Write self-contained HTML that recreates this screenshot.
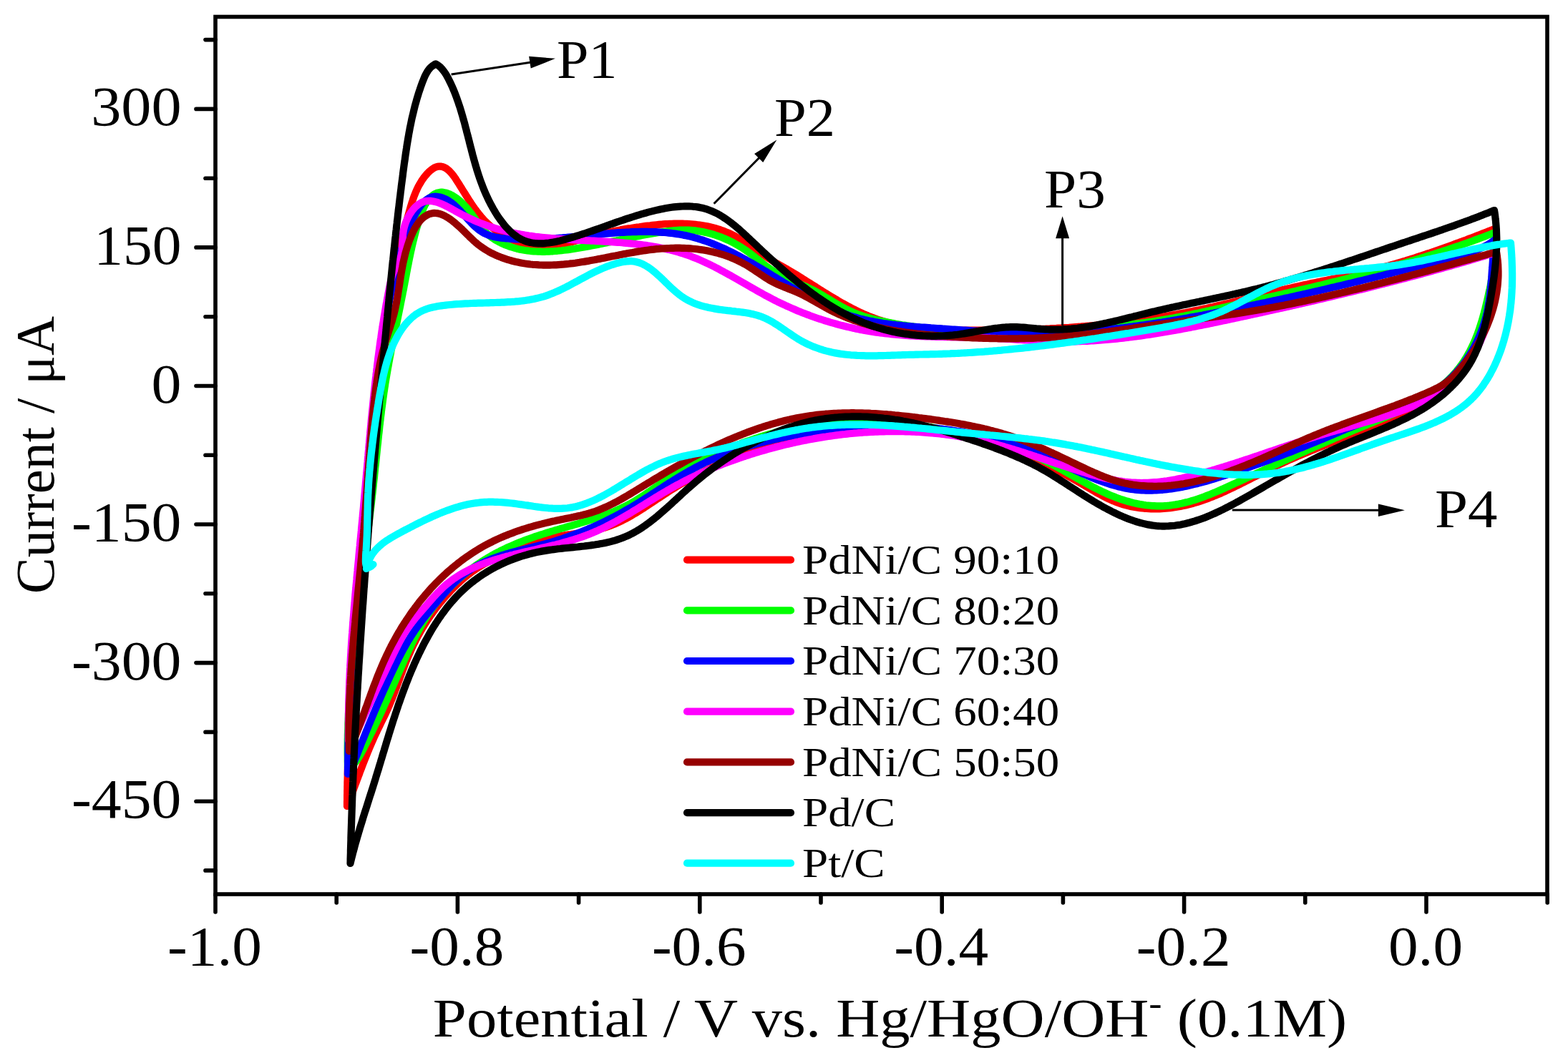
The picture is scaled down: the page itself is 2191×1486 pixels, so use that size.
<!DOCTYPE html><html><head><meta charset="utf-8"><style>html,body{margin:0;padding:0;background:#fff;}svg{display:block;}</style></head><body>
<svg width="2191" height="1486" viewBox="0 0 2191 1486">
<rect width="2191" height="1486" fill="#fff"/>
<path d="M485.0 1127.0L485.0 1124.0 485.0 1121.0 485.1 1118.0 485.1 1114.9 485.1 1111.9 485.2 1108.9 485.2 1105.9 485.3 1102.9 485.3 1099.9 485.4 1096.9 485.4 1093.9 485.5 1090.9 485.6 1087.9 485.7 1084.8 485.7 1081.8 485.8 1078.8 485.9 1075.8 486.0 1072.8 486.1 1069.8 486.2 1066.8 486.3 1063.8 486.4 1060.8 486.5 1057.8 486.6 1054.8 486.7 1051.8 486.9 1048.8 487.0 1045.8 487.1 1042.8 487.3 1039.8 487.4 1036.8 487.5 1033.8 487.7 1030.8 487.8 1027.8 488.0 1024.8 488.1 1021.8 488.3 1018.8 488.4 1015.8 488.6 1012.9 488.7 1009.9 488.9 1006.9 489.1 1003.9 489.3 1000.9 489.4 997.9 489.6 994.9 489.8 991.9 490.0 988.9 490.1 985.9 490.3 982.9 490.5 979.9 490.7 976.9 490.9 974.0 491.1 971.0 491.3 968.0 491.5 965.0 491.7 962.0 491.9 959.0 492.1 956.0 492.3 953.0 492.5 950.0 492.7 947.1 493.0 944.1 493.2 941.1 493.4 938.1 493.6 935.1 493.8 932.1 494.1 929.1 494.3 926.1 494.5 923.2 494.7 920.2 495.0 917.2 495.2 914.2 495.4 911.2 495.6 908.2 495.9 905.2 496.1 902.2 496.3 899.3 496.6 896.3 496.8 893.3 497.1 890.3 497.3 887.3 497.5 884.3 497.8 881.3 498.0 878.3 498.3 875.4 498.5 872.4 498.7 869.4 499.0 866.4 499.2 863.4 499.5 860.4 499.7 857.4 500.0 854.4 500.2 851.5 500.4 848.5 500.7 845.5 500.9 842.5 501.2 839.5 501.4 836.5 501.7 833.5 501.9 830.5 502.2 827.5 502.4 824.6 502.6 821.6 502.9 818.6 503.1 815.6 503.4 812.6 503.6 809.6 503.9 806.6 504.1 803.6 504.3 800.6 504.6 797.6 504.8 794.6 505.1 791.6 505.3 788.6 505.5 785.7 505.8 782.7 506.0 779.7 506.2 776.7 506.5 773.7 506.7 770.7 506.9 767.7 507.1 764.7 507.4 761.7 507.6 758.7 507.8 755.7 508.0 752.7 508.3 749.7 508.5 746.7 508.7 743.7 508.9 740.7 509.1 737.7 509.4 734.7 509.6 731.7 509.8 728.7 510.0 725.7 510.2 722.7 510.4 719.7 510.6 716.7 510.8 713.7 511.0 710.7 511.2 707.7 511.5 704.7 511.7 701.7 511.9 698.7 512.1 695.6 512.3 692.6 512.5 689.6 512.7 686.6 512.9 683.6 513.1 680.6 513.3 677.6 513.5 674.6 513.7 671.6 514.0 668.6 514.2 665.6 514.4 662.6 514.6 659.6 514.8 656.6 515.0 653.6 515.2 650.6 515.5 647.6 515.7 644.6 515.9 641.6 516.1 638.6 516.3 635.6 516.6 632.6 516.8 629.6 517.0 626.6 517.3 623.6 517.5 620.6 517.7 617.6 518.0 614.6 518.2 611.6 518.5 608.6 518.7 605.6 518.9 602.6 519.2 599.6 519.5 596.6 519.7 593.6 520.0 590.6 520.2 587.6 520.5 584.6 520.8 581.6 521.0 578.6 521.3 575.6 521.6 572.6 521.9 569.7 522.2 566.7 522.5 563.7 522.8 560.7 523.1 557.7 523.4 554.7 523.7 551.7 524.0 548.8 524.3 545.8 524.6 542.8 524.9 539.8 525.3 536.8 525.6 533.9 525.9 530.9 526.3 527.9 526.6 524.9 527.0 522.0 527.3 519.0 527.7 516.0 528.1 513.1 528.4 510.1 528.8 507.1 529.2 504.2 529.6 501.2 530.0 498.2 530.4 495.3 530.8 492.3 531.2 489.4 531.6 486.4 532.1 483.4 532.5 480.5 532.9 477.5 533.4 474.6 533.8 471.6 534.3 468.7 534.8 465.8 535.2 462.8 535.7 459.9 536.2 456.9 536.7 454.0 537.2 451.0 537.7 448.1 538.2 445.2 538.7 442.2 539.2 439.3 539.7 436.4 540.3 433.4 540.8 430.5 541.4 427.5 541.9 424.6 542.5 421.7 543.0 418.8 543.6 415.8 544.2 412.9 544.8 410.0 545.3 407.0 545.9 404.1 546.5 401.2 547.1 398.2 547.8 395.3 548.4 392.4 549.0 389.4 549.6 386.5 550.3 383.6 550.9 380.6 551.5 377.7 552.2 374.8 552.9 371.8 553.5 368.9 554.2 366.0 554.9 363.0 555.6 360.1 556.2 357.2 556.9 354.2 557.6 351.3 558.3 348.4 559.1 345.4 559.8 342.5 560.5 339.5 561.2 336.6 562.0 333.6 562.7 330.7 563.4 327.8 564.2 324.8 565.0 321.9 565.7 318.9 566.5 315.9 567.3 313.0 568.0 310.0 568.8 307.1 569.6 304.1 570.4 301.2 571.2 298.2 572.0 295.2 572.9 292.3 573.7 289.3 574.6 286.4 575.5 283.5 576.5 280.6 577.4 277.7 578.4 274.9 579.5 272.1 580.6 269.3 581.8 266.6 583.0 263.9 584.3 261.2 585.7 258.6 587.2 256.1 588.7 253.6 590.3 251.1 592.0 248.7 593.8 246.4 595.6 244.2 597.6 242.0 599.7 239.9 601.9 238.0 604.2 236.2 606.5 234.7 608.9 233.6 611.4 232.8 613.9 232.5 616.4 232.7 618.9 233.3 621.3 234.3 623.7 235.6 625.9 237.3 628.1 239.2 630.2 241.4 632.2 243.8 634.2 246.4 636.1 249.1 637.9 251.9 639.7 254.7 641.5 257.5 643.2 260.3 644.9 263.0 646.6 265.8 648.3 268.5 650.0 271.1 651.6 273.8 653.3 276.4 654.9 279.0 656.6 281.6 658.2 284.1 659.9 286.6 661.6 289.1 663.3 291.5 665.1 293.9 666.8 296.2 668.6 298.5 670.5 300.8 672.3 303.0 674.2 305.2 676.2 307.4 678.2 309.5 680.3 311.5 682.4 313.5 684.5 315.5 686.8 317.4 689.1 319.3 691.4 321.1 693.9 322.9 696.3 324.6 698.8 326.2 701.4 327.8 704.0 329.4 706.7 330.8 709.4 332.2 712.1 333.6 714.8 334.8 717.6 336.0 720.5 337.1 723.3 338.2 726.2 339.2 729.1 340.1 732.0 340.9 734.9 341.6 737.9 342.3 740.8 342.9 743.8 343.4 746.8 343.7 749.8 344.1 752.7 344.3 755.7 344.4 758.7 344.4 761.7 344.4 764.6 344.2 767.6 344.0 770.6 343.7 773.5 343.4 776.5 342.9 779.5 342.5 782.4 341.9 785.4 341.3 788.3 340.7 791.3 340.0 794.2 339.3 797.1 338.6 800.1 337.8 803.0 337.1 805.9 336.2 808.9 335.4 811.8 334.6 814.7 333.8 817.6 332.9 820.5 332.1 823.5 331.3 826.4 330.5 829.3 329.7 832.2 328.9 835.1 328.2 837.9 327.5 840.8 326.8 843.7 326.1 846.6 325.5 849.5 324.9 852.4 324.2 855.3 323.7 858.2 323.1 861.1 322.5 864.0 322.0 866.9 321.4 869.8 320.9 872.7 320.4 875.6 319.9 878.6 319.4 881.5 319.0 884.5 318.5 887.5 318.0 890.4 317.6 893.4 317.2 896.4 316.7 899.4 316.3 902.4 315.9 905.4 315.5 908.4 315.2 911.5 314.8 914.5 314.5 917.5 314.2 920.5 313.9 923.6 313.7 926.6 313.4 929.6 313.2 932.7 313.1 935.7 312.9 938.7 312.8 941.8 312.7 944.8 312.7 947.8 312.6 950.8 312.7 953.8 312.7 956.8 312.8 959.8 312.9 962.8 313.1 965.8 313.3 968.8 313.6 971.8 313.9 974.7 314.2 977.7 314.6 980.6 315.0 983.5 315.5 986.5 316.0 989.4 316.6 992.3 317.2 995.1 317.9 998.0 318.7 1000.8 319.5 1003.7 320.3 1006.5 321.2 1009.3 322.2 1012.0 323.3 1014.8 324.4 1017.5 325.5 1020.2 326.7 1022.9 328.0 1025.6 329.4 1028.3 330.8 1030.9 332.3 1033.5 333.8 1036.1 335.4 1038.7 337.0 1041.3 338.7 1043.8 340.4 1046.4 342.1 1048.9 343.8 1051.5 345.5 1054.0 347.3 1056.5 349.1 1059.0 350.8 1061.5 352.6 1064.0 354.4 1066.5 356.1 1069.0 357.8 1071.5 359.5 1074.0 361.2 1076.5 362.8 1079.1 364.4 1081.6 366.0 1084.1 367.5 1086.7 368.9 1089.2 370.4 1091.7 371.8 1094.3 373.2 1096.8 374.7 1099.4 376.1 1101.9 377.6 1104.5 379.1 1107.0 380.6 1109.5 382.1 1112.1 383.7 1114.6 385.2 1117.2 386.8 1119.7 388.4 1122.2 390.0 1124.8 391.6 1127.3 393.2 1129.9 394.8 1132.4 396.4 1135.0 398.0 1137.5 399.6 1140.1 401.2 1142.6 402.9 1145.2 404.5 1147.8 406.1 1150.3 407.7 1152.9 409.3 1155.5 410.9 1158.1 412.5 1160.7 414.1 1163.3 415.6 1165.9 417.2 1168.5 418.7 1171.1 420.3 1173.7 421.8 1176.3 423.3 1179.0 424.8 1181.6 426.2 1184.2 427.7 1186.9 429.1 1189.6 430.5 1192.2 431.9 1194.9 433.2 1197.6 434.6 1200.3 435.9 1203.0 437.1 1205.7 438.4 1208.4 439.6 1211.2 440.7 1213.9 441.9 1216.7 443.0 1219.5 444.1 1222.2 445.1 1225.0 446.1 1227.8 447.0 1230.7 447.9 1233.5 448.8 1236.3 449.7 1239.2 450.5 1242.0 451.2 1244.9 451.9 1247.8 452.6 1250.7 453.3 1253.6 453.9 1256.5 454.5 1259.4 455.1 1262.3 455.6 1265.3 456.1 1268.2 456.6 1271.1 457.0 1274.1 457.4 1277.1 457.8 1280.0 458.2 1283.0 458.5 1286.0 458.8 1289.0 459.1 1292.0 459.4 1295.0 459.7 1298.0 459.9 1301.0 460.1 1304.0 460.3 1307.0 460.5 1310.0 460.6 1313.0 460.8 1316.1 460.9 1319.1 461.0 1322.1 461.1 1325.1 461.2 1328.2 461.3 1331.2 461.4 1334.2 461.5 1337.3 461.5 1340.3 461.6 1343.3 461.6 1346.4 461.6 1349.4 461.7 1352.4 461.7 1355.5 461.7 1358.5 461.7 1361.5 461.7 1364.6 461.7 1367.6 461.7 1370.6 461.7 1373.6 461.7 1376.7 461.7 1379.7 461.7 1382.7 461.7 1385.7 461.7 1388.7 461.7 1391.8 461.6 1394.8 461.6 1397.8 461.6 1400.8 461.5 1403.8 461.5 1406.8 461.4 1409.9 461.4 1412.9 461.3 1415.9 461.2 1418.9 461.2 1421.9 461.1 1424.9 461.0 1427.9 460.9 1430.9 460.8 1433.9 460.7 1436.9 460.6 1439.9 460.5 1442.9 460.4 1445.9 460.3 1448.9 460.2 1451.9 460.1 1454.9 459.9 1457.9 459.8 1460.9 459.7 1463.9 459.5 1466.9 459.4 1469.9 459.2 1472.9 459.0 1475.9 458.9 1478.9 458.7 1481.9 458.5 1484.9 458.3 1487.8 458.1 1490.8 458.0 1493.8 457.8 1496.8 457.5 1499.8 457.3 1502.8 457.1 1505.8 456.9 1508.7 456.7 1511.7 456.4 1514.7 456.2 1517.7 455.9 1520.7 455.7 1523.6 455.4 1526.6 455.2 1529.6 454.9 1532.6 454.6 1535.5 454.3 1538.5 454.0 1541.5 453.7 1544.5 453.4 1547.4 453.1 1550.4 452.8 1553.4 452.5 1556.3 452.2 1559.3 451.8 1562.3 451.5 1565.2 451.1 1568.2 450.8 1571.2 450.4 1574.1 450.1 1577.1 449.7 1580.1 449.3 1583.0 448.9 1586.0 448.5 1588.9 448.1 1591.9 447.7 1594.9 447.3 1597.8 446.9 1600.8 446.5 1603.7 446.0 1606.7 445.6 1609.6 445.1 1612.6 444.7 1615.5 444.2 1618.5 443.7 1621.4 443.3 1624.4 442.8 1627.3 442.3 1630.3 441.8 1633.2 441.3 1636.2 440.8 1639.1 440.2 1642.1 439.7 1645.0 439.2 1648.0 438.6 1650.9 438.1 1653.9 437.5 1656.8 437.0 1659.8 436.4 1662.7 435.8 1665.6 435.2 1668.6 434.6 1671.5 434.0 1674.5 433.4 1677.4 432.8 1680.3 432.1 1683.3 431.5 1686.2 430.9 1689.1 430.2 1692.1 429.5 1695.0 428.9 1697.9 428.2 1700.9 427.5 1703.8 426.8 1706.7 426.2 1709.7 425.5 1712.6 424.8 1715.5 424.1 1718.5 423.4 1721.4 422.6 1724.3 421.9 1727.3 421.2 1730.2 420.5 1733.1 419.8 1736.0 419.0 1739.0 418.3 1741.9 417.6 1744.8 416.9 1747.8 416.1 1750.7 415.4 1753.6 414.7 1756.5 414.0 1759.5 413.2 1762.4 412.5 1765.3 411.8 1768.2 411.0 1771.2 410.3 1774.1 409.6 1777.0 408.9 1779.9 408.2 1782.9 407.5 1785.8 406.7 1788.7 406.0 1791.7 405.3 1794.6 404.6 1797.5 403.9 1800.4 403.3 1803.4 402.6 1806.3 401.9 1809.2 401.2 1812.1 400.6 1815.1 399.9 1818.0 399.3 1820.9 398.6 1823.8 398.0 1826.8 397.4 1829.7 396.7 1832.6 396.1 1835.6 395.5 1838.5 394.9 1841.4 394.3 1844.3 393.7 1847.3 393.1 1850.2 392.5 1853.1 391.9 1856.1 391.3 1859.0 390.7 1861.9 390.1 1864.8 389.5 1867.8 388.9 1870.7 388.3 1873.6 387.7 1876.5 387.0 1879.4 386.4 1882.4 385.8 1885.3 385.2 1888.2 384.5 1891.1 383.9 1894.0 383.2 1897.0 382.5 1899.9 381.9 1902.8 381.2 1905.7 380.5 1908.6 379.8 1911.5 379.1 1914.4 378.3 1917.3 377.6 1920.2 376.9 1923.1 376.1 1926.0 375.3 1928.9 374.6 1931.8 373.8 1934.7 373.0 1937.6 372.2 1940.5 371.4 1943.4 370.5 1946.3 369.7 1949.2 368.9 1952.1 368.0 1954.9 367.2 1957.8 366.3 1960.7 365.4 1963.6 364.6 1966.5 363.7 1969.3 362.8 1972.2 361.9 1975.1 361.0 1978.0 360.1 1980.8 359.1 1983.7 358.2 1986.5 357.3 1989.4 356.3 1992.3 355.4 1995.1 354.4 1998.0 353.5 2000.8 352.5 2003.7 351.5 2006.5 350.5 2009.4 349.5 2012.2 348.5 2015.1 347.5 2017.9 346.5 2020.7 345.5 2023.6 344.5 2026.4 343.5 2029.2 342.5 2032.0 341.4 2034.9 340.4 2037.7 339.4 2040.5 338.3 2043.3 337.3 2046.1 336.2 2049.0 335.2 2051.8 334.1 2054.6 333.0 2057.4 332.0 2060.2 330.9 2063.0 329.8 2065.8 328.7 2068.5 327.7 2071.3 326.6 2074.1 325.5 2076.9 324.4 2079.7 323.3 2082.5 322.2 2085.2 321.1 2088.0 320.0 2088.5 323.1 2089.0 326.2 2089.4 329.3 2089.8 332.4 2090.1 335.5 2090.4 338.5 2090.6 341.5 2090.7 344.5 2090.8 347.6 2090.9 350.5 2090.9 353.5 2090.9 356.5 2090.8 359.5 2090.7 362.4 2090.5 365.4 2090.3 368.3 2090.1 371.2 2089.8 374.1 2089.5 377.1 2089.2 380.0 2088.8 382.9 2088.4 385.8 2088.0 388.7 2087.5 391.6 2087.0 394.5 2086.5 397.4 2085.9 400.3 2085.4 403.1 2084.8 406.0 2084.1 408.9 2083.5 411.8 2082.9 414.7 2082.2 417.6 2081.5 420.5 2080.8 423.4 2080.0 426.4 2079.3 429.3 2078.6 432.2 2077.8 435.1 2077.0 438.1 2076.3 441.0 2075.5 444.0 2074.7 447.0 2073.9 449.9 2073.0 452.9 2072.2 455.9 2071.3 458.9 2070.5 461.8 2069.6 464.8 2068.7 467.7 2067.7 470.7 2066.8 473.6 2065.8 476.5 2064.8 479.4 2063.7 482.3 2062.6 485.2 2061.5 488.0 2060.4 490.8 2059.2 493.6 2057.9 496.4 2056.7 499.1 2055.4 501.8 2054.0 504.5 2052.6 507.1 2051.2 509.7 2049.7 512.3 2048.1 514.8 2046.5 517.2 2044.9 519.6 2043.2 522.0 2041.4 524.3 2039.6 526.6 2037.7 528.8 2035.7 531.0 2033.7 533.1 2031.7 535.1 2029.6 537.2 2027.4 539.1 2025.2 541.0 2023.0 542.9 2020.7 544.8 2018.4 546.6 2016.0 548.3 2013.6 550.0 2011.1 551.7 2008.6 553.4 2006.1 555.0 2003.6 556.6 2001.0 558.1 1998.4 559.6 1995.8 561.1 1993.1 562.6 1990.5 564.0 1987.8 565.5 1985.1 566.8 1982.3 568.2 1979.6 569.6 1976.9 570.9 1974.1 572.2 1971.3 573.5 1968.6 574.8 1965.8 576.1 1963.0 577.3 1960.2 578.6 1957.5 579.8 1954.7 581.1 1951.9 582.3 1949.1 583.5 1946.3 584.7 1943.5 585.9 1940.8 587.0 1938.0 588.2 1935.2 589.4 1932.4 590.5 1929.6 591.7 1926.8 592.8 1924.0 594.0 1921.2 595.1 1918.4 596.2 1915.7 597.3 1912.9 598.4 1910.1 599.5 1907.3 600.6 1904.5 601.7 1901.7 602.8 1898.9 603.9 1896.1 605.0 1893.3 606.1 1890.5 607.2 1887.7 608.3 1884.9 609.4 1882.1 610.4 1879.4 611.5 1876.6 612.6 1873.8 613.7 1871.0 614.8 1868.2 615.8 1865.4 616.9 1862.6 618.0 1859.9 619.1 1857.1 620.2 1854.3 621.3 1851.5 622.3 1848.7 623.4 1846.0 624.5 1843.2 625.6 1840.4 626.7 1837.7 627.9 1834.9 629.0 1832.1 630.1 1829.4 631.2 1826.6 632.4 1823.8 633.5 1821.1 634.7 1818.3 635.8 1815.6 637.0 1812.8 638.1 1810.1 639.3 1807.4 640.5 1804.6 641.7 1801.9 642.9 1799.1 644.1 1796.4 645.4 1793.7 646.6 1791.0 647.9 1788.3 649.1 1785.5 650.4 1782.8 651.7 1780.1 653.0 1777.4 654.3 1774.7 655.6 1772.0 656.9 1769.3 658.3 1766.6 659.6 1763.9 661.0 1761.3 662.3 1758.6 663.7 1755.9 665.1 1753.2 666.5 1750.5 667.8 1747.8 669.2 1745.1 670.6 1742.4 671.9 1739.8 673.3 1737.1 674.7 1734.4 676.0 1731.7 677.4 1729.0 678.7 1726.3 680.0 1723.5 681.4 1720.8 682.7 1718.1 683.9 1715.4 685.2 1712.7 686.5 1709.9 687.7 1707.2 689.0 1704.4 690.2 1701.7 691.3 1698.9 692.5 1696.1 693.6 1693.4 694.8 1690.6 695.8 1687.8 696.9 1685.0 697.9 1682.1 698.9 1679.3 699.9 1676.5 700.9 1673.6 701.8 1670.8 702.6 1667.9 703.5 1665.0 704.3 1662.1 705.1 1659.2 705.8 1656.3 706.5 1653.3 707.1 1650.4 707.7 1647.4 708.3 1644.4 708.8 1641.4 709.3 1638.4 709.7 1635.4 710.1 1632.4 710.4 1629.3 710.7 1626.3 710.9 1623.3 711.1 1620.2 711.3 1617.2 711.3 1614.1 711.4 1611.1 711.4 1608.1 711.3 1605.0 711.2 1602.0 711.0 1599.0 710.8 1596.0 710.5 1593.0 710.1 1590.0 709.7 1587.0 709.3 1584.1 708.8 1581.1 708.2 1578.2 707.5 1575.3 706.8 1572.4 706.1 1569.5 705.3 1566.7 704.4 1563.9 703.4 1561.1 702.4 1558.3 701.4 1555.6 700.3 1552.9 699.1 1550.2 697.9 1547.5 696.6 1544.8 695.3 1542.1 693.9 1539.5 692.5 1536.9 691.1 1534.3 689.7 1531.6 688.2 1529.0 686.7 1526.4 685.2 1523.8 683.7 1521.3 682.2 1518.7 680.7 1516.1 679.1 1513.5 677.6 1510.9 676.1 1508.3 674.6 1505.6 673.1 1503.0 671.6 1500.4 670.1 1497.8 668.6 1495.1 667.1 1492.5 665.7 1489.8 664.2 1487.2 662.8 1484.5 661.4 1481.9 660.0 1479.2 658.6 1476.5 657.2 1473.8 655.8 1471.1 654.4 1468.4 653.1 1465.7 651.7 1463.0 650.4 1460.3 649.1 1457.6 647.8 1454.9 646.5 1452.1 645.2 1449.4 644.0 1446.7 642.7 1443.9 641.5 1441.2 640.3 1438.4 639.0 1435.6 637.8 1432.9 636.7 1430.1 635.5 1427.3 634.3 1424.5 633.2 1421.7 632.1 1418.9 631.0 1416.1 629.9 1413.3 628.8 1410.5 627.7 1407.7 626.7 1404.9 625.7 1402.1 624.7 1399.2 623.7 1396.4 622.7 1393.6 621.7 1390.7 620.8 1387.9 619.8 1385.0 618.9 1382.1 618.0 1379.3 617.1 1376.4 616.3 1373.5 615.4 1370.7 614.6 1367.8 613.8 1364.9 613.0 1362.0 612.2 1359.1 611.5 1356.2 610.8 1353.3 610.0 1350.4 609.4 1347.5 608.7 1344.5 608.0 1341.6 607.4 1338.7 606.8 1335.8 606.2 1332.8 605.6 1329.9 605.0 1326.9 604.5 1324.0 604.0 1321.0 603.5 1318.1 603.0 1315.1 602.5 1312.2 602.1 1309.2 601.7 1306.2 601.3 1303.2 600.9 1300.3 600.5 1297.3 600.2 1294.3 599.8 1291.3 599.5 1288.3 599.2 1285.4 599.0 1282.4 598.7 1279.4 598.5 1276.4 598.3 1273.4 598.1 1270.4 597.9 1267.4 597.7 1264.4 597.6 1261.4 597.4 1258.4 597.3 1255.4 597.3 1252.4 597.2 1249.4 597.1 1246.4 597.1 1243.3 597.1 1240.3 597.1 1237.3 597.1 1234.3 597.1 1231.3 597.2 1228.3 597.2 1225.3 597.3 1222.3 597.4 1219.3 597.5 1216.3 597.7 1213.3 597.8 1210.2 598.0 1207.2 598.2 1204.2 598.4 1201.2 598.6 1198.2 598.8 1195.2 599.1 1192.2 599.3 1189.2 599.6 1186.2 599.9 1183.2 600.2 1180.2 600.6 1177.2 600.9 1174.2 601.3 1171.3 601.7 1168.3 602.1 1165.3 602.5 1162.3 602.9 1159.3 603.3 1156.3 603.8 1153.4 604.3 1150.4 604.7 1147.4 605.3 1144.5 605.8 1141.5 606.3 1138.5 606.8 1135.6 607.4 1132.6 608.0 1129.7 608.6 1126.7 609.2 1123.8 609.8 1120.9 610.4 1117.9 611.1 1115.0 611.8 1112.1 612.4 1109.1 613.1 1106.2 613.8 1103.3 614.6 1100.4 615.3 1097.5 616.1 1094.6 616.8 1091.7 617.6 1088.8 618.4 1085.9 619.2 1083.0 620.1 1080.2 620.9 1077.3 621.8 1074.4 622.6 1071.6 623.5 1068.7 624.4 1065.9 625.3 1063.0 626.3 1060.2 627.2 1057.3 628.2 1054.5 629.1 1051.7 630.1 1048.8 631.1 1046.0 632.1 1043.2 633.2 1040.4 634.2 1037.6 635.3 1034.8 636.4 1032.0 637.5 1029.2 638.6 1026.4 639.7 1023.7 640.8 1020.9 642.0 1018.1 643.1 1015.4 644.3 1012.6 645.5 1009.9 646.7 1007.2 647.9 1004.4 649.2 1001.7 650.4 999.0 651.7 996.3 653.0 993.6 654.2 990.9 655.6 988.2 656.9 985.5 658.2 982.8 659.6 980.1 660.9 977.5 662.3 974.8 663.7 972.1 665.1 969.5 666.5 966.9 668.0 964.2 669.4 961.6 670.9 959.0 672.4 956.4 673.9 953.8 675.4 951.2 676.9 948.6 678.4 946.0 680.0 943.4 681.6 940.9 683.1 938.3 684.7 935.8 686.3 933.2 688.0 930.7 689.6 928.2 691.2 925.6 692.9 923.1 694.6 920.6 696.2 918.1 697.9 915.6 699.6 913.1 701.3 910.6 702.9 908.1 704.6 905.5 706.3 903.0 707.9 900.5 709.6 898.0 711.2 895.5 712.8 892.9 714.4 890.4 716.0 887.8 717.5 885.3 719.0 882.7 720.5 880.1 722.0 877.5 723.5 874.9 724.9 872.3 726.2 869.7 727.6 867.0 728.9 864.4 730.1 861.7 731.3 859.0 732.5 856.3 733.6 853.5 734.7 850.7 735.7 847.9 736.7 845.1 737.6 842.3 738.4 839.4 739.2 836.6 740.0 833.7 740.7 830.7 741.3 827.8 741.9 824.9 742.5 821.9 743.1 818.9 743.6 815.9 744.1 812.9 744.6 810.0 745.1 806.9 745.6 803.9 746.0 800.9 746.5 797.9 747.0 794.9 747.4 791.9 747.9 788.9 748.4 785.9 748.9 782.9 749.4 779.9 749.9 776.9 750.5 774.0 751.1 771.0 751.7 768.1 752.4 765.2 753.1 762.2 753.9 759.4 754.7 756.5 755.6 753.6 756.5 750.8 757.4 748.0 758.4 745.1 759.4 742.3 760.4 739.5 761.4 736.7 762.5 733.9 763.6 731.1 764.6 728.3 765.7 725.5 766.8 722.7 767.9 719.9 769.0 717.1 770.1 714.3 771.2 711.5 772.3 708.8 773.4 706.0 774.6 703.2 775.7 700.4 776.9 697.7 778.1 694.9 779.3 692.2 780.5 689.5 781.8 686.8 783.1 684.1 784.4 681.5 785.8 678.8 787.2 676.2 788.6 673.6 790.1 671.1 791.6 668.6 793.2 666.0 794.8 663.6 796.5 661.1 798.2 658.7 800.0 656.3 801.8 653.9 803.6 651.6 805.5 649.3 807.4 647.0 809.4 644.7 811.3 642.5 813.4 640.3 815.4 638.1 817.5 636.0 819.6 633.8 821.7 631.7 823.9 629.6 826.1 627.6 828.3 625.6 830.5 623.5 832.7 621.6 835.0 619.6 837.3 617.7 839.6 615.7 841.9 613.9 844.2 612.0 846.6 610.2 848.9 608.3 851.3 606.6 853.7 604.8 856.1 603.1 858.6 601.3 861.0 599.7 863.5 598.0 866.0 596.3 868.5 594.7 871.0 593.1 873.5 591.6 876.1 590.0 878.6 588.5 881.2 587.0 883.8 585.6 886.4 584.1 889.0 582.7 891.7 581.3 894.3 580.0 897.0 578.6 899.6 577.3 902.3 576.0 905.0 574.8 907.7 573.6 910.5 572.4 913.2 571.2 915.9 570.0 918.7 568.9 921.5 567.7 924.2 566.6 927.0 565.5 929.8 564.5 932.6 563.4 935.4 562.3 938.2 561.3 941.0 560.2 943.8 559.2 946.7 558.2 949.5 557.1 952.3 556.1 955.1 555.0 957.9 554.0 960.8 552.9 963.6 551.9 966.4 550.8 969.2 549.7 972.0 548.6 974.8 547.5 977.6 546.3 980.3 545.2 983.1 544.0 985.9 542.8 988.6 541.6 991.4 540.3 994.1 539.1 996.8 537.8 999.5 536.5 1002.2 535.2 1004.9 533.8 1007.6 532.5 1010.3 531.2 1013.0 529.9 1015.7 528.6 1018.4 527.2 1021.1 526.0 1023.9 524.7 1026.6 523.4 1029.3 522.2 1032.0 521.0 1034.8 519.8 1037.5 518.6 1040.3 517.4 1043.0 516.2 1045.8 515.1 1048.5 513.9 1051.3 512.8 1054.1 511.7 1056.9 510.6 1059.7 509.5 1062.4 508.4 1065.2 507.3 1068.0 506.2 1070.8 505.2 1073.6 504.1 1076.4 503.0 1079.2 502.0 1082.1 500.9 1084.9 499.9 1087.7 498.8 1090.5 497.8 1093.3 496.7 1096.1 495.7 1098.9 494.6 1101.7 493.6 1104.5 492.5 1107.4 491.5 1110.2 490.4 1113.0 489.3 1115.8 488.3 1118.6 487.2 1121.4 486.1 1124.2 485.0 1127.0" fill="none" stroke="#ff0000" stroke-width="10.2" stroke-linejoin="round" stroke-linecap="round"/>
<path d="M486.0 1073.0L485.9 1070.0 485.9 1067.0 485.8 1064.0 485.8 1061.0 485.8 1058.0 485.7 1055.0 485.7 1051.9 485.7 1048.9 485.7 1045.9 485.7 1042.9 485.8 1039.9 485.8 1036.9 485.8 1033.9 485.9 1030.9 485.9 1027.9 486.0 1024.9 486.1 1021.9 486.2 1018.9 486.3 1015.9 486.3 1012.9 486.4 1009.9 486.6 1006.9 486.7 1003.9 486.8 1000.9 486.9 997.9 487.1 994.9 487.2 991.9 487.4 988.9 487.5 985.9 487.7 982.9 487.9 979.9 488.0 977.0 488.2 974.0 488.4 971.0 488.6 968.0 488.8 965.0 489.0 962.0 489.2 959.0 489.5 956.0 489.7 953.0 489.9 950.0 490.2 947.0 490.4 944.0 490.7 941.1 490.9 938.1 491.2 935.1 491.4 932.1 491.7 929.1 492.0 926.1 492.3 923.1 492.5 920.1 492.8 917.1 493.1 914.2 493.4 911.2 493.7 908.2 494.0 905.2 494.3 902.2 494.6 899.2 495.0 896.2 495.3 893.3 495.6 890.3 495.9 887.3 496.3 884.3 496.6 881.3 496.9 878.3 497.3 875.4 497.6 872.4 497.9 869.4 498.3 866.4 498.6 863.4 499.0 860.4 499.4 857.5 499.7 854.5 500.1 851.5 500.4 848.5 500.8 845.5 501.2 842.6 501.5 839.6 501.9 836.6 502.3 833.6 502.7 830.6 503.0 827.7 503.4 824.7 503.8 821.7 504.2 818.7 504.6 815.7 504.9 812.8 505.3 809.8 505.7 806.8 506.1 803.8 506.5 800.9 506.9 797.9 507.3 794.9 507.6 791.9 508.0 788.9 508.4 786.0 508.8 783.0 509.2 780.0 509.6 777.0 510.0 774.1 510.4 771.1 510.7 768.1 511.1 765.1 511.5 762.1 511.9 759.2 512.3 756.2 512.7 753.2 513.1 750.2 513.4 747.3 513.8 744.3 514.2 741.3 514.6 738.3 515.0 735.4 515.3 732.4 515.7 729.4 516.1 726.4 516.4 723.4 516.8 720.5 517.2 717.5 517.5 714.5 517.9 711.5 518.3 708.6 518.6 705.6 519.0 702.6 519.3 699.6 519.7 696.7 520.0 693.7 520.4 690.7 520.7 687.7 521.0 684.8 521.4 681.8 521.7 678.8 522.0 675.8 522.3 672.8 522.7 669.9 523.0 666.9 523.3 663.9 523.6 660.9 523.9 658.0 524.2 655.0 524.5 652.0 524.9 649.0 525.2 646.1 525.5 643.1 525.8 640.1 526.1 637.1 526.4 634.1 526.7 631.2 527.0 628.2 527.3 625.2 527.6 622.2 528.0 619.3 528.3 616.3 528.6 613.3 528.9 610.3 529.2 607.3 529.6 604.4 529.9 601.4 530.2 598.4 530.5 595.4 530.9 592.5 531.2 589.5 531.6 586.5 531.9 583.5 532.3 580.6 532.7 577.6 533.0 574.6 533.4 571.6 533.8 568.6 534.2 565.7 534.6 562.7 535.0 559.7 535.4 556.7 535.8 553.8 536.2 550.8 536.6 547.8 537.1 544.8 537.5 541.9 538.0 538.9 538.4 535.9 538.9 532.9 539.4 530.0 539.9 527.0 540.4 524.0 540.9 521.0 541.4 518.1 541.9 515.1 542.5 512.1 543.0 509.1 543.5 506.2 544.1 503.2 544.6 500.2 545.2 497.3 545.8 494.3 546.3 491.3 546.9 488.4 547.5 485.4 548.1 482.4 548.7 479.5 549.3 476.5 549.9 473.6 550.4 470.6 551.0 467.6 551.6 464.7 552.2 461.7 552.8 458.8 553.4 455.8 554.1 452.9 554.7 450.0 555.3 447.0 555.9 444.1 556.5 441.1 557.1 438.2 557.7 435.3 558.3 432.3 558.9 429.4 559.5 426.5 560.0 423.6 560.6 420.7 561.2 417.7 561.8 414.8 562.4 411.9 562.9 409.0 563.5 406.1 564.1 403.2 564.6 400.3 565.2 397.4 565.7 394.5 566.3 391.6 566.8 388.8 567.4 385.9 567.9 383.0 568.4 380.1 569.0 377.2 569.5 374.3 570.1 371.4 570.7 368.5 571.2 365.6 571.8 362.7 572.4 359.8 573.0 356.9 573.6 354.0 574.2 351.1 574.9 348.2 575.5 345.2 576.2 342.3 576.9 339.3 577.6 336.4 578.4 333.4 579.1 330.4 579.9 327.4 580.7 324.4 581.5 321.4 582.4 318.4 583.3 315.3 584.2 312.3 585.1 309.2 586.1 306.1 587.1 303.0 588.2 300.0 589.3 296.9 590.5 294.0 591.7 291.1 593.0 288.3 594.4 285.6 595.9 283.0 597.5 280.6 599.2 278.4 601.0 276.3 603.0 274.5 605.0 272.8 607.2 271.4 609.6 270.2 612.0 269.4 614.5 268.9 617.1 268.7 619.7 268.9 622.4 269.4 625.1 270.2 627.8 271.2 630.5 272.5 633.2 274.0 635.8 275.7 638.4 277.5 640.9 279.5 643.3 281.5 645.6 283.7 647.8 285.9 650.0 288.2 652.1 290.5 654.1 292.9 656.0 295.3 657.9 297.7 659.8 300.2 661.5 302.6 663.3 305.0 665.0 307.5 666.7 309.9 668.5 312.2 670.2 314.6 672.0 316.9 673.8 319.1 675.7 321.4 677.7 323.5 679.7 325.6 681.8 327.6 684.0 329.5 686.4 331.4 688.8 333.1 691.3 334.8 693.9 336.4 696.6 337.9 699.4 339.3 702.2 340.6 705.0 341.9 707.9 343.0 710.8 344.1 713.7 345.1 716.6 346.0 719.5 346.9 722.4 347.7 725.3 348.4 728.2 349.0 731.2 349.5 734.1 350.0 737.1 350.4 740.0 350.8 743.0 351.1 745.9 351.3 748.9 351.5 751.9 351.7 754.8 351.7 757.8 351.8 760.8 351.8 763.8 351.7 766.8 351.6 769.8 351.4 772.7 351.3 775.7 351.0 778.7 350.8 781.7 350.5 784.7 350.2 787.7 349.8 790.7 349.5 793.6 349.1 796.6 348.6 799.6 348.2 802.6 347.8 805.5 347.3 808.5 346.8 811.5 346.3 814.4 345.8 817.4 345.2 820.3 344.7 823.3 344.2 826.3 343.6 829.2 343.0 832.2 342.4 835.1 341.9 838.1 341.3 841.0 340.7 843.9 340.1 846.9 339.4 849.8 338.8 852.8 338.2 855.7 337.6 858.6 337.0 861.6 336.4 864.5 335.7 867.5 335.1 870.4 334.5 873.3 333.9 876.3 333.3 879.2 332.6 882.2 332.0 885.1 331.4 888.0 330.8 891.0 330.3 893.9 329.7 896.9 329.1 899.8 328.5 902.8 328.0 905.7 327.5 908.7 326.9 911.6 326.4 914.6 325.9 917.5 325.4 920.5 325.0 923.5 324.5 926.4 324.1 929.4 323.7 932.4 323.3 935.4 322.9 938.3 322.6 941.3 322.3 944.3 322.1 947.3 321.9 950.2 321.7 953.2 321.6 956.2 321.6 959.2 321.6 962.2 321.7 965.1 321.9 968.1 322.1 971.1 322.4 974.1 322.8 977.0 323.2 980.0 323.7 983.0 324.3 985.9 324.9 988.8 325.6 991.8 326.4 994.7 327.2 997.6 328.0 1000.5 329.0 1003.3 330.0 1006.2 331.0 1009.0 332.1 1011.8 333.3 1014.6 334.5 1017.4 335.7 1020.1 337.0 1022.9 338.4 1025.6 339.8 1028.2 341.3 1030.9 342.8 1033.5 344.3 1036.1 345.9 1038.6 347.6 1041.1 349.2 1043.6 351.0 1046.0 352.7 1048.5 354.5 1050.9 356.3 1053.2 358.2 1055.6 360.0 1057.9 361.9 1060.2 363.8 1062.6 365.7 1064.9 367.5 1067.3 369.4 1069.6 371.2 1072.0 373.0 1074.4 374.7 1076.8 376.4 1079.2 378.1 1081.7 379.7 1084.2 381.3 1086.7 382.8 1089.3 384.2 1092.0 385.6 1094.6 386.9 1097.3 388.2 1100.0 389.5 1102.7 390.7 1105.5 391.9 1108.2 393.1 1111.0 394.3 1113.8 395.5 1116.6 396.6 1119.3 397.8 1122.1 399.0 1124.9 400.2 1127.7 401.5 1130.4 402.8 1133.1 404.1 1135.8 405.4 1138.5 406.8 1141.2 408.2 1143.8 409.7 1146.5 411.2 1149.1 412.7 1151.7 414.3 1154.3 415.8 1156.9 417.4 1159.5 418.9 1162.1 420.5 1164.7 422.1 1167.3 423.6 1169.9 425.1 1172.5 426.6 1175.1 428.1 1177.7 429.6 1180.4 431.0 1183.0 432.4 1185.7 433.7 1188.4 435.0 1191.1 436.2 1193.9 437.4 1196.6 438.5 1199.4 439.6 1202.2 440.6 1205.0 441.6 1207.9 442.5 1210.7 443.4 1213.6 444.2 1216.5 445.0 1219.4 445.8 1222.3 446.5 1225.2 447.3 1228.1 447.9 1231.0 448.6 1234.0 449.2 1236.9 449.8 1239.9 450.4 1242.8 451.0 1245.8 451.6 1248.7 452.1 1251.7 452.7 1254.6 453.2 1257.6 453.7 1260.5 454.2 1263.5 454.6 1266.5 455.1 1269.4 455.5 1272.4 456.0 1275.4 456.4 1278.3 456.8 1281.3 457.2 1284.3 457.5 1287.3 457.9 1290.2 458.2 1293.2 458.6 1296.2 458.9 1299.2 459.2 1302.2 459.5 1305.1 459.8 1308.1 460.1 1311.1 460.3 1314.1 460.6 1317.1 460.8 1320.1 461.0 1323.1 461.3 1326.1 461.5 1329.1 461.6 1332.1 461.8 1335.1 462.0 1338.1 462.2 1341.1 462.3 1344.1 462.5 1347.1 462.6 1350.1 462.7 1353.1 462.8 1356.1 462.9 1359.1 463.0 1362.1 463.1 1365.1 463.2 1368.1 463.2 1371.1 463.3 1374.1 463.3 1377.1 463.4 1380.1 463.4 1383.1 463.4 1386.2 463.5 1389.2 463.5 1392.2 463.5 1395.2 463.5 1398.2 463.5 1401.2 463.5 1404.2 463.4 1407.2 463.4 1410.2 463.4 1413.2 463.3 1416.3 463.3 1419.3 463.2 1422.3 463.2 1425.3 463.1 1428.3 463.0 1431.3 463.0 1434.3 462.9 1437.3 462.8 1440.3 462.7 1443.3 462.6 1446.3 462.5 1449.3 462.4 1452.3 462.3 1455.3 462.2 1458.3 462.1 1461.4 462.0 1464.4 461.9 1467.4 461.8 1470.4 461.6 1473.4 461.5 1476.4 461.4 1479.3 461.3 1482.3 461.1 1485.3 461.0 1488.3 460.8 1491.3 460.7 1494.3 460.5 1497.3 460.4 1500.3 460.2 1503.3 460.0 1506.3 459.9 1509.3 459.7 1512.3 459.5 1515.3 459.3 1518.2 459.1 1521.2 458.9 1524.2 458.7 1527.2 458.5 1530.2 458.3 1533.2 458.0 1536.1 457.8 1539.1 457.6 1542.1 457.3 1545.1 457.1 1548.1 456.8 1551.0 456.5 1554.0 456.3 1557.0 456.0 1560.0 455.7 1562.9 455.4 1565.9 455.1 1568.9 454.8 1571.9 454.5 1574.8 454.1 1577.8 453.8 1580.8 453.4 1583.7 453.1 1586.7 452.7 1589.7 452.3 1592.6 452.0 1595.6 451.6 1598.5 451.2 1601.5 450.8 1604.5 450.3 1607.4 449.9 1610.4 449.5 1613.3 449.0 1616.3 448.6 1619.3 448.1 1622.2 447.6 1625.2 447.1 1628.1 446.6 1631.1 446.1 1634.0 445.6 1637.0 445.0 1639.9 444.5 1642.9 443.9 1645.8 443.4 1648.8 442.8 1651.7 442.2 1654.6 441.7 1657.6 441.1 1660.5 440.5 1663.5 439.9 1666.4 439.2 1669.4 438.6 1672.3 438.0 1675.2 437.4 1678.2 436.7 1681.1 436.1 1684.1 435.5 1687.0 434.8 1689.9 434.2 1692.9 433.5 1695.8 432.9 1698.8 432.2 1701.7 431.5 1704.6 430.9 1707.6 430.2 1710.5 429.6 1713.4 428.9 1716.4 428.2 1719.3 427.6 1722.2 426.9 1725.2 426.2 1728.1 425.6 1731.1 424.9 1734.0 424.2 1736.9 423.6 1739.9 422.9 1742.8 422.3 1745.7 421.6 1748.7 420.9 1751.6 420.3 1754.5 419.6 1757.5 418.9 1760.4 418.3 1763.3 417.6 1766.3 416.9 1769.2 416.3 1772.1 415.6 1775.1 414.9 1778.0 414.3 1780.9 413.6 1783.8 412.9 1786.8 412.3 1789.7 411.6 1792.6 410.9 1795.6 410.2 1798.5 409.6 1801.4 408.9 1804.3 408.2 1807.3 407.5 1810.2 406.9 1813.1 406.2 1816.0 405.5 1819.0 404.8 1821.9 404.1 1824.8 403.4 1827.7 402.7 1830.6 402.1 1833.6 401.4 1836.5 400.7 1839.4 400.0 1842.3 399.3 1845.2 398.6 1848.2 397.9 1851.1 397.2 1854.0 396.4 1856.9 395.7 1859.8 395.0 1862.7 394.3 1865.6 393.6 1868.6 392.9 1871.5 392.1 1874.4 391.4 1877.3 390.7 1880.2 390.0 1883.1 389.2 1886.0 388.5 1888.9 387.7 1891.8 387.0 1894.7 386.3 1897.6 385.5 1900.5 384.8 1903.4 384.0 1906.3 383.2 1909.2 382.5 1912.1 381.7 1915.0 380.9 1917.9 380.2 1920.8 379.4 1923.7 378.6 1926.6 377.8 1929.5 377.0 1932.4 376.3 1935.2 375.5 1938.1 374.7 1941.0 373.9 1943.9 373.0 1946.8 372.2 1949.7 371.4 1952.5 370.6 1955.4 369.8 1958.3 368.9 1961.2 368.1 1964.1 367.3 1966.9 366.4 1969.8 365.6 1972.7 364.7 1975.5 363.9 1978.4 363.0 1981.3 362.1 1984.1 361.3 1987.0 360.4 1989.9 359.5 1992.7 358.6 1995.6 357.7 1998.4 356.8 2001.3 355.9 2004.2 355.0 2007.0 354.1 2009.9 353.2 2012.7 352.3 2015.6 351.3 2018.4 350.4 2021.2 349.5 2024.1 348.5 2026.9 347.6 2029.8 346.6 2032.6 345.6 2035.4 344.7 2038.3 343.7 2041.1 342.7 2043.9 341.7 2046.8 340.7 2049.6 339.7 2052.4 338.7 2055.3 337.7 2058.1 336.7 2060.9 335.6 2063.7 334.6 2066.5 333.6 2069.3 332.5 2072.2 331.5 2075.0 330.4 2077.8 329.3 2080.6 328.3 2083.4 327.2 2086.2 326.1 2089.0 325.0 2089.2 328.1 2089.3 331.1 2089.3 334.2 2089.4 337.2 2089.4 340.2 2089.3 343.2 2089.2 346.2 2089.1 349.2 2089.0 352.2 2088.8 355.2 2088.6 358.2 2088.3 361.2 2088.0 364.2 2087.7 367.1 2087.4 370.1 2087.0 373.0 2086.6 376.0 2086.2 378.9 2085.7 381.9 2085.2 384.8 2084.8 387.7 2084.2 390.7 2083.7 393.6 2083.1 396.5 2082.6 399.4 2082.0 402.4 2081.4 405.3 2080.7 408.2 2080.1 411.1 2079.5 414.0 2078.8 417.0 2078.1 419.9 2077.4 422.8 2076.7 425.7 2076.0 428.6 2075.3 431.5 2074.5 434.4 2073.8 437.3 2073.0 440.2 2072.2 443.1 2071.4 446.0 2070.5 448.9 2069.6 451.8 2068.7 454.6 2067.8 457.5 2066.8 460.4 2065.8 463.2 2064.8 466.0 2063.7 468.8 2062.6 471.6 2061.5 474.4 2060.3 477.2 2059.1 480.0 2057.8 482.7 2056.5 485.5 2055.2 488.2 2053.8 490.9 2052.3 493.6 2050.8 496.2 2049.3 498.8 2047.7 501.4 2046.1 504.0 2044.4 506.5 2042.7 509.0 2041.0 511.4 2039.2 513.8 2037.3 516.2 2035.5 518.5 2033.5 520.8 2031.6 523.0 2029.6 525.2 2027.6 527.3 2025.5 529.4 2023.4 531.4 2021.2 533.4 2019.0 535.4 2016.8 537.3 2014.6 539.2 2012.3 541.1 2010.0 542.9 2007.7 544.7 2005.3 546.4 2002.9 548.1 2000.5 549.8 1998.0 551.5 1995.5 553.1 1993.0 554.7 1990.5 556.2 1987.9 557.8 1985.4 559.3 1982.8 560.8 1980.2 562.2 1977.5 563.7 1974.9 565.1 1972.2 566.5 1969.5 567.8 1966.8 569.2 1964.1 570.5 1961.4 571.8 1958.6 573.1 1955.9 574.4 1953.1 575.7 1950.3 576.9 1947.6 578.2 1944.8 579.4 1942.0 580.6 1939.2 581.8 1936.3 583.0 1933.5 584.2 1930.7 585.4 1927.9 586.6 1925.0 587.7 1922.2 588.9 1919.4 590.0 1916.6 591.2 1913.7 592.4 1910.9 593.5 1908.1 594.7 1905.3 595.8 1902.5 597.0 1899.7 598.1 1896.9 599.3 1894.1 600.4 1891.3 601.6 1888.5 602.8 1885.7 603.9 1882.9 605.1 1880.2 606.3 1877.4 607.4 1874.6 608.6 1871.9 609.8 1869.1 611.0 1866.4 612.1 1863.6 613.3 1860.9 614.5 1858.1 615.7 1855.4 616.9 1852.7 618.1 1849.9 619.3 1847.2 620.5 1844.5 621.6 1841.8 622.8 1839.0 624.0 1836.3 625.2 1833.6 626.5 1830.9 627.7 1828.2 628.9 1825.5 630.1 1822.8 631.3 1820.0 632.5 1817.3 633.7 1814.6 634.9 1811.9 636.2 1809.2 637.4 1806.5 638.6 1803.8 639.8 1801.1 641.1 1798.4 642.3 1795.7 643.5 1793.0 644.7 1790.3 646.0 1787.6 647.2 1784.9 648.5 1782.2 649.7 1779.5 650.9 1776.8 652.2 1774.0 653.4 1771.3 654.7 1768.6 655.9 1765.9 657.2 1763.2 658.4 1760.5 659.7 1757.7 660.9 1755.0 662.2 1752.3 663.5 1749.6 664.7 1746.8 666.0 1744.1 667.2 1741.4 668.5 1738.6 669.8 1735.9 671.0 1733.1 672.3 1730.4 673.6 1727.6 674.9 1724.8 676.1 1722.1 677.4 1719.3 678.7 1716.5 680.0 1713.8 681.2 1711.0 682.5 1708.2 683.7 1705.4 685.0 1702.6 686.2 1699.8 687.4 1697.0 688.6 1694.2 689.7 1691.4 690.9 1688.6 692.0 1685.7 693.1 1682.9 694.2 1680.1 695.2 1677.2 696.2 1674.4 697.2 1671.5 698.2 1668.7 699.1 1665.8 699.9 1662.9 700.8 1660.0 701.6 1657.2 702.3 1654.3 703.0 1651.4 703.7 1648.5 704.3 1645.6 704.9 1642.7 705.4 1639.7 705.8 1636.8 706.2 1633.9 706.6 1630.9 706.9 1628.0 707.1 1625.0 707.3 1622.1 707.4 1619.1 707.4 1616.1 707.3 1613.1 707.2 1610.2 707.1 1607.2 706.8 1604.2 706.5 1601.2 706.2 1598.2 705.8 1595.2 705.3 1592.2 704.8 1589.3 704.2 1586.3 703.6 1583.3 702.9 1580.4 702.1 1577.4 701.3 1574.5 700.5 1571.6 699.6 1568.7 698.7 1565.8 697.8 1563.0 696.8 1560.1 695.7 1557.3 694.6 1554.5 693.5 1551.7 692.4 1548.9 691.2 1546.2 690.0 1543.4 688.7 1540.7 687.5 1538.0 686.2 1535.2 684.8 1532.5 683.5 1529.9 682.1 1527.2 680.8 1524.5 679.4 1521.9 677.9 1519.2 676.5 1516.6 675.1 1513.9 673.6 1511.3 672.2 1508.7 670.7 1506.0 669.2 1503.4 667.7 1500.8 666.3 1498.2 664.8 1495.5 663.3 1492.9 661.8 1490.3 660.3 1487.7 658.9 1485.1 657.4 1482.4 655.9 1479.8 654.5 1477.2 653.1 1474.5 651.6 1471.9 650.2 1469.3 648.8 1466.6 647.5 1463.9 646.1 1461.3 644.8 1458.6 643.5 1455.9 642.2 1453.2 641.0 1450.5 639.7 1447.7 638.6 1445.0 637.4 1442.2 636.2 1439.5 635.1 1436.7 634.0 1434.0 632.9 1431.2 631.9 1428.4 630.8 1425.6 629.8 1422.8 628.8 1420.0 627.8 1417.1 626.9 1414.3 625.9 1411.5 625.0 1408.6 624.0 1405.8 623.1 1402.9 622.2 1400.1 621.3 1397.2 620.5 1394.3 619.6 1391.5 618.7 1388.6 617.9 1385.7 617.0 1382.8 616.2 1379.9 615.4 1377.0 614.6 1374.1 613.8 1371.2 613.0 1368.3 612.2 1365.4 611.4 1362.5 610.6 1359.6 609.9 1356.7 609.2 1353.7 608.4 1350.8 607.7 1347.9 607.0 1345.0 606.3 1342.0 605.6 1339.1 605.0 1336.1 604.3 1333.2 603.7 1330.2 603.0 1327.3 602.4 1324.3 601.8 1321.4 601.2 1318.4 600.6 1315.5 600.1 1312.5 599.5 1309.5 599.0 1306.6 598.4 1303.6 597.9 1300.6 597.4 1297.6 596.9 1294.7 596.4 1291.7 596.0 1288.7 595.5 1285.7 595.1 1282.7 594.7 1279.8 594.2 1276.8 593.8 1273.8 593.5 1270.8 593.1 1267.8 592.8 1264.8 592.4 1261.8 592.1 1258.8 591.8 1255.8 591.5 1252.8 591.2 1249.8 591.0 1246.8 590.7 1243.9 590.5 1240.9 590.3 1237.9 590.1 1234.9 589.9 1231.9 589.7 1228.9 589.6 1225.9 589.4 1222.9 589.3 1219.9 589.2 1216.9 589.1 1213.9 589.1 1210.9 589.0 1207.9 589.0 1204.9 589.0 1201.9 589.0 1198.9 589.0 1195.9 589.0 1192.9 589.1 1189.9 589.2 1186.9 589.2 1183.9 589.3 1181.0 589.5 1178.0 589.6 1175.0 589.8 1172.0 590.0 1169.0 590.2 1166.0 590.4 1163.1 590.6 1160.1 590.9 1157.1 591.1 1154.1 591.4 1151.2 591.7 1148.2 592.1 1145.2 592.4 1142.3 592.8 1139.3 593.2 1136.3 593.6 1133.4 594.0 1130.4 594.5 1127.5 594.9 1124.5 595.4 1121.6 595.9 1118.6 596.5 1115.7 597.0 1112.8 597.6 1109.8 598.2 1106.9 598.8 1104.0 599.4 1101.0 600.1 1098.1 600.8 1095.2 601.5 1092.3 602.2 1089.4 602.9 1086.5 603.7 1083.6 604.5 1080.7 605.3 1077.8 606.1 1074.9 606.9 1072.0 607.8 1069.1 608.7 1066.2 609.5 1063.4 610.4 1060.5 611.4 1057.6 612.3 1054.7 613.2 1051.9 614.2 1049.0 615.2 1046.2 616.2 1043.3 617.1 1040.5 618.1 1037.6 619.1 1034.8 620.2 1032.0 621.2 1029.1 622.2 1026.3 623.2 1023.5 624.3 1020.7 625.3 1017.9 626.4 1015.0 627.4 1012.2 628.5 1009.4 629.5 1006.6 630.6 1003.8 631.6 1001.0 632.7 998.3 633.7 995.5 634.8 992.7 635.8 989.9 636.9 987.2 638.0 984.5 639.1 981.7 640.3 979.0 641.5 976.3 642.7 973.6 644.0 971.0 645.3 968.4 646.6 965.7 648.0 963.1 649.5 960.5 651.0 958.0 652.5 955.4 654.0 952.9 655.6 950.3 657.2 947.8 658.8 945.3 660.5 942.8 662.2 940.3 663.9 937.8 665.6 935.3 667.3 932.8 669.1 930.4 670.8 927.9 672.6 925.4 674.3 922.9 676.1 920.5 677.9 918.0 679.6 915.5 681.4 913.0 683.1 910.6 684.9 908.1 686.6 905.6 688.3 903.1 690.0 900.6 691.7 898.1 693.4 895.5 695.0 893.0 696.7 890.4 698.2 887.9 699.8 885.3 701.3 882.7 702.8 880.1 704.3 877.5 705.7 874.9 707.1 872.2 708.4 869.5 709.7 866.9 711.0 864.2 712.2 861.4 713.4 858.7 714.6 856.0 715.8 853.2 716.9 850.5 718.0 847.7 719.1 844.9 720.1 842.1 721.1 839.3 722.1 836.5 723.1 833.7 724.1 830.8 725.0 828.0 725.9 825.2 726.8 822.3 727.7 819.5 728.6 816.6 729.5 813.7 730.4 810.8 731.2 808.0 732.1 805.1 732.9 802.2 733.7 799.3 734.6 796.4 735.4 793.5 736.2 790.6 737.0 787.8 737.9 784.9 738.7 782.0 739.5 779.1 740.4 776.2 741.2 773.3 742.1 770.4 742.9 767.5 743.8 764.6 744.7 761.8 745.6 758.9 746.5 756.0 747.4 753.2 748.3 750.3 749.3 747.5 750.2 744.6 751.2 741.8 752.2 739.0 753.2 736.1 754.3 733.3 755.3 730.5 756.4 727.7 757.5 724.9 758.6 722.1 759.7 719.4 760.9 716.6 762.1 713.9 763.3 711.1 764.5 708.4 765.7 705.7 767.0 703.0 768.3 700.3 769.6 697.7 771.0 695.0 772.3 692.3 773.7 689.7 775.2 687.1 776.6 684.5 778.1 681.9 779.6 679.4 781.2 676.8 782.7 674.3 784.3 671.8 786.0 669.3 787.6 666.8 789.3 664.3 791.0 661.9 792.8 659.5 794.6 657.1 796.4 654.7 798.2 652.3 800.0 650.0 801.9 647.7 803.8 645.4 805.8 643.1 807.7 640.8 809.7 638.6 811.7 636.4 813.8 634.2 815.8 632.1 817.9 630.0 820.0 627.9 822.2 625.8 824.3 623.7 826.5 621.7 828.7 619.7 831.0 617.8 833.2 615.8 835.5 613.9 837.8 612.0 840.1 610.2 842.5 608.3 844.8 606.5 847.2 604.8 849.6 603.1 852.0 601.4 854.5 599.7 856.9 598.0 859.4 596.4 861.9 594.8 864.5 593.3 867.0 591.7 869.6 590.2 872.1 588.7 874.7 587.3 877.3 585.8 879.9 584.4 882.5 583.0 885.2 581.6 887.8 580.2 890.5 578.8 893.2 577.5 895.9 576.2 898.6 574.9 901.3 573.6 904.0 572.3 906.7 571.0 909.4 569.8 912.1 568.5 914.9 567.3 917.6 566.1 920.4 564.8 923.1 563.6 925.9 562.4 928.6 561.2 931.4 560.0 934.2 558.8 936.9 557.6 939.7 556.4 942.5 555.2 945.2 554.0 948.0 552.8 950.7 551.6 953.5 550.4 956.2 549.2 959.0 548.0 961.7 546.8 964.5 545.6 967.2 544.4 970.0 543.1 972.7 541.9 975.4 540.7 978.2 539.5 980.9 538.2 983.6 537.0 986.3 535.8 989.0 534.5 991.8 533.3 994.5 532.0 997.2 530.7 999.9 529.5 1002.6 528.2 1005.3 526.9 1008.0 525.7 1010.7 524.4 1013.4 523.1 1016.1 521.8 1018.8 520.5 1021.5 519.2 1024.2 517.8 1026.8 516.5 1029.5 515.2 1032.2 513.9 1034.9 512.5 1037.6 511.2 1040.2 509.8 1042.9 508.5 1045.6 507.1 1048.3 505.7 1050.9 504.3 1053.6 502.9 1056.2 501.4 1058.8 499.8 1061.3 498.1 1063.7 496.2 1066.0 494.0 1068.1 491.6 1070.0 489.0 1071.6 486.0 1073.0" fill="none" stroke="#00ff00" stroke-width="10.2" stroke-linejoin="round" stroke-linecap="round"/>
<path d="M486.0 1082.0L486.0 1079.0 486.0 1076.0 486.0 1073.0 486.1 1070.0 486.1 1067.0 486.1 1064.0 486.2 1061.0 486.2 1058.0 486.3 1055.0 486.3 1052.0 486.4 1049.0 486.4 1046.0 486.5 1043.0 486.5 1040.0 486.6 1037.0 486.7 1034.0 486.8 1031.0 486.8 1028.0 486.9 1025.0 487.0 1022.0 487.1 1019.0 487.2 1016.0 487.3 1013.0 487.4 1010.0 487.5 1007.0 487.6 1004.0 487.7 1001.0 487.8 998.0 487.9 995.0 488.0 992.0 488.2 989.0 488.3 986.0 488.4 983.0 488.6 980.0 488.7 977.0 488.8 974.0 489.0 971.0 489.1 968.0 489.3 965.0 489.4 962.0 489.6 959.0 489.7 956.0 489.9 953.0 490.1 950.0 490.2 947.0 490.4 944.0 490.6 941.0 490.7 938.0 490.9 935.0 491.1 932.0 491.3 929.0 491.4 926.0 491.6 923.0 491.8 920.0 492.0 917.0 492.2 914.1 492.4 911.1 492.6 908.1 492.8 905.1 493.0 902.1 493.2 899.1 493.4 896.1 493.6 893.1 493.9 890.1 494.1 887.1 494.3 884.1 494.5 881.1 494.7 878.1 494.9 875.1 495.2 872.1 495.4 869.1 495.6 866.1 495.9 863.1 496.1 860.1 496.3 857.1 496.6 854.1 496.8 851.1 497.0 848.1 497.3 845.2 497.5 842.2 497.8 839.2 498.0 836.2 498.3 833.2 498.5 830.2 498.8 827.2 499.0 824.2 499.3 821.2 499.5 818.2 499.8 815.2 500.1 812.2 500.3 809.2 500.6 806.2 500.8 803.2 501.1 800.3 501.4 797.3 501.6 794.3 501.9 791.3 502.2 788.3 502.5 785.3 502.7 782.3 503.0 779.3 503.3 776.3 503.5 773.3 503.8 770.3 504.1 767.3 504.4 764.3 504.7 761.4 504.9 758.4 505.2 755.4 505.5 752.4 505.8 749.4 506.1 746.4 506.3 743.4 506.6 740.4 506.9 737.4 507.2 734.4 507.5 731.4 507.8 728.5 508.1 725.5 508.3 722.5 508.6 719.5 508.9 716.5 509.2 713.5 509.5 710.5 509.8 707.5 510.1 704.5 510.4 701.6 510.7 698.6 510.9 695.6 511.2 692.6 511.5 689.6 511.8 686.6 512.1 683.6 512.4 680.6 512.7 677.6 513.0 674.7 513.3 671.7 513.6 668.7 513.8 665.7 514.1 662.7 514.4 659.7 514.7 656.7 515.0 653.7 515.3 650.8 515.6 647.8 515.9 644.8 516.2 641.8 516.4 638.8 516.7 635.8 517.0 632.8 517.3 629.8 517.6 626.9 517.9 623.9 518.2 620.9 518.5 617.9 518.7 614.9 519.0 611.9 519.3 608.9 519.6 606.0 519.9 603.0 520.2 600.0 520.5 597.0 520.8 594.0 521.1 591.0 521.4 588.1 521.7 585.1 522.0 582.1 522.3 579.1 522.6 576.1 522.9 573.2 523.2 570.2 523.5 567.2 523.8 564.2 524.1 561.2 524.5 558.2 524.8 555.3 525.1 552.3 525.4 549.3 525.8 546.3 526.1 543.4 526.4 540.4 526.8 537.4 527.1 534.4 527.5 531.4 527.8 528.5 528.2 525.5 528.5 522.5 528.9 519.5 529.2 516.6 529.6 513.6 530.0 510.6 530.4 507.7 530.8 504.7 531.2 501.7 531.5 498.7 531.9 495.8 532.4 492.8 532.8 489.8 533.2 486.9 533.6 483.9 534.0 480.9 534.5 478.0 534.9 475.0 535.3 472.0 535.8 469.1 536.3 466.1 536.7 463.2 537.2 460.2 537.7 457.2 538.1 454.3 538.6 451.3 539.1 448.4 539.6 445.4 540.2 442.4 540.7 439.5 541.2 436.5 541.7 433.6 542.3 430.6 542.8 427.7 543.4 424.7 543.9 421.8 544.5 418.8 545.1 415.9 545.7 412.9 546.3 410.0 546.9 407.0 547.5 404.1 548.1 401.1 548.8 398.2 549.4 395.2 550.1 392.3 550.7 389.4 551.4 386.4 552.1 383.5 552.7 380.5 553.4 377.6 554.2 374.7 554.9 371.7 555.6 368.8 556.3 365.9 557.1 362.9 557.8 360.0 558.6 357.1 559.4 354.1 560.2 351.2 561.0 348.3 561.9 345.4 562.7 342.5 563.6 339.6 564.5 336.7 565.4 333.8 566.4 331.0 567.4 328.1 568.4 325.3 569.5 322.5 570.6 319.7 571.7 316.9 572.9 314.1 574.1 311.4 575.4 308.7 576.8 306.0 578.1 303.4 579.6 300.7 581.0 298.1 582.6 295.5 584.2 293.0 585.9 290.5 587.6 288.0 589.4 285.7 591.3 283.5 593.3 281.4 595.4 279.6 597.6 278.0 599.9 276.6 602.3 275.6 604.8 275.0 607.5 274.7 610.3 274.8 613.1 275.2 616.0 275.8 618.8 276.8 621.5 277.9 624.2 279.2 626.8 280.7 629.3 282.4 631.7 284.2 634.1 286.1 636.4 288.2 638.7 290.3 640.9 292.5 643.1 294.8 645.3 297.2 647.4 299.5 649.6 301.9 651.8 304.3 653.9 306.7 656.1 309.0 658.3 311.4 660.5 313.6 662.7 315.8 665.0 317.9 667.3 319.8 669.7 321.7 672.2 323.4 674.7 325.0 677.3 326.4 680.0 327.6 682.7 328.7 685.5 329.6 688.3 330.5 691.2 331.2 694.1 331.7 697.1 332.2 700.1 332.7 703.1 333.0 706.1 333.3 709.1 333.5 712.1 333.8 715.1 333.9 718.0 334.1 721.0 334.3 724.0 334.4 726.9 334.5 729.9 334.5 732.8 334.6 735.8 334.6 738.7 334.6 741.6 334.6 744.6 334.6 747.5 334.5 750.4 334.4 753.4 334.3 756.3 334.2 759.2 334.1 762.2 334.0 765.1 333.8 768.0 333.6 771.0 333.5 773.9 333.3 776.9 333.1 779.9 332.8 782.8 332.6 785.8 332.4 788.8 332.1 791.8 331.9 794.8 331.6 797.8 331.3 800.8 331.0 803.8 330.7 806.8 330.5 809.9 330.2 812.9 329.9 815.9 329.6 819.0 329.3 822.0 329.0 825.1 328.7 828.1 328.4 831.2 328.1 834.2 327.8 837.3 327.5 840.3 327.2 843.4 326.9 846.5 326.7 849.5 326.4 852.6 326.1 855.6 325.9 858.7 325.7 861.8 325.4 864.8 325.2 867.9 325.0 870.9 324.8 874.0 324.7 877.1 324.5 880.1 324.4 883.2 324.2 886.2 324.1 889.2 324.1 892.3 324.0 895.3 323.9 898.4 323.9 901.4 323.9 904.4 323.9 907.4 324.0 910.4 324.0 913.4 324.1 916.4 324.2 919.4 324.4 922.4 324.6 925.4 324.8 928.4 325.0 931.3 325.3 934.3 325.6 937.3 325.9 940.2 326.2 943.1 326.6 946.1 327.1 949.0 327.5 951.9 328.0 954.8 328.6 957.7 329.1 960.5 329.7 963.4 330.4 966.3 331.1 969.1 331.8 971.9 332.6 974.8 333.4 977.6 334.3 980.4 335.1 983.2 336.1 985.9 337.0 988.7 338.0 991.5 339.0 994.2 340.1 997.0 341.1 999.7 342.3 1002.4 343.4 1005.2 344.6 1007.9 345.8 1010.6 347.0 1013.3 348.2 1016.0 349.5 1018.7 350.8 1021.4 352.1 1024.0 353.4 1026.7 354.8 1029.4 356.2 1032.0 357.6 1034.7 359.0 1037.3 360.4 1040.0 361.9 1042.6 363.3 1045.2 364.8 1047.8 366.3 1050.5 367.8 1053.1 369.3 1055.7 370.9 1058.3 372.4 1060.9 374.0 1063.5 375.5 1066.2 377.1 1068.8 378.6 1071.4 380.2 1074.0 381.8 1076.6 383.4 1079.1 385.0 1081.7 386.6 1084.3 388.2 1086.9 389.8 1089.5 391.4 1092.1 392.9 1094.7 394.5 1097.3 396.1 1099.9 397.7 1102.5 399.3 1105.1 400.9 1107.7 402.4 1110.3 404.0 1112.9 405.5 1115.5 407.1 1118.1 408.6 1120.7 410.1 1123.4 411.6 1126.0 413.1 1128.6 414.6 1131.2 416.0 1133.9 417.5 1136.5 418.9 1139.2 420.3 1141.8 421.7 1144.5 423.1 1147.2 424.4 1149.8 425.7 1152.5 427.0 1155.2 428.3 1157.9 429.6 1160.6 430.8 1163.3 432.0 1166.1 433.2 1168.8 434.3 1171.5 435.4 1174.3 436.5 1177.1 437.6 1179.8 438.6 1182.6 439.6 1185.4 440.6 1188.2 441.5 1191.0 442.4 1193.9 443.2 1196.7 444.0 1199.6 444.8 1202.4 445.6 1205.3 446.3 1208.2 447.0 1211.1 447.6 1214.0 448.3 1216.9 448.9 1219.9 449.4 1222.8 450.0 1225.7 450.5 1228.7 451.0 1231.6 451.5 1234.6 452.0 1237.6 452.4 1240.5 452.8 1243.5 453.2 1246.5 453.6 1249.5 453.9 1252.5 454.3 1255.5 454.6 1258.5 454.9 1261.5 455.2 1264.5 455.5 1267.5 455.8 1270.5 456.0 1273.6 456.3 1276.6 456.6 1279.6 456.8 1282.6 457.0 1285.7 457.3 1288.7 457.5 1291.7 457.7 1294.7 457.9 1297.8 458.1 1300.8 458.4 1303.8 458.6 1306.8 458.8 1309.8 459.0 1312.9 459.2 1315.9 459.4 1318.9 459.7 1321.9 459.9 1324.9 460.1 1327.9 460.3 1330.9 460.5 1333.9 460.7 1337.0 460.9 1340.0 461.1 1343.0 461.3 1346.0 461.5 1349.0 461.7 1352.0 461.9 1355.0 462.1 1358.0 462.3 1361.0 462.5 1364.0 462.6 1367.0 462.8 1370.0 463.0 1373.0 463.1 1376.0 463.3 1379.0 463.5 1382.0 463.6 1385.0 463.8 1388.0 463.9 1391.0 464.0 1394.0 464.2 1397.0 464.3 1400.0 464.4 1403.0 464.6 1405.9 464.7 1408.9 464.8 1411.9 464.9 1414.9 465.0 1417.9 465.0 1420.9 465.1 1423.9 465.2 1426.9 465.3 1429.9 465.3 1432.9 465.4 1435.8 465.4 1438.8 465.4 1441.8 465.5 1444.8 465.5 1447.8 465.5 1450.8 465.5 1453.8 465.5 1456.8 465.5 1459.7 465.5 1462.7 465.4 1465.7 465.4 1468.7 465.3 1471.7 465.3 1474.7 465.2 1477.7 465.1 1480.6 465.0 1483.6 464.9 1486.6 464.8 1489.6 464.7 1492.6 464.6 1495.6 464.4 1498.6 464.3 1501.5 464.1 1504.5 463.9 1507.5 463.8 1510.5 463.6 1513.5 463.4 1516.5 463.2 1519.4 462.9 1522.4 462.7 1525.4 462.5 1528.4 462.2 1531.4 462.0 1534.4 461.7 1537.4 461.5 1540.3 461.2 1543.3 460.9 1546.3 460.6 1549.3 460.3 1552.3 460.0 1555.2 459.7 1558.2 459.4 1561.2 459.0 1564.2 458.7 1567.2 458.3 1570.2 458.0 1573.1 457.6 1576.1 457.3 1579.1 456.9 1582.1 456.5 1585.1 456.1 1588.0 455.7 1591.0 455.3 1594.0 454.9 1597.0 454.5 1599.9 454.1 1602.9 453.6 1605.9 453.2 1608.9 452.8 1611.8 452.3 1614.8 451.9 1617.8 451.4 1620.8 450.9 1623.7 450.5 1626.7 450.0 1629.7 449.5 1632.6 449.0 1635.6 448.6 1638.6 448.1 1641.6 447.6 1644.5 447.1 1647.5 446.5 1650.5 446.0 1653.4 445.5 1656.4 445.0 1659.4 444.5 1662.3 443.9 1665.3 443.4 1668.2 442.9 1671.2 442.3 1674.2 441.8 1677.1 441.2 1680.1 440.7 1683.1 440.1 1686.0 439.6 1689.0 439.0 1691.9 438.4 1694.9 437.9 1697.8 437.3 1700.8 436.7 1703.7 436.1 1706.7 435.6 1709.7 435.0 1712.6 434.4 1715.6 433.8 1718.5 433.2 1721.5 432.6 1724.4 432.0 1727.3 431.4 1730.3 430.8 1733.2 430.2 1736.2 429.6 1739.1 429.0 1742.1 428.4 1745.0 427.8 1748.0 427.2 1750.9 426.6 1753.8 426.0 1756.8 425.3 1759.7 424.7 1762.6 424.1 1765.6 423.5 1768.5 422.9 1771.4 422.2 1774.4 421.6 1777.3 421.0 1780.2 420.3 1783.2 419.7 1786.1 419.1 1789.0 418.4 1792.0 417.8 1794.9 417.1 1797.8 416.5 1800.8 415.9 1803.7 415.2 1806.6 414.6 1809.5 413.9 1812.5 413.2 1815.4 412.6 1818.3 411.9 1821.2 411.3 1824.2 410.6 1827.1 409.9 1830.0 409.3 1832.9 408.6 1835.8 407.9 1838.8 407.3 1841.7 406.6 1844.6 405.9 1847.5 405.3 1850.4 404.6 1853.4 403.9 1856.3 403.2 1859.2 402.5 1862.1 401.8 1865.0 401.2 1867.9 400.5 1870.9 399.8 1873.8 399.1 1876.7 398.4 1879.6 397.7 1882.5 397.0 1885.4 396.3 1888.4 395.6 1891.3 394.9 1894.2 394.2 1897.1 393.5 1900.0 392.8 1902.9 392.1 1905.8 391.4 1908.7 390.6 1911.7 389.9 1914.6 389.2 1917.5 388.5 1920.4 387.8 1923.3 387.1 1926.2 386.3 1929.1 385.6 1932.0 384.9 1934.9 384.2 1937.8 383.4 1940.8 382.7 1943.7 382.0 1946.6 381.2 1949.5 380.5 1952.4 379.8 1955.3 379.0 1958.2 378.3 1961.1 377.5 1964.0 376.8 1966.9 376.0 1969.9 375.3 1972.8 374.6 1975.7 373.8 1978.6 373.1 1981.5 372.3 1984.4 371.5 1987.3 370.8 1990.2 370.0 1993.1 369.3 1996.0 368.5 1998.9 367.8 2001.9 367.0 2004.8 366.2 2007.7 365.5 2010.6 364.7 2013.5 363.9 2016.4 363.1 2019.3 362.4 2022.2 361.6 2025.1 360.8 2028.0 360.1 2031.0 359.3 2033.9 358.5 2036.8 357.7 2039.7 356.9 2042.6 356.1 2045.5 355.3 2048.4 354.5 2051.3 353.6 2054.1 352.7 2057.0 351.7 2059.8 350.7 2062.6 349.7 2065.4 348.6 2068.2 347.4 2070.9 346.2 2073.6 344.8 2076.2 343.4 2078.9 342.0 2081.5 340.4 2084.0 338.7 2086.5 336.9 2089.0 335.0 2088.6 337.9 2088.2 340.9 2087.9 343.8 2087.5 346.7 2087.2 349.7 2086.9 352.7 2086.6 355.6 2086.4 358.6 2086.1 361.6 2085.9 364.6 2085.7 367.6 2085.5 370.6 2085.3 373.6 2085.0 376.6 2084.8 379.7 2084.6 382.7 2084.4 385.7 2084.2 388.7 2083.9 391.7 2083.7 394.7 2083.4 397.8 2083.2 400.8 2082.9 403.8 2082.5 406.8 2082.2 409.8 2081.9 412.8 2081.5 415.8 2081.1 418.8 2080.6 421.8 2080.1 424.8 2079.6 427.7 2079.1 430.7 2078.5 433.7 2077.9 436.6 2077.2 439.5 2076.5 442.5 2075.7 445.4 2074.9 448.3 2074.0 451.2 2073.1 454.1 2072.2 456.9 2071.2 459.8 2070.1 462.6 2069.0 465.4 2067.9 468.2 2066.7 471.0 2065.5 473.7 2064.3 476.4 2062.9 479.2 2061.6 481.8 2060.2 484.5 2058.8 487.1 2057.3 489.8 2055.8 492.3 2054.3 494.9 2052.7 497.4 2051.0 499.9 2049.4 502.4 2047.6 504.9 2045.9 507.3 2044.1 509.7 2042.3 512.0 2040.4 514.3 2038.5 516.6 2036.5 518.8 2034.6 521.1 2032.5 523.2 2030.5 525.4 2028.4 527.5 2026.3 529.5 2024.1 531.5 2021.9 533.5 2019.7 535.4 2017.4 537.3 2015.1 539.1 2012.8 540.9 2010.4 542.7 2008.0 544.4 2005.5 546.1 2003.1 547.7 2000.6 549.3 1998.1 550.9 1995.5 552.4 1992.9 553.8 1990.3 555.3 1987.7 556.7 1985.1 558.1 1982.4 559.5 1979.7 560.8 1977.0 562.1 1974.3 563.4 1971.5 564.6 1968.8 565.9 1966.0 567.1 1963.2 568.3 1960.4 569.4 1957.6 570.6 1954.8 571.7 1951.9 572.9 1949.1 574.0 1946.2 575.1 1943.4 576.2 1940.5 577.2 1937.6 578.3 1934.7 579.4 1931.9 580.4 1929.0 581.5 1926.1 582.6 1923.2 583.6 1920.3 584.7 1917.5 585.7 1914.6 586.8 1911.7 587.9 1908.8 588.9 1906.0 590.0 1903.1 591.1 1900.3 592.2 1897.5 593.3 1894.6 594.4 1891.8 595.5 1889.0 596.7 1886.2 597.8 1883.4 598.9 1880.6 600.1 1877.8 601.2 1875.0 602.4 1872.3 603.5 1869.5 604.7 1866.7 605.9 1864.0 607.0 1861.2 608.2 1858.5 609.3 1855.7 610.5 1853.0 611.7 1850.2 612.8 1847.5 614.0 1844.7 615.1 1842.0 616.2 1839.2 617.4 1836.5 618.5 1833.8 619.6 1831.0 620.7 1828.3 621.9 1825.6 623.0 1822.8 624.1 1820.1 625.2 1817.4 626.3 1814.6 627.3 1811.9 628.4 1809.1 629.5 1806.4 630.6 1803.7 631.6 1800.9 632.7 1798.2 633.8 1795.4 634.8 1792.7 635.9 1789.9 636.9 1787.2 637.9 1784.4 639.0 1781.6 640.0 1778.9 641.0 1776.1 642.1 1773.3 643.1 1770.5 644.1 1767.7 645.1 1765.0 646.1 1762.2 647.2 1759.4 648.2 1756.5 649.2 1753.7 650.2 1750.9 651.2 1748.1 652.2 1745.3 653.2 1742.4 654.2 1739.6 655.1 1736.7 656.1 1733.9 657.1 1731.0 658.1 1728.1 659.1 1725.2 660.1 1722.3 661.0 1719.4 662.0 1716.5 663.0 1713.6 663.9 1710.7 664.9 1707.8 665.8 1704.9 666.8 1701.9 667.7 1699.0 668.6 1696.0 669.5 1693.1 670.4 1690.1 671.3 1687.2 672.2 1684.2 673.0 1681.2 673.8 1678.3 674.6 1675.3 675.4 1672.3 676.2 1669.3 676.9 1666.4 677.6 1663.4 678.3 1660.4 679.0 1657.4 679.7 1654.5 680.3 1651.5 680.9 1648.5 681.4 1645.5 682.0 1642.5 682.5 1639.6 682.9 1636.6 683.4 1633.6 683.8 1630.6 684.1 1627.7 684.5 1624.7 684.8 1621.7 685.0 1618.8 685.2 1615.8 685.4 1612.9 685.5 1609.9 685.6 1607.0 685.6 1604.0 685.6 1601.1 685.6 1598.2 685.5 1595.2 685.4 1592.3 685.2 1589.4 684.9 1586.5 684.6 1583.6 684.3 1580.7 683.9 1577.8 683.4 1575.0 682.9 1572.1 682.4 1569.2 681.8 1566.4 681.1 1563.5 680.5 1560.7 679.7 1557.9 678.9 1555.0 678.1 1552.2 677.3 1549.4 676.4 1546.6 675.5 1543.8 674.5 1540.9 673.5 1538.1 672.5 1535.3 671.5 1532.5 670.4 1529.7 669.3 1527.0 668.2 1524.2 667.0 1521.4 665.8 1518.6 664.6 1515.8 663.4 1513.0 662.2 1510.2 661.0 1507.5 659.7 1504.7 658.5 1501.9 657.2 1499.1 655.9 1496.4 654.7 1493.6 653.4 1490.8 652.1 1488.0 650.8 1485.2 649.5 1482.4 648.2 1479.7 646.9 1476.9 645.6 1474.1 644.4 1471.3 643.1 1468.5 641.8 1465.7 640.6 1462.9 639.3 1460.1 638.1 1457.3 636.9 1454.5 635.7 1451.7 634.6 1448.9 633.4 1446.0 632.3 1443.2 631.2 1440.4 630.1 1437.5 629.0 1434.7 627.9 1431.9 626.9 1429.0 625.9 1426.2 624.9 1423.3 623.9 1420.5 622.9 1417.6 622.0 1414.7 621.0 1411.9 620.1 1409.0 619.2 1406.1 618.4 1403.2 617.5 1400.4 616.7 1397.5 615.8 1394.6 615.0 1391.7 614.2 1388.8 613.5 1385.9 612.7 1383.0 612.0 1380.1 611.3 1377.2 610.6 1374.3 609.9 1371.4 609.2 1368.5 608.5 1365.5 607.9 1362.6 607.3 1359.7 606.7 1356.8 606.1 1353.9 605.5 1350.9 605.0 1348.0 604.4 1345.1 603.9 1342.1 603.4 1339.2 602.9 1336.2 602.5 1333.3 602.0 1330.4 601.6 1327.4 601.1 1324.5 600.7 1321.5 600.3 1318.6 600.0 1315.6 599.6 1312.6 599.3 1309.7 598.9 1306.7 598.6 1303.8 598.3 1300.8 598.0 1297.8 597.8 1294.9 597.5 1291.9 597.3 1288.9 597.0 1286.0 596.8 1283.0 596.6 1280.0 596.5 1277.0 596.3 1274.1 596.2 1271.1 596.0 1268.1 595.9 1265.1 595.8 1262.1 595.7 1259.2 595.6 1256.2 595.6 1253.2 595.5 1250.2 595.5 1247.2 595.5 1244.2 595.5 1241.3 595.5 1238.3 595.5 1235.3 595.5 1232.3 595.6 1229.3 595.6 1226.3 595.7 1223.3 595.8 1220.3 595.9 1217.3 596.0 1214.4 596.2 1211.4 596.3 1208.4 596.5 1205.4 596.6 1202.4 596.8 1199.4 597.0 1196.4 597.2 1193.4 597.4 1190.4 597.7 1187.4 597.9 1184.4 598.2 1181.5 598.5 1178.5 598.7 1175.5 599.0 1172.5 599.3 1169.5 599.7 1166.5 600.0 1163.5 600.3 1160.5 600.7 1157.6 601.1 1154.6 601.5 1151.6 601.9 1148.6 602.3 1145.6 602.7 1142.6 603.1 1139.7 603.6 1136.7 604.0 1133.7 604.5 1130.7 605.0 1127.7 605.4 1124.8 605.9 1121.8 606.4 1118.8 607.0 1115.9 607.5 1112.9 608.0 1109.9 608.6 1106.9 609.2 1104.0 609.7 1101.0 610.3 1098.1 610.9 1095.1 611.5 1092.1 612.2 1089.2 612.8 1086.2 613.5 1083.3 614.1 1080.3 614.8 1077.4 615.5 1074.5 616.2 1071.5 616.9 1068.6 617.6 1065.7 618.4 1062.8 619.1 1059.8 619.9 1056.9 620.7 1054.0 621.5 1051.1 622.3 1048.2 623.2 1045.4 624.0 1042.5 624.9 1039.6 625.8 1036.7 626.7 1033.9 627.6 1031.0 628.6 1028.2 629.5 1025.3 630.5 1022.5 631.5 1019.7 632.5 1016.9 633.5 1014.1 634.6 1011.3 635.7 1008.5 636.8 1005.7 637.9 1002.9 639.0 1000.2 640.2 997.4 641.3 994.7 642.5 992.0 643.7 989.2 645.0 986.5 646.2 983.8 647.5 981.1 648.8 978.5 650.2 975.8 651.5 973.1 652.9 970.5 654.3 967.9 655.7 965.2 657.2 962.6 658.6 960.0 660.1 957.4 661.6 954.8 663.1 952.3 664.6 949.7 666.2 947.1 667.7 944.6 669.3 942.0 670.9 939.5 672.5 937.0 674.1 934.4 675.7 931.9 677.3 929.4 678.9 926.8 680.6 924.3 682.2 921.8 683.8 919.3 685.5 916.7 687.1 914.2 688.8 911.7 690.4 909.2 692.0 906.6 693.7 904.1 695.3 901.6 696.9 899.1 698.5 896.5 700.1 894.0 701.7 891.4 703.3 888.9 704.9 886.3 706.4 883.7 708.0 881.2 709.5 878.6 711.0 876.0 712.5 873.4 714.0 870.8 715.5 868.2 716.9 865.6 718.4 863.0 719.8 860.3 721.2 857.7 722.6 855.0 723.9 852.4 725.3 849.7 726.6 847.0 728.0 844.4 729.3 841.7 730.6 839.0 731.8 836.3 733.1 833.6 734.3 830.8 735.6 828.1 736.8 825.4 738.0 822.6 739.1 819.9 740.3 817.1 741.4 814.4 742.6 811.6 743.7 808.8 744.8 806.0 745.8 803.2 746.9 800.4 747.9 797.6 748.9 794.8 749.9 791.9 750.9 789.1 751.9 786.3 752.9 783.4 753.8 780.5 754.7 777.7 755.6 774.8 756.5 771.9 757.4 769.0 758.2 766.1 759.0 763.2 759.9 760.3 760.6 757.4 761.4 754.4 762.2 751.5 763.0 748.5 763.7 745.6 764.4 742.7 765.2 739.7 765.9 736.8 766.6 733.8 767.4 730.9 768.1 727.9 768.9 725.0 769.6 722.1 770.4 719.2 771.1 716.3 771.9 713.4 772.7 710.5 773.6 707.6 774.4 704.7 775.3 701.9 776.2 699.0 777.1 696.2 778.0 693.4 779.0 690.6 780.0 687.8 781.1 685.0 782.1 682.3 783.3 679.6 784.4 676.9 785.6 674.2 786.9 671.6 788.2 669.0 789.6 666.4 791.0 663.8 792.4 661.3 793.9 658.8 795.5 656.3 797.2 653.8 798.9 651.4 800.6 649.0 802.4 646.7 804.3 644.4 806.2 642.1 808.2 639.8 810.2 637.6 812.3 635.4 814.4 633.2 816.5 631.0 818.7 628.9 820.9 626.7 823.1 624.6 825.4 622.6 827.7 620.5 829.9 618.5 832.3 616.5 834.6 614.5 836.9 612.5 839.3 610.5 841.6 608.6 843.9 606.6 846.3 604.7 848.6 602.8 850.9 600.9 853.3 599.1 855.6 597.2 857.9 595.4 860.2 593.5 862.5 591.7 864.8 589.9 867.1 588.2 869.5 586.4 871.8 584.7 874.2 583.0 876.6 581.3 878.9 579.6 881.4 578.0 883.8 576.4 886.3 574.8 888.8 573.2 891.3 571.7 893.8 570.1 896.3 568.6 898.9 567.1 901.5 565.7 904.1 564.2 906.7 562.8 909.3 561.4 912.0 560.0 914.6 558.6 917.3 557.2 920.0 555.9 922.7 554.5 925.4 553.2 928.1 551.9 930.8 550.6 933.6 549.3 936.3 548.0 939.0 546.7 941.8 545.4 944.5 544.2 947.3 542.9 950.0 541.7 952.8 540.4 955.5 539.2 958.3 538.0 961.0 536.7 963.8 535.5 966.5 534.3 969.3 533.1 972.0 531.9 974.8 530.7 977.5 529.5 980.3 528.3 983.0 527.1 985.8 525.9 988.5 524.8 991.3 523.6 994.0 522.4 996.8 521.3 999.5 520.1 1002.3 519.0 1005.0 517.8 1007.8 516.7 1010.6 515.5 1013.3 514.4 1016.1 513.3 1018.8 512.1 1021.6 511.0 1024.4 509.9 1027.1 508.8 1029.9 507.7 1032.7 506.5 1035.5 505.4 1038.2 504.3 1041.0 503.2 1043.8 502.1 1046.6 501.1 1049.4 500.0 1052.2 498.9 1055.0 497.8 1057.7 496.6 1060.5 495.5 1063.3 494.3 1066.0 493.1 1068.8 491.8 1071.5 490.4 1074.2 489.0 1076.8 487.6 1079.4 486.0 1082.0" fill="none" stroke="#0000ff" stroke-width="10.2" stroke-linejoin="round" stroke-linecap="round"/>
<path d="M487.0 1035.0L487.0 1032.0 486.9 1029.0 486.9 1026.0 486.9 1023.0 486.9 1019.9 486.9 1016.9 486.9 1013.9 486.9 1010.9 486.9 1007.9 486.9 1004.9 487.0 1001.9 487.0 998.9 487.0 995.9 487.1 992.9 487.1 989.9 487.2 986.9 487.3 983.9 487.3 980.8 487.4 977.8 487.5 974.8 487.6 971.8 487.7 968.8 487.8 965.8 487.9 962.8 488.0 959.8 488.1 956.8 488.2 953.8 488.3 950.8 488.5 947.8 488.6 944.8 488.7 941.8 488.9 938.8 489.0 935.8 489.2 932.8 489.3 929.9 489.5 926.9 489.7 923.9 489.8 920.9 490.0 917.9 490.2 914.9 490.4 911.9 490.5 908.9 490.7 905.9 490.9 902.9 491.1 899.9 491.3 896.9 491.5 893.9 491.7 890.9 491.9 887.9 492.2 884.9 492.4 881.9 492.6 879.0 492.8 876.0 493.0 873.0 493.3 870.0 493.5 867.0 493.7 864.0 494.0 861.0 494.2 858.0 494.5 855.0 494.7 852.0 494.9 849.0 495.2 846.1 495.5 843.1 495.7 840.1 496.0 837.1 496.2 834.1 496.5 831.1 496.7 828.1 497.0 825.1 497.3 822.1 497.5 819.1 497.8 816.2 498.1 813.2 498.4 810.2 498.6 807.2 498.9 804.2 499.2 801.2 499.5 798.2 499.7 795.2 500.0 792.3 500.3 789.3 500.6 786.3 500.9 783.3 501.2 780.3 501.4 777.3 501.7 774.3 502.0 771.3 502.3 768.3 502.6 765.3 502.9 762.4 503.1 759.4 503.4 756.4 503.7 753.4 504.0 750.4 504.3 747.4 504.6 744.4 504.9 741.4 505.1 738.4 505.4 735.5 505.7 732.5 506.0 729.5 506.3 726.5 506.6 723.5 506.8 720.5 507.1 717.5 507.4 714.5 507.7 711.5 508.0 708.5 508.2 705.5 508.5 702.5 508.8 699.6 509.1 696.6 509.3 693.6 509.6 690.6 509.9 687.6 510.1 684.6 510.4 681.6 510.7 678.6 510.9 675.6 511.2 672.6 511.5 669.6 511.7 666.6 512.0 663.6 512.3 660.6 512.5 657.6 512.8 654.6 513.1 651.6 513.3 648.6 513.6 645.7 513.8 642.7 514.1 639.7 514.4 636.7 514.6 633.7 514.9 630.7 515.2 627.7 515.4 624.7 515.7 621.7 516.0 618.7 516.2 615.7 516.5 612.7 516.8 609.7 517.1 606.7 517.3 603.7 517.6 600.7 517.9 597.8 518.2 594.8 518.5 591.8 518.7 588.8 519.0 585.8 519.3 582.8 519.6 579.8 519.9 576.8 520.2 573.8 520.5 570.8 520.8 567.8 521.1 564.9 521.4 561.9 521.7 558.9 522.0 555.9 522.3 552.9 522.6 549.9 522.9 546.9 523.3 544.0 523.6 541.0 523.9 538.0 524.2 535.0 524.6 532.0 524.9 529.0 525.3 526.1 525.6 523.1 526.0 520.1 526.3 517.1 526.7 514.1 527.0 511.2 527.4 508.2 527.8 505.2 528.1 502.2 528.5 499.3 528.9 496.3 529.3 493.3 529.7 490.3 530.1 487.4 530.5 484.4 530.9 481.4 531.3 478.5 531.7 475.5 532.2 472.5 532.6 469.6 533.0 466.6 533.5 463.6 533.9 460.7 534.4 457.7 534.8 454.7 535.3 451.8 535.8 448.8 536.2 445.9 536.7 442.9 537.2 440.0 537.7 437.0 538.2 434.0 538.7 431.1 539.2 428.1 539.7 425.2 540.3 422.2 540.8 419.3 541.4 416.3 541.9 413.4 542.5 410.5 543.0 407.5 543.6 404.6 544.2 401.6 544.8 398.7 545.4 395.8 546.0 392.8 546.8 389.9 547.6 387.0 548.5 384.2 549.6 381.4 550.8 378.6 552.1 375.8 553.5 373.0 555.0 370.3 556.4 367.6 557.7 364.9 558.9 362.2 559.9 359.4 560.7 356.7 561.3 353.9 561.7 351.1 562.0 348.3 562.2 345.4 562.3 342.6 562.4 339.7 562.5 336.8 562.6 333.8 562.8 330.8 563.0 327.8 563.4 324.8 563.9 321.7 564.6 318.6 565.5 315.4 566.5 312.3 567.7 309.2 569.0 306.2 570.5 303.2 572.1 300.3 573.9 297.5 575.7 294.9 577.7 292.4 579.7 290.1 581.9 288.1 584.1 286.2 586.4 284.6 588.8 283.2 591.2 282.2 593.7 281.4 596.2 281.0 598.8 280.8 601.4 280.9 604.0 281.2 606.7 281.7 609.4 282.4 612.2 283.2 614.9 284.2 617.7 285.4 620.5 286.7 623.3 288.0 626.2 289.5 629.0 291.0 631.8 292.5 634.7 294.1 637.5 295.7 640.3 297.2 643.1 298.7 645.9 300.2 648.7 301.6 651.5 303.0 654.3 304.3 657.1 305.6 659.9 306.9 662.6 308.2 665.4 309.4 668.2 310.5 670.9 311.6 673.7 312.7 676.5 313.8 679.2 314.8 682.0 315.8 684.8 316.8 687.6 317.7 690.4 318.6 693.2 319.5 696.0 320.3 698.8 321.1 701.6 321.9 704.4 322.6 707.3 323.3 710.1 324.0 713.0 324.7 715.8 325.3 718.7 325.9 721.6 326.5 724.5 327.0 727.4 327.6 730.3 328.1 733.2 328.6 736.2 329.0 739.1 329.5 742.1 329.9 745.0 330.3 748.0 330.7 750.9 331.0 753.9 331.4 756.9 331.7 759.9 332.0 762.9 332.3 765.9 332.6 768.9 332.9 771.9 333.2 774.9 333.4 777.9 333.7 780.9 333.9 783.9 334.1 787.0 334.3 790.0 334.5 793.0 334.7 796.0 334.9 799.1 335.1 802.1 335.3 805.2 335.4 808.2 335.6 811.3 335.8 814.3 335.9 817.3 336.1 820.4 336.3 823.4 336.4 826.5 336.6 829.5 336.7 832.6 336.9 835.6 337.1 838.7 337.2 841.7 337.4 844.8 337.6 847.8 337.8 850.8 338.0 853.9 338.2 856.9 338.4 860.0 338.6 863.0 338.8 866.0 339.0 869.0 339.3 872.1 339.6 875.1 339.8 878.1 340.1 881.1 340.4 884.1 340.7 887.1 341.0 890.1 341.4 893.1 341.7 896.1 342.1 899.0 342.5 902.0 342.9 905.0 343.4 907.9 343.8 910.9 344.3 913.8 344.8 916.8 345.3 919.7 345.8 922.6 346.4 925.5 347.0 928.4 347.6 931.3 348.3 934.2 348.9 937.1 349.6 940.0 350.4 942.8 351.1 945.7 351.9 948.5 352.7 951.3 353.6 954.2 354.5 957.0 355.4 959.8 356.3 962.5 357.3 965.3 358.3 968.1 359.4 970.8 360.5 973.6 361.6 976.3 362.7 979.0 363.9 981.7 365.1 984.4 366.3 987.1 367.6 989.8 368.8 992.5 370.2 995.2 371.5 997.8 372.8 1000.5 374.2 1003.1 375.6 1005.8 377.0 1008.4 378.4 1011.1 379.8 1013.7 381.3 1016.3 382.7 1019.0 384.2 1021.6 385.6 1024.2 387.1 1026.8 388.6 1029.5 390.1 1032.1 391.6 1034.7 393.1 1037.3 394.6 1040.0 396.2 1042.6 397.7 1045.2 399.2 1047.8 400.7 1050.5 402.2 1053.1 403.7 1055.7 405.2 1058.4 406.7 1061.0 408.2 1063.6 409.6 1066.3 411.1 1068.9 412.6 1071.6 414.0 1074.3 415.4 1076.9 416.8 1079.6 418.2 1082.3 419.6 1085.0 421.0 1087.7 422.3 1090.4 423.6 1093.1 424.9 1095.9 426.2 1098.6 427.5 1101.3 428.7 1104.1 429.9 1106.8 431.1 1109.6 432.3 1112.3 433.5 1115.1 434.7 1117.9 435.8 1120.7 436.9 1123.5 438.0 1126.3 439.1 1129.1 440.1 1131.9 441.2 1134.7 442.2 1137.5 443.2 1140.3 444.2 1143.2 445.2 1146.0 446.1 1148.9 447.0 1151.7 448.0 1154.6 448.8 1157.4 449.7 1160.3 450.6 1163.2 451.4 1166.0 452.2 1168.9 453.0 1171.8 453.8 1174.7 454.6 1177.6 455.3 1180.5 456.0 1183.4 456.7 1186.3 457.4 1189.2 458.1 1192.1 458.7 1195.1 459.4 1198.0 460.0 1200.9 460.6 1203.8 461.1 1206.8 461.7 1209.7 462.2 1212.7 462.7 1215.6 463.2 1218.6 463.7 1221.5 464.1 1224.5 464.6 1227.4 465.0 1230.4 465.4 1233.4 465.8 1236.3 466.1 1239.3 466.5 1242.3 466.8 1245.2 467.1 1248.2 467.4 1251.2 467.7 1254.2 468.0 1257.2 468.2 1260.2 468.5 1263.2 468.7 1266.1 468.9 1269.1 469.1 1272.1 469.3 1275.1 469.5 1278.1 469.6 1281.1 469.8 1284.1 469.9 1287.1 470.1 1290.2 470.2 1293.2 470.3 1296.2 470.4 1299.2 470.5 1302.2 470.6 1305.2 470.7 1308.2 470.8 1311.2 470.9 1314.2 471.0 1317.3 471.0 1320.3 471.1 1323.3 471.2 1326.3 471.2 1329.3 471.3 1332.4 471.3 1335.4 471.4 1338.4 471.5 1341.4 471.5 1344.4 471.6 1347.5 471.6 1350.5 471.7 1353.5 471.8 1356.5 471.8 1359.5 471.9 1362.6 472.0 1365.6 472.1 1368.6 472.1 1371.6 472.2 1374.6 472.3 1377.7 472.4 1380.7 472.5 1383.7 472.7 1386.7 472.8 1389.7 472.9 1392.7 473.0 1395.7 473.2 1398.7 473.3 1401.8 473.5 1404.8 473.7 1407.8 473.9 1410.8 474.0 1413.8 474.2 1416.8 474.4 1419.8 474.6 1422.8 474.8 1425.8 475.0 1428.8 475.1 1431.8 475.3 1434.8 475.5 1437.8 475.7 1440.8 475.9 1443.8 476.0 1446.8 476.2 1449.8 476.4 1452.8 476.5 1455.8 476.7 1458.8 476.8 1461.8 476.9 1464.8 477.0 1467.8 477.1 1470.8 477.2 1473.7 477.3 1476.7 477.4 1479.7 477.4 1482.7 477.5 1485.7 477.5 1488.7 477.5 1491.7 477.5 1494.7 477.5 1497.7 477.4 1500.7 477.4 1503.7 477.3 1506.7 477.2 1509.6 477.1 1512.6 477.0 1515.6 476.9 1518.6 476.8 1521.6 476.6 1524.6 476.4 1527.6 476.3 1530.6 476.1 1533.6 475.9 1536.5 475.7 1539.5 475.4 1542.5 475.2 1545.5 475.0 1548.5 474.7 1551.5 474.4 1554.5 474.2 1557.4 473.9 1560.4 473.6 1563.4 473.2 1566.4 472.9 1569.4 472.6 1572.3 472.2 1575.3 471.9 1578.3 471.5 1581.3 471.2 1584.3 470.8 1587.2 470.4 1590.2 470.0 1593.2 469.6 1596.2 469.2 1599.1 468.7 1602.1 468.3 1605.1 467.9 1608.0 467.4 1611.0 466.9 1614.0 466.5 1617.0 466.0 1619.9 465.5 1622.9 465.0 1625.9 464.5 1628.8 464.0 1631.8 463.5 1634.7 463.0 1637.7 462.5 1640.7 462.0 1643.6 461.4 1646.6 460.9 1649.5 460.4 1652.5 459.8 1655.5 459.3 1658.4 458.7 1661.4 458.1 1664.3 457.6 1667.3 457.0 1670.2 456.4 1673.2 455.8 1676.1 455.3 1679.1 454.7 1682.0 454.1 1685.0 453.5 1687.9 452.9 1690.8 452.3 1693.8 451.7 1696.7 451.1 1699.7 450.5 1702.6 449.8 1705.6 449.2 1708.5 448.6 1711.4 448.0 1714.4 447.4 1717.3 446.7 1720.2 446.1 1723.2 445.5 1726.1 444.8 1729.1 444.2 1732.0 443.6 1734.9 442.9 1737.9 442.3 1740.8 441.7 1743.7 441.0 1746.7 440.4 1749.6 439.7 1752.6 439.1 1755.5 438.5 1758.4 437.8 1761.4 437.2 1764.3 436.5 1767.2 435.9 1770.2 435.2 1773.1 434.6 1776.0 433.9 1779.0 433.3 1781.9 432.6 1784.8 432.0 1787.8 431.3 1790.7 430.7 1793.6 430.0 1796.6 429.4 1799.5 428.7 1802.4 428.0 1805.3 427.4 1808.3 426.7 1811.2 426.0 1814.1 425.4 1817.1 424.7 1820.0 424.0 1822.9 423.4 1825.8 422.7 1828.8 422.0 1831.7 421.4 1834.6 420.7 1837.6 420.0 1840.5 419.3 1843.4 418.6 1846.3 418.0 1849.3 417.3 1852.2 416.6 1855.1 415.9 1858.0 415.2 1861.0 414.5 1863.9 413.8 1866.8 413.1 1869.7 412.4 1872.6 411.7 1875.6 411.0 1878.5 410.3 1881.4 409.6 1884.3 408.9 1887.2 408.2 1890.2 407.5 1893.1 406.8 1896.0 406.1 1898.9 405.4 1901.8 404.7 1904.7 404.0 1907.7 403.2 1910.6 402.5 1913.5 401.8 1916.4 401.1 1919.3 400.3 1922.2 399.6 1925.1 398.9 1928.1 398.1 1931.0 397.4 1933.9 396.7 1936.8 395.9 1939.7 395.2 1942.6 394.4 1945.5 393.7 1948.4 392.9 1951.3 392.2 1954.2 391.4 1957.1 390.7 1960.0 389.9 1962.9 389.2 1965.9 388.4 1968.8 387.6 1971.7 386.9 1974.6 386.1 1977.5 385.3 1980.4 384.5 1983.3 383.8 1986.2 383.0 1989.1 382.2 1992.0 381.4 1994.9 380.6 1997.7 379.8 2000.6 379.0 2003.5 378.2 2006.4 377.4 2009.3 376.6 2012.2 375.8 2015.1 375.0 2018.0 374.2 2020.9 373.4 2023.8 372.6 2026.7 371.8 2029.6 370.9 2032.4 370.1 2035.3 369.3 2038.2 368.5 2041.1 367.6 2044.0 366.8 2046.9 366.0 2049.7 365.1 2052.6 364.3 2055.5 363.4 2058.4 362.6 2061.3 361.7 2064.1 360.9 2067.0 360.0 2069.9 359.1 2072.8 358.3 2075.6 357.4 2078.5 356.5 2081.4 355.6 2084.3 354.8 2087.1 353.9 2090.0 353.0 2090.2 356.0 2090.3 359.0 2090.4 362.0 2090.4 365.0 2090.5 368.0 2090.5 371.0 2090.5 374.0 2090.4 377.0 2090.3 380.0 2090.2 383.1 2090.1 386.1 2089.9 389.1 2089.7 392.1 2089.4 395.1 2089.2 398.1 2088.9 401.1 2088.5 404.1 2088.2 407.1 2087.8 410.0 2087.3 413.0 2086.9 416.0 2086.4 418.9 2085.8 421.9 2085.3 424.8 2084.7 427.8 2084.0 430.7 2083.4 433.6 2082.7 436.6 2081.9 439.5 2081.2 442.4 2080.3 445.2 2079.5 448.1 2078.6 451.0 2077.7 453.8 2076.8 456.6 2075.8 459.5 2074.8 462.3 2073.7 465.1 2072.6 467.8 2071.5 470.6 2070.3 473.3 2069.1 476.1 2067.9 478.8 2066.6 481.5 2065.3 484.1 2064.0 486.8 2062.6 489.4 2061.1 492.0 2059.7 494.6 2058.2 497.2 2056.6 499.8 2055.1 502.3 2053.4 504.8 2051.8 507.3 2050.1 509.7 2048.3 512.2 2046.6 514.6 2044.8 517.0 2042.9 519.3 2041.0 521.7 2039.1 524.0 2037.1 526.3 2035.1 528.5 2033.0 530.7 2030.9 532.9 2028.8 535.1 2026.6 537.1 2024.4 539.2 2022.1 541.2 2019.8 543.1 2017.5 545.0 2015.1 546.9 2012.7 548.6 2010.3 550.4 2007.8 552.0 2005.2 553.6 2002.7 555.1 2000.1 556.5 1997.4 557.9 1994.8 559.2 1992.1 560.5 1989.4 561.8 1986.6 563.0 1983.9 564.2 1981.1 565.3 1978.4 566.5 1975.6 567.6 1972.8 568.7 1970.0 569.7 1967.2 570.8 1964.4 571.9 1961.6 572.9 1958.8 573.9 1956.0 574.9 1953.2 575.9 1950.3 576.9 1947.5 577.9 1944.7 578.8 1941.8 579.8 1938.9 580.7 1936.1 581.6 1933.2 582.5 1930.4 583.4 1927.5 584.3 1924.6 585.2 1921.7 586.1 1918.9 587.0 1916.0 587.8 1913.1 588.7 1910.2 589.5 1907.3 590.4 1904.4 591.2 1901.5 592.0 1898.6 592.9 1895.7 593.7 1892.8 594.5 1889.9 595.3 1887.1 596.2 1884.2 597.0 1881.3 597.8 1878.4 598.6 1875.5 599.5 1872.6 600.3 1869.7 601.1 1866.8 601.9 1863.9 602.8 1861.0 603.6 1858.1 604.4 1855.2 605.3 1852.3 606.1 1849.5 607.0 1846.6 607.8 1843.7 608.7 1840.8 609.5 1838.0 610.4 1835.1 611.3 1832.2 612.2 1829.4 613.1 1826.5 614.0 1823.7 614.9 1820.8 615.8 1818.0 616.7 1815.1 617.7 1812.3 618.6 1809.5 619.5 1806.6 620.5 1803.8 621.4 1801.0 622.3 1798.1 623.3 1795.3 624.2 1792.5 625.2 1789.6 626.1 1786.8 627.1 1784.0 628.1 1781.1 629.0 1778.3 630.0 1775.5 630.9 1772.7 631.9 1769.8 632.9 1767.0 633.8 1764.2 634.8 1761.3 635.7 1758.5 636.7 1755.7 637.7 1752.8 638.6 1750.0 639.6 1747.2 640.5 1744.3 641.5 1741.5 642.4 1738.6 643.4 1735.8 644.3 1732.9 645.2 1730.1 646.2 1727.2 647.1 1724.4 648.0 1721.5 648.9 1718.6 649.8 1715.8 650.8 1712.9 651.7 1710.0 652.6 1707.2 653.4 1704.3 654.3 1701.4 655.2 1698.5 656.1 1695.6 656.9 1692.7 657.8 1689.8 658.6 1686.9 659.5 1683.9 660.3 1681.0 661.1 1678.1 661.9 1675.2 662.7 1672.2 663.5 1669.3 664.2 1666.3 665.0 1663.4 665.7 1660.5 666.4 1657.5 667.1 1654.5 667.7 1651.6 668.4 1648.6 669.0 1645.7 669.6 1642.7 670.2 1639.7 670.7 1636.8 671.2 1633.8 671.7 1630.8 672.2 1627.8 672.6 1624.9 673.0 1621.9 673.4 1618.9 673.7 1616.0 674.0 1613.0 674.2 1610.0 674.4 1607.0 674.6 1604.1 674.8 1601.1 674.9 1598.1 674.9 1595.1 675.0 1592.2 674.9 1589.2 674.9 1586.2 674.7 1583.3 674.6 1580.3 674.4 1577.3 674.1 1574.4 673.8 1571.4 673.5 1568.5 673.1 1565.5 672.6 1562.6 672.2 1559.6 671.7 1556.7 671.1 1553.7 670.6 1550.8 670.0 1547.8 669.3 1544.9 668.7 1542.0 668.0 1539.1 667.2 1536.1 666.5 1533.2 665.7 1530.3 664.9 1527.4 664.1 1524.5 663.3 1521.6 662.5 1518.7 661.6 1515.8 660.7 1512.9 659.9 1510.0 659.0 1507.1 658.1 1504.3 657.2 1501.4 656.2 1498.5 655.3 1495.7 654.4 1492.8 653.5 1489.9 652.5 1487.1 651.6 1484.2 650.6 1481.4 649.7 1478.5 648.7 1475.7 647.8 1472.8 646.8 1470.0 645.9 1467.2 644.9 1464.3 644.0 1461.5 643.0 1458.6 642.0 1455.8 641.1 1453.0 640.1 1450.1 639.2 1447.3 638.2 1444.5 637.3 1441.6 636.4 1438.8 635.4 1435.9 634.5 1433.1 633.6 1430.3 632.7 1427.4 631.7 1424.6 630.8 1421.7 629.9 1418.9 629.1 1416.0 628.2 1413.2 627.3 1410.3 626.5 1407.5 625.6 1404.6 624.8 1401.7 623.9 1398.9 623.1 1396.0 622.3 1393.1 621.5 1390.2 620.8 1387.3 620.0 1384.5 619.3 1381.6 618.5 1378.7 617.8 1375.8 617.1 1372.8 616.5 1369.9 615.8 1367.0 615.2 1364.1 614.5 1361.1 613.9 1358.2 613.3 1355.3 612.8 1352.3 612.2 1349.4 611.7 1346.4 611.1 1343.4 610.6 1340.5 610.2 1337.5 609.7 1334.5 609.2 1331.5 608.8 1328.6 608.4 1325.6 608.0 1322.6 607.6 1319.6 607.2 1316.6 606.9 1313.6 606.5 1310.6 606.2 1307.6 605.9 1304.6 605.6 1301.6 605.3 1298.6 605.1 1295.5 604.8 1292.5 604.6 1289.5 604.4 1286.5 604.2 1283.5 604.0 1280.4 603.9 1277.4 603.7 1274.4 603.6 1271.4 603.5 1268.3 603.4 1265.3 603.3 1262.3 603.2 1259.3 603.2 1256.2 603.1 1253.2 603.1 1250.2 603.1 1247.1 603.1 1244.1 603.1 1241.1 603.2 1238.1 603.2 1235.0 603.3 1232.0 603.4 1229.0 603.5 1226.0 603.6 1223.0 603.7 1219.9 603.8 1216.9 604.0 1213.9 604.2 1210.9 604.3 1207.9 604.5 1204.9 604.8 1201.9 605.0 1198.9 605.2 1195.9 605.5 1192.9 605.7 1189.9 606.0 1186.9 606.3 1183.9 606.6 1180.9 607.0 1177.9 607.3 1174.9 607.6 1172.0 608.0 1169.0 608.4 1166.0 608.8 1163.1 609.2 1160.1 609.6 1157.1 610.0 1154.2 610.5 1151.2 610.9 1148.3 611.4 1145.3 611.9 1142.3 612.4 1139.4 612.9 1136.5 613.4 1133.5 614.0 1130.6 614.5 1127.6 615.1 1124.7 615.6 1121.8 616.2 1118.9 616.8 1115.9 617.5 1113.0 618.1 1110.1 618.7 1107.2 619.4 1104.3 620.0 1101.4 620.7 1098.5 621.4 1095.5 622.1 1092.6 622.8 1089.8 623.6 1086.9 624.3 1084.0 625.0 1081.1 625.8 1078.2 626.6 1075.3 627.4 1072.4 628.2 1069.6 629.0 1066.7 629.8 1063.8 630.6 1060.9 631.5 1058.1 632.4 1055.2 633.2 1052.4 634.1 1049.5 635.0 1046.7 635.9 1043.8 636.8 1041.0 637.8 1038.1 638.7 1035.3 639.7 1032.4 640.6 1029.6 641.6 1026.8 642.6 1024.0 643.6 1021.1 644.6 1018.3 645.6 1015.5 646.7 1012.7 647.7 1009.9 648.8 1007.1 649.9 1004.3 651.0 1001.5 652.1 998.7 653.2 996.0 654.4 993.2 655.5 990.4 656.7 987.7 657.9 984.9 659.1 982.2 660.3 979.4 661.5 976.7 662.7 974.0 664.0 971.2 665.3 968.5 666.6 965.8 667.9 963.1 669.2 960.4 670.5 957.7 671.9 955.0 673.3 952.4 674.6 949.7 676.1 947.1 677.5 944.4 678.9 941.8 680.4 939.1 681.8 936.5 683.3 933.9 684.8 931.3 686.4 928.7 687.9 926.1 689.4 923.5 691.0 920.9 692.5 918.3 694.1 915.7 695.7 913.1 697.3 910.6 698.9 908.0 700.4 905.4 702.0 902.8 703.6 900.3 705.2 897.7 706.8 895.1 708.4 892.6 710.0 890.0 711.6 887.4 713.1 884.8 714.7 882.3 716.3 879.7 717.8 877.1 719.4 874.5 720.9 871.9 722.4 869.3 723.9 866.7 725.4 864.1 726.9 861.5 728.3 858.9 729.8 856.3 731.2 853.6 732.6 851.0 734.0 848.3 735.4 845.7 736.7 843.0 738.0 840.3 739.3 837.6 740.5 834.9 741.8 832.2 743.0 829.5 744.2 826.8 745.3 824.0 746.4 821.3 747.5 818.5 748.6 815.7 749.6 812.9 750.6 810.1 751.5 807.3 752.5 804.5 753.4 801.7 754.3 798.8 755.2 796.0 756.0 793.1 756.9 790.2 757.7 787.4 758.5 784.5 759.3 781.6 760.1 778.7 760.8 775.8 761.6 772.9 762.3 770.0 763.0 767.0 763.7 764.1 764.4 761.2 765.1 758.2 765.8 755.3 766.5 752.4 767.2 749.4 767.9 746.5 768.6 743.5 769.3 740.6 769.9 737.6 770.6 734.6 771.3 731.7 772.0 728.7 772.7 725.8 773.4 722.8 774.1 719.9 774.8 716.9 775.6 714.0 776.3 711.0 777.1 708.1 777.8 705.1 778.6 702.2 779.4 699.3 780.3 696.4 781.1 693.5 782.0 690.6 782.8 687.7 783.8 684.8 784.7 682.0 785.7 679.1 786.6 676.3 787.7 673.5 788.7 670.7 789.8 668.0 790.9 665.2 792.1 662.5 793.2 659.8 794.5 657.1 795.7 654.4 797.0 651.8 798.4 649.2 799.8 646.6 801.2 644.1 802.7 641.5 804.2 639.0 805.8 636.6 807.4 634.1 809.0 631.7 810.8 629.4 812.5 627.0 814.4 624.7 816.3 622.5 818.2 620.2 820.2 618.0 822.2 615.9 824.3 613.7 826.5 611.6 828.6 609.5 830.9 607.5 833.1 605.4 835.3 603.4 837.6 601.4 839.9 599.4 842.2 597.4 844.5 595.4 846.8 593.4 849.1 591.4 851.4 589.4 853.7 587.5 855.9 585.5 858.2 583.6 860.5 581.6 862.8 579.7 865.1 577.9 867.4 576.0 869.7 574.2 872.1 572.4 874.5 570.7 876.9 569.0 879.3 567.3 881.8 565.8 884.3 564.2 886.8 562.7 889.4 561.2 892.0 559.8 894.6 558.4 897.2 557.0 899.9 555.6 902.6 554.3 905.3 552.9 908.0 551.6 910.7 550.3 913.4 549.0 916.1 547.7 918.8 546.4 921.5 545.1 924.2 543.8 926.9 542.5 929.6 541.2 932.3 539.9 935.0 538.6 937.8 537.3 940.5 536.0 943.2 534.7 945.9 533.4 948.6 532.1 951.3 530.8 954.0 529.5 956.7 528.2 959.4 526.9 962.1 525.6 964.8 524.3 967.5 523.1 970.3 521.8 973.0 520.5 975.7 519.2 978.4 517.9 981.1 516.7 983.8 515.4 986.6 514.1 989.3 512.9 992.0 511.6 994.8 510.3 997.5 509.1 1000.2 507.8 1003.0 506.6 1005.7 505.3 1008.4 504.1 1011.2 502.8 1013.9 501.5 1016.6 500.2 1019.3 498.8 1021.9 497.2 1024.4 495.5 1026.8 493.7 1029.1 491.7 1031.3 489.5 1033.2 487.0 1035.0" fill="none" stroke="#ff00ff" stroke-width="10.2" stroke-linejoin="round" stroke-linecap="round"/>
<path d="M488.0 1050.0L487.9 1047.0 487.8 1044.0 487.8 1041.0 487.7 1038.0 487.7 1035.0 487.6 1032.0 487.6 1029.0 487.6 1025.9 487.6 1022.9 487.6 1019.9 487.6 1016.9 487.6 1013.9 487.6 1010.9 487.7 1007.9 487.7 1004.9 487.8 1001.9 487.8 998.9 487.9 995.9 488.0 992.9 488.1 989.9 488.2 986.9 488.2 983.9 488.4 980.9 488.5 977.9 488.6 974.9 488.7 971.9 488.9 968.9 489.0 965.9 489.1 962.9 489.3 960.0 489.5 957.0 489.6 954.0 489.8 951.0 490.0 948.0 490.2 945.0 490.3 942.0 490.5 939.0 490.7 936.0 490.9 933.0 491.1 930.0 491.4 927.0 491.6 924.0 491.8 921.0 492.0 918.1 492.3 915.1 492.5 912.1 492.7 909.1 493.0 906.1 493.2 903.1 493.5 900.1 493.7 897.1 494.0 894.1 494.3 891.1 494.5 888.1 494.8 885.2 495.1 882.2 495.3 879.2 495.6 876.2 495.9 873.2 496.2 870.2 496.4 867.2 496.7 864.2 497.0 861.2 497.3 858.3 497.6 855.3 497.9 852.3 498.2 849.3 498.5 846.3 498.8 843.3 499.1 840.3 499.3 837.3 499.6 834.4 499.9 831.4 500.2 828.4 500.5 825.4 500.8 822.4 501.1 819.4 501.4 816.4 501.7 813.4 502.0 810.4 502.3 807.5 502.6 804.5 502.9 801.5 503.2 798.5 503.5 795.5 503.8 792.5 504.0 789.5 504.3 786.5 504.6 783.5 504.9 780.6 505.2 777.6 505.4 774.6 505.7 771.6 506.0 768.6 506.3 765.6 506.5 762.6 506.8 759.6 507.0 756.6 507.3 753.6 507.6 750.7 507.8 747.7 508.1 744.7 508.3 741.7 508.6 738.7 508.8 735.7 509.0 732.7 509.3 729.7 509.5 726.7 509.7 723.7 510.0 720.7 510.2 717.7 510.4 714.7 510.7 711.8 510.9 708.8 511.1 705.8 511.3 702.8 511.6 699.8 511.8 696.8 512.0 693.8 512.2 690.8 512.5 687.8 512.7 684.8 512.9 681.8 513.1 678.8 513.3 675.8 513.5 672.8 513.8 669.9 514.0 666.9 514.2 663.9 514.4 660.9 514.7 657.9 514.9 654.9 515.1 651.9 515.3 648.9 515.5 645.9 515.8 642.9 516.0 639.9 516.2 636.9 516.5 633.9 516.7 631.0 516.9 628.0 517.2 625.0 517.4 622.0 517.6 619.0 517.9 616.0 518.1 613.0 518.4 610.0 518.6 607.0 518.9 604.0 519.1 601.1 519.4 598.1 519.6 595.1 519.9 592.1 520.2 589.1 520.4 586.1 520.7 583.1 521.0 580.1 521.3 577.2 521.6 574.2 521.9 571.2 522.2 568.2 522.5 565.2 522.8 562.3 523.2 559.3 523.5 556.3 523.9 553.3 524.2 550.3 524.6 547.4 525.0 544.4 525.4 541.4 525.8 538.5 526.3 535.5 526.7 532.5 527.2 529.6 527.7 526.6 528.2 523.7 528.7 520.7 529.2 517.8 529.8 514.8 530.4 511.9 530.9 508.9 531.6 506.0 532.2 503.1 532.8 500.1 533.5 497.2 534.2 494.3 534.9 491.3 535.7 488.4 536.5 485.5 537.2 482.6 538.1 479.7 538.9 476.8 539.8 473.9 540.7 471.0 541.6 468.1 542.5 465.2 543.4 462.3 544.4 459.4 545.3 456.5 546.2 453.6 547.1 450.7 548.0 447.9 548.8 445.0 549.6 442.1 550.4 439.3 551.1 436.4 551.8 433.5 552.4 430.7 553.0 427.8 553.6 424.9 554.2 422.1 554.7 419.2 555.2 416.3 555.7 413.5 556.2 410.6 556.6 407.7 557.1 404.9 557.5 402.0 558.0 399.1 558.4 396.2 558.8 393.3 559.3 390.4 559.7 387.5 560.2 384.6 560.7 381.7 561.2 378.8 561.7 375.9 562.3 372.9 562.8 370.0 563.4 367.0 564.1 364.1 564.8 361.1 565.5 358.1 566.2 355.1 567.0 352.1 567.9 349.1 568.8 346.1 569.7 343.1 570.8 340.0 571.8 336.9 573.0 333.9 574.2 330.9 575.5 327.8 576.8 324.9 578.2 322.0 579.7 319.2 581.3 316.5 583.0 313.9 584.7 311.5 586.5 309.2 588.4 307.0 590.4 305.1 592.6 303.3 594.8 301.8 597.0 300.5 599.4 299.4 601.8 298.7 604.3 298.1 606.9 297.9 609.4 298.0 612.0 298.4 614.6 299.0 617.2 299.9 619.8 301.0 622.4 302.3 625.0 303.8 627.6 305.5 630.2 307.3 632.7 309.2 635.2 311.2 637.6 313.3 640.0 315.4 642.4 317.6 644.7 319.7 646.9 321.9 649.2 324.2 651.4 326.4 653.6 328.5 655.8 330.7 658.0 332.8 660.2 334.9 662.4 337.0 664.7 339.0 667.0 340.9 669.3 342.7 671.7 344.5 674.2 346.2 676.6 347.9 679.2 349.5 681.7 351.0 684.3 352.5 686.9 353.9 689.6 355.2 692.3 356.5 695.0 357.7 697.8 358.8 700.5 359.9 703.3 360.9 706.2 361.9 709.0 362.8 711.9 363.7 714.8 364.5 717.7 365.3 720.6 366.0 723.5 366.6 726.5 367.2 729.4 367.8 732.4 368.3 735.4 368.7 738.3 369.1 741.3 369.5 744.3 369.8 747.3 370.0 750.3 370.2 753.3 370.4 756.3 370.5 759.3 370.6 762.3 370.6 765.2 370.7 768.2 370.6 771.2 370.5 774.2 370.4 777.1 370.3 780.1 370.1 783.1 369.9 786.1 369.7 789.0 369.4 792.0 369.1 795.0 368.8 797.9 368.4 800.9 368.1 803.8 367.7 806.8 367.2 809.8 366.8 812.7 366.3 815.7 365.9 818.6 365.4 821.6 364.9 824.5 364.3 827.5 363.8 830.4 363.3 833.4 362.7 836.4 362.1 839.3 361.6 842.3 361.0 845.2 360.4 848.2 359.8 851.1 359.2 854.1 358.6 857.1 358.0 860.0 357.5 863.0 356.9 865.9 356.3 868.9 355.7 871.9 355.1 874.8 354.6 877.8 354.0 880.8 353.5 883.8 353.0 886.7 352.4 889.7 351.9 892.7 351.4 895.7 351.0 898.7 350.5 901.7 350.1 904.7 349.7 907.6 349.3 910.6 348.9 913.6 348.6 916.6 348.2 919.7 348.0 922.7 347.7 925.7 347.5 928.7 347.3 931.7 347.1 934.7 347.0 937.8 346.8 940.8 346.8 943.8 346.7 946.8 346.7 949.8 346.7 952.9 346.8 955.9 346.9 958.9 347.0 961.9 347.2 964.9 347.4 967.9 347.7 970.9 348.0 973.9 348.3 976.8 348.7 979.8 349.1 982.8 349.5 985.7 350.0 988.6 350.6 991.6 351.2 994.5 351.8 997.4 352.5 1000.3 353.2 1003.2 353.9 1006.0 354.8 1008.9 355.6 1011.7 356.5 1014.5 357.5 1017.3 358.5 1020.1 359.5 1022.9 360.7 1025.6 361.8 1028.3 363.0 1031.0 364.3 1033.7 365.6 1036.4 367.0 1039.0 368.4 1041.7 369.9 1044.3 371.4 1046.8 373.0 1049.4 374.7 1051.9 376.3 1054.5 378.0 1057.0 379.7 1059.5 381.4 1062.0 383.1 1064.6 384.8 1067.1 386.5 1069.6 388.1 1072.2 389.7 1074.8 391.3 1077.3 392.8 1080.0 394.2 1082.6 395.6 1085.3 396.8 1088.0 398.1 1090.7 399.2 1093.4 400.4 1096.1 401.5 1098.9 402.6 1101.6 403.6 1104.4 404.7 1107.1 405.8 1109.9 406.9 1112.6 408.1 1115.4 409.3 1118.1 410.5 1120.8 411.8 1123.5 413.2 1126.2 414.6 1128.9 416.0 1131.6 417.5 1134.2 419.0 1136.9 420.5 1139.6 422.0 1142.2 423.5 1144.9 425.0 1147.5 426.6 1150.2 428.1 1152.9 429.6 1155.6 431.0 1158.2 432.5 1160.9 433.9 1163.6 435.3 1166.4 436.6 1169.1 437.9 1171.8 439.2 1174.6 440.4 1177.3 441.6 1180.1 442.7 1182.9 443.9 1185.7 445.0 1188.4 446.0 1191.2 447.1 1194.1 448.1 1196.9 449.0 1199.7 450.0 1202.5 450.9 1205.4 451.8 1208.2 452.6 1211.1 453.5 1213.9 454.3 1216.8 455.0 1219.7 455.8 1222.6 456.5 1225.5 457.2 1228.4 457.9 1231.3 458.5 1234.2 459.2 1237.1 459.8 1240.0 460.3 1242.9 460.9 1245.9 461.5 1248.8 462.0 1251.8 462.5 1254.7 463.0 1257.6 463.4 1260.6 463.9 1263.6 464.3 1266.5 464.7 1269.5 465.1 1272.5 465.5 1275.4 465.9 1278.4 466.2 1281.4 466.6 1284.4 466.9 1287.4 467.2 1290.3 467.5 1293.3 467.8 1296.3 468.1 1299.3 468.4 1302.3 468.6 1305.3 468.9 1308.3 469.1 1311.3 469.4 1314.3 469.6 1317.3 469.8 1320.3 470.0 1323.3 470.3 1326.3 470.5 1329.3 470.7 1332.3 470.8 1335.3 471.0 1338.3 471.2 1341.3 471.4 1344.3 471.5 1347.3 471.7 1350.3 471.9 1353.3 472.0 1356.4 472.1 1359.4 472.3 1362.4 472.4 1365.4 472.5 1368.4 472.6 1371.4 472.7 1374.4 472.8 1377.4 472.9 1380.4 473.0 1383.4 473.1 1386.4 473.1 1389.4 473.2 1392.4 473.2 1395.4 473.3 1398.4 473.3 1401.4 473.3 1404.5 473.3 1407.5 473.3 1410.5 473.3 1413.5 473.3 1416.5 473.3 1419.5 473.3 1422.5 473.3 1425.5 473.2 1428.5 473.2 1431.5 473.1 1434.5 473.0 1437.5 472.9 1440.5 472.9 1443.5 472.8 1446.5 472.7 1449.5 472.5 1452.5 472.4 1455.5 472.3 1458.5 472.1 1461.5 472.0 1464.4 471.8 1467.4 471.6 1470.4 471.5 1473.4 471.3 1476.4 471.1 1479.4 470.9 1482.4 470.6 1485.4 470.4 1488.4 470.2 1491.3 469.9 1494.3 469.6 1497.3 469.4 1500.3 469.1 1503.3 468.8 1506.2 468.5 1509.2 468.2 1512.2 467.9 1515.2 467.6 1518.1 467.3 1521.1 466.9 1524.1 466.6 1527.1 466.2 1530.0 465.9 1533.0 465.5 1536.0 465.2 1539.0 464.8 1541.9 464.4 1544.9 464.0 1547.9 463.7 1550.8 463.3 1553.8 462.9 1556.8 462.5 1559.7 462.1 1562.7 461.7 1565.7 461.3 1568.6 460.9 1571.6 460.4 1574.6 460.0 1577.5 459.6 1580.5 459.2 1583.5 458.8 1586.5 458.3 1589.4 457.9 1592.4 457.5 1595.4 457.0 1598.3 456.6 1601.3 456.2 1604.3 455.8 1607.2 455.3 1610.2 454.9 1613.2 454.5 1616.1 454.0 1619.1 453.6 1622.1 453.2 1625.1 452.7 1628.0 452.3 1631.0 451.9 1634.0 451.5 1636.9 451.1 1639.9 450.6 1642.9 450.2 1645.9 449.8 1648.8 449.4 1651.8 449.0 1654.8 448.6 1657.8 448.2 1660.8 447.8 1663.7 447.4 1666.7 447.0 1669.7 446.6 1672.7 446.2 1675.6 445.8 1678.6 445.4 1681.6 445.0 1684.6 444.6 1687.6 444.2 1690.5 443.8 1693.5 443.4 1696.5 443.0 1699.5 442.5 1702.4 442.1 1705.4 441.7 1708.4 441.3 1711.4 440.8 1714.3 440.4 1717.3 440.0 1720.3 439.5 1723.2 439.1 1726.2 438.6 1729.2 438.1 1732.1 437.7 1735.1 437.2 1738.1 436.7 1741.0 436.2 1744.0 435.8 1747.0 435.3 1749.9 434.8 1752.9 434.3 1755.8 433.7 1758.8 433.2 1761.8 432.7 1764.7 432.2 1767.7 431.7 1770.6 431.1 1773.6 430.6 1776.5 430.0 1779.5 429.5 1782.4 428.9 1785.4 428.4 1788.3 427.8 1791.3 427.2 1794.2 426.7 1797.1 426.1 1800.1 425.5 1803.0 424.9 1806.0 424.3 1808.9 423.7 1811.9 423.1 1814.8 422.5 1817.7 421.9 1820.7 421.3 1823.6 420.7 1826.5 420.1 1829.5 419.4 1832.4 418.8 1835.3 418.2 1838.3 417.5 1841.2 416.9 1844.1 416.3 1847.1 415.6 1850.0 415.0 1852.9 414.3 1855.9 413.6 1858.8 413.0 1861.7 412.3 1864.6 411.6 1867.6 411.0 1870.5 410.3 1873.4 409.6 1876.3 408.9 1879.2 408.2 1882.2 407.5 1885.1 406.8 1888.0 406.1 1890.9 405.4 1893.8 404.7 1896.8 404.0 1899.7 403.3 1902.6 402.6 1905.5 401.9 1908.4 401.2 1911.3 400.4 1914.3 399.7 1917.2 399.0 1920.1 398.3 1923.0 397.5 1925.9 396.8 1928.8 396.1 1931.7 395.3 1934.6 394.6 1937.5 393.8 1940.4 393.1 1943.3 392.3 1946.3 391.6 1949.2 390.8 1952.1 390.1 1955.0 389.3 1957.9 388.5 1960.8 387.8 1963.7 387.0 1966.6 386.3 1969.5 385.5 1972.4 384.7 1975.3 383.9 1978.2 383.2 1981.1 382.4 1984.0 381.6 1986.9 380.8 1989.8 380.0 1992.7 379.3 1995.6 378.5 1998.5 377.7 2001.4 376.9 2004.3 376.1 2007.2 375.3 2010.1 374.5 2013.0 373.7 2015.9 372.9 2018.8 372.2 2021.6 371.4 2024.5 370.6 2027.4 369.8 2030.3 369.0 2033.2 368.2 2036.1 367.4 2039.0 366.6 2041.9 365.7 2044.8 364.9 2047.7 364.1 2050.6 363.3 2053.5 362.5 2056.3 361.7 2059.2 360.9 2062.1 360.1 2065.0 359.3 2067.9 358.5 2070.8 357.7 2073.7 356.9 2076.6 356.1 2079.5 355.2 2082.3 354.4 2085.2 353.6 2088.1 352.8 2091.0 352.0 2091.5 355.0 2091.9 358.0 2092.3 361.1 2092.7 364.1 2092.9 367.1 2093.2 370.1 2093.3 373.1 2093.4 376.1 2093.5 379.1 2093.5 382.2 2093.5 385.2 2093.4 388.2 2093.2 391.1 2093.0 394.1 2092.8 397.1 2092.5 400.1 2092.1 403.1 2091.7 406.0 2091.3 409.0 2090.8 411.9 2090.3 414.9 2089.7 417.8 2089.1 420.7 2088.4 423.6 2087.7 426.5 2086.9 429.4 2086.1 432.3 2085.2 435.2 2084.3 438.0 2083.4 440.9 2082.4 443.7 2081.4 446.5 2080.3 449.3 2079.2 452.1 2078.1 454.9 2076.9 457.7 2075.7 460.4 2074.4 463.1 2073.1 465.9 2071.8 468.6 2070.4 471.2 2069.0 473.9 2067.6 476.6 2066.1 479.2 2064.6 481.8 2063.0 484.4 2061.5 487.0 2059.8 489.5 2058.2 492.0 2056.5 494.6 2054.8 497.0 2053.1 499.5 2051.3 502.0 2049.5 504.4 2047.7 506.8 2045.8 509.2 2043.9 511.5 2042.0 513.8 2040.0 516.1 2038.1 518.4 2036.0 520.7 2034.0 522.9 2031.9 525.0 2029.8 527.1 2027.6 529.2 2025.4 531.1 2023.1 533.0 2020.8 534.8 2018.4 536.5 2015.9 538.1 2013.4 539.6 2010.8 541.0 2008.2 542.4 2005.5 543.7 2002.9 545.0 2000.1 546.3 1997.4 547.5 1994.7 548.7 1991.9 549.9 1989.1 551.1 1986.3 552.2 1983.5 553.4 1980.7 554.6 1977.9 555.7 1975.1 556.9 1972.3 558.0 1969.5 559.1 1966.7 560.2 1963.9 561.3 1961.0 562.4 1958.2 563.5 1955.4 564.6 1952.6 565.6 1949.8 566.7 1946.9 567.7 1944.1 568.8 1941.3 569.8 1938.5 570.9 1935.6 571.9 1932.8 572.9 1930.0 573.9 1927.2 574.9 1924.3 576.0 1921.5 577.0 1918.7 578.0 1915.9 579.0 1913.0 580.0 1910.2 581.0 1907.4 582.0 1904.6 583.0 1901.7 584.0 1898.9 585.0 1896.1 586.0 1893.3 587.0 1890.5 588.0 1887.7 589.0 1884.8 590.1 1882.0 591.1 1879.2 592.1 1876.4 593.1 1873.6 594.2 1870.8 595.2 1868.0 596.2 1865.2 597.3 1862.4 598.4 1859.6 599.4 1856.8 600.5 1854.0 601.6 1851.2 602.7 1848.4 603.8 1845.7 604.9 1842.9 606.0 1840.1 607.2 1837.3 608.3 1834.5 609.5 1831.8 610.6 1829.0 611.8 1826.2 613.0 1823.5 614.2 1820.7 615.4 1817.9 616.6 1815.2 617.8 1812.4 619.0 1809.7 620.2 1806.9 621.5 1804.2 622.7 1801.4 623.9 1798.6 625.1 1795.9 626.4 1793.1 627.6 1790.4 628.8 1787.6 630.1 1784.9 631.3 1782.1 632.5 1779.3 633.8 1776.6 635.0 1773.8 636.2 1771.1 637.4 1768.3 638.6 1765.5 639.9 1762.8 641.1 1760.0 642.3 1757.2 643.4 1754.4 644.6 1751.7 645.8 1748.9 647.0 1746.1 648.1 1743.3 649.2 1740.5 650.4 1737.7 651.5 1734.9 652.6 1732.1 653.7 1729.3 654.8 1726.5 655.8 1723.7 656.9 1720.9 657.9 1718.1 659.0 1715.2 660.0 1712.4 661.0 1709.6 661.9 1706.7 662.9 1703.9 663.8 1701.0 664.7 1698.1 665.6 1695.3 666.5 1692.4 667.3 1689.5 668.2 1686.6 669.0 1683.7 669.8 1680.8 670.5 1677.9 671.2 1675.0 672.0 1672.1 672.6 1669.2 673.3 1666.2 673.9 1663.3 674.5 1660.3 675.1 1657.4 675.6 1654.4 676.2 1651.4 676.6 1648.5 677.1 1645.5 677.5 1642.5 677.9 1639.5 678.2 1636.6 678.6 1633.6 678.8 1630.6 679.1 1627.6 679.3 1624.6 679.5 1621.6 679.6 1618.7 679.7 1615.7 679.8 1612.7 679.8 1609.7 679.7 1606.7 679.7 1603.8 679.6 1600.8 679.4 1597.8 679.2 1594.9 679.0 1591.9 678.7 1588.9 678.4 1586.0 678.0 1583.1 677.6 1580.1 677.1 1577.2 676.6 1574.3 676.0 1571.4 675.4 1568.5 674.7 1565.6 674.0 1562.7 673.2 1559.8 672.3 1556.9 671.5 1554.1 670.5 1551.2 669.6 1548.4 668.6 1545.5 667.5 1542.7 666.4 1539.9 665.3 1537.1 664.2 1534.3 663.0 1531.5 661.8 1528.7 660.6 1525.9 659.3 1523.1 658.1 1520.3 656.8 1517.6 655.5 1514.8 654.2 1512.0 652.9 1509.3 651.6 1506.5 650.3 1503.7 649.0 1501.0 647.6 1498.2 646.3 1495.5 645.0 1492.7 643.7 1490.0 642.4 1487.2 641.1 1484.5 639.8 1481.8 638.5 1479.0 637.2 1476.3 635.9 1473.5 634.6 1470.8 633.3 1468.0 632.1 1465.3 630.8 1462.6 629.6 1459.8 628.4 1457.1 627.1 1454.3 625.9 1451.5 624.7 1448.8 623.5 1446.0 622.4 1443.3 621.2 1440.5 620.1 1437.7 619.0 1435.0 617.9 1432.2 616.8 1429.4 615.7 1426.6 614.7 1423.8 613.7 1421.0 612.7 1418.2 611.7 1415.4 610.7 1412.6 609.8 1409.8 608.9 1407.0 608.0 1404.1 607.1 1401.3 606.3 1398.5 605.4 1395.6 604.6 1392.8 603.8 1389.9 603.1 1387.1 602.3 1384.2 601.6 1381.3 600.8 1378.4 600.1 1375.6 599.5 1372.7 598.8 1369.8 598.1 1366.9 597.5 1364.0 596.9 1361.1 596.3 1358.2 595.7 1355.3 595.1 1352.3 594.5 1349.4 593.9 1346.5 593.4 1343.5 592.9 1340.6 592.3 1337.7 591.8 1334.7 591.3 1331.8 590.8 1328.8 590.3 1325.8 589.9 1322.9 589.4 1319.9 589.0 1316.9 588.5 1313.9 588.1 1311.0 587.6 1308.0 587.2 1305.0 586.8 1302.0 586.4 1299.0 585.9 1296.0 585.5 1293.0 585.1 1289.9 584.7 1286.9 584.3 1283.9 584.0 1280.9 583.6 1277.9 583.2 1274.8 582.9 1271.8 582.5 1268.8 582.1 1265.7 581.8 1262.7 581.5 1259.7 581.2 1256.6 580.9 1253.6 580.5 1250.5 580.3 1247.5 580.0 1244.4 579.7 1241.4 579.5 1238.3 579.2 1235.3 579.0 1232.2 578.8 1229.2 578.6 1226.1 578.4 1223.1 578.2 1220.0 578.0 1217.0 577.9 1213.9 577.7 1210.9 577.6 1207.9 577.5 1204.8 577.4 1201.8 577.4 1198.7 577.3 1195.7 577.3 1192.7 577.2 1189.6 577.2 1186.6 577.3 1183.6 577.3 1180.5 577.3 1177.5 577.4 1174.5 577.5 1171.5 577.6 1168.5 577.8 1165.4 577.9 1162.4 578.1 1159.4 578.3 1156.4 578.5 1153.5 578.7 1150.5 579.0 1147.5 579.3 1144.5 579.6 1141.5 579.9 1138.6 580.3 1135.6 580.7 1132.6 581.1 1129.7 581.5 1126.7 582.0 1123.8 582.5 1120.9 583.0 1117.9 583.5 1115.0 584.0 1112.1 584.6 1109.2 585.2 1106.3 585.8 1103.4 586.5 1100.5 587.1 1097.6 587.8 1094.7 588.5 1091.8 589.3 1088.9 590.0 1086.1 590.8 1083.2 591.6 1080.4 592.4 1077.5 593.2 1074.7 594.1 1071.8 594.9 1069.0 595.8 1066.1 596.7 1063.3 597.7 1060.5 598.6 1057.7 599.6 1054.9 600.6 1052.0 601.6 1049.2 602.6 1046.4 603.6 1043.6 604.6 1040.9 605.7 1038.1 606.8 1035.3 607.9 1032.5 609.0 1029.8 610.1 1027.0 611.3 1024.2 612.4 1021.5 613.6 1018.7 614.8 1016.0 616.0 1013.2 617.2 1010.5 618.5 1007.8 619.7 1005.0 621.0 1002.3 622.2 999.6 623.5 996.9 624.8 994.2 626.1 991.5 627.4 988.8 628.8 986.1 630.1 983.4 631.5 980.7 632.8 978.0 634.2 975.3 635.6 972.7 637.0 970.0 638.4 967.3 639.8 964.7 641.2 962.0 642.6 959.3 644.1 956.7 645.5 954.0 647.0 951.4 648.5 948.8 649.9 946.1 651.4 943.5 652.9 940.9 654.4 938.3 655.9 935.6 657.4 933.0 658.9 930.4 660.4 927.8 662.0 925.2 663.5 922.6 665.0 920.0 666.6 917.4 668.1 914.8 669.7 912.3 671.2 909.7 672.8 907.1 674.3 904.5 675.9 902.0 677.5 899.4 679.0 896.8 680.6 894.3 682.2 891.7 683.7 889.2 685.3 886.6 686.9 884.0 688.4 881.5 690.0 878.9 691.5 876.4 693.0 873.8 694.5 871.2 696.0 868.6 697.5 866.0 698.9 863.4 700.4 860.8 701.8 858.2 703.1 855.5 704.5 852.9 705.8 850.2 707.1 847.5 708.3 844.8 709.5 842.1 710.7 839.4 711.8 836.6 712.9 833.9 714.0 831.1 715.0 828.3 715.9 825.4 716.8 822.6 717.7 819.7 718.5 816.8 719.2 813.9 720.0 811.0 720.7 808.0 721.3 805.1 722.0 802.1 722.6 799.1 723.3 796.1 723.9 793.1 724.5 790.2 725.1 787.2 725.7 784.2 726.3 781.2 726.9 778.2 727.5 775.2 728.2 772.2 728.8 769.2 729.5 766.2 730.2 763.2 730.9 760.2 731.6 757.3 732.4 754.3 733.1 751.3 733.9 748.4 734.7 745.4 735.5 742.5 736.4 739.6 737.2 736.6 738.1 733.7 739.0 730.8 739.9 727.9 740.9 725.0 741.8 722.2 742.8 719.3 743.8 716.5 744.9 713.6 746.0 710.8 747.0 708.0 748.2 705.2 749.3 702.4 750.5 699.7 751.7 696.9 752.9 694.2 754.1 691.5 755.4 688.8 756.7 686.1 758.1 683.4 759.4 680.8 760.8 678.1 762.2 675.5 763.7 672.9 765.2 670.4 766.7 667.8 768.2 665.3 769.8 662.7 771.4 660.2 773.0 657.7 774.6 655.3 776.3 652.8 778.0 650.4 779.7 648.0 781.4 645.6 783.2 643.2 785.0 640.8 786.8 638.5 788.7 636.2 790.5 633.9 792.4 631.6 794.3 629.3 796.3 627.1 798.2 624.8 800.2 622.6 802.2 620.4 804.2 618.3 806.3 616.1 808.3 614.0 810.4 611.9 812.5 609.8 814.6 607.7 816.8 605.6 819.0 603.6 821.1 601.5 823.3 599.5 825.6 597.6 827.8 595.6 830.1 593.6 832.4 591.7 834.7 589.8 837.0 587.9 839.3 586.0 841.6 584.2 844.0 582.4 846.4 580.5 848.8 578.8 851.2 577.0 853.6 575.2 856.1 573.5 858.5 571.8 861.0 570.1 863.5 568.4 866.0 566.8 868.5 565.1 871.0 563.5 873.6 561.9 876.1 560.3 878.7 558.8 881.3 557.2 883.9 555.7 886.5 554.2 889.1 552.8 891.7 551.3 894.4 549.9 897.0 548.4 899.7 547.0 902.3 545.7 905.0 544.3 907.7 543.0 910.4 541.7 913.1 540.4 915.8 539.1 918.6 537.9 921.3 536.6 924.0 535.4 926.8 534.2 929.5 533.0 932.3 531.9 935.1 530.7 937.8 529.6 940.6 528.4 943.4 527.3 946.2 526.2 949.0 525.2 951.8 524.1 954.6 523.0 957.4 521.9 960.2 520.9 963.0 519.9 965.8 518.8 968.6 517.8 971.5 516.8 974.3 515.7 977.1 514.7 979.9 513.7 982.8 512.7 985.6 511.7 988.4 510.6 991.2 509.6 994.1 508.6 996.9 507.6 999.7 506.6 1002.5 505.6 1005.4 504.5 1008.2 503.5 1011.0 502.4 1013.8 501.4 1016.6 500.3 1019.4 499.3 1022.2 498.2 1025.0 497.1 1027.8 496.0 1030.6 494.9 1033.4 493.8 1036.2 492.7 1039.0 491.5 1041.7 490.4 1044.5 489.2 1047.3 488.0 1050.0" fill="none" stroke="#960000" stroke-width="10.2" stroke-linejoin="round" stroke-linecap="round"/>
<path d="M489.5 1207.0L489.6 1204.0 489.6 1201.0 489.7 1198.0 489.8 1195.0 489.9 1192.0 489.9 1189.0 490.0 1186.0 490.1 1183.0 490.2 1180.0 490.3 1177.0 490.4 1174.0 490.4 1171.0 490.5 1168.0 490.6 1165.0 490.7 1162.0 490.8 1159.0 490.9 1156.0 491.0 1153.0 491.1 1150.0 491.2 1147.0 491.3 1144.0 491.4 1141.0 491.5 1138.0 491.6 1135.0 491.7 1132.0 491.8 1129.0 491.9 1126.0 492.0 1123.0 492.1 1120.0 492.2 1117.0 492.3 1114.0 492.5 1111.0 492.6 1108.0 492.7 1105.0 492.8 1102.0 492.9 1099.0 493.0 1096.0 493.2 1093.0 493.3 1090.0 493.4 1087.0 493.5 1084.0 493.7 1081.0 493.8 1078.0 493.9 1075.0 494.0 1072.0 494.2 1069.0 494.3 1066.0 494.4 1063.0 494.6 1060.0 494.7 1057.1 494.8 1054.1 495.0 1051.1 495.1 1048.1 495.3 1045.1 495.4 1042.1 495.6 1039.1 495.7 1036.1 495.8 1033.1 496.0 1030.1 496.1 1027.1 496.3 1024.1 496.4 1021.1 496.6 1018.1 496.7 1015.1 496.9 1012.1 497.0 1009.1 497.2 1006.1 497.4 1003.1 497.5 1000.1 497.7 997.1 497.8 994.1 498.0 991.1 498.2 988.1 498.3 985.1 498.5 982.1 498.7 979.1 498.8 976.1 499.0 973.1 499.2 970.1 499.3 967.1 499.5 964.1 499.7 961.1 499.8 958.1 500.0 955.1 500.2 952.1 500.4 949.1 500.5 946.1 500.7 943.1 500.9 940.1 501.1 937.1 501.3 934.1 501.4 931.1 501.6 928.1 501.8 925.1 502.0 922.1 502.2 919.1 502.4 916.1 502.6 913.1 502.8 910.1 502.9 907.1 503.1 904.1 503.3 901.1 503.5 898.1 503.7 895.1 503.9 892.1 504.1 889.1 504.3 886.1 504.5 883.1 504.7 880.1 504.9 877.1 505.1 874.1 505.3 871.1 505.5 868.1 505.7 865.1 505.9 862.1 506.1 859.1 506.3 856.1 506.5 853.1 506.7 850.1 506.9 847.1 507.2 844.1 507.4 841.1 507.6 838.1 507.8 835.1 508.0 832.1 508.2 829.1 508.4 826.1 508.6 823.1 508.9 820.1 509.1 817.1 509.3 814.1 509.5 811.1 509.7 808.1 510.0 805.1 510.2 802.1 510.4 799.1 510.6 796.1 510.8 793.1 511.1 790.1 511.3 787.1 511.5 784.1 511.8 781.1 512.0 778.1 512.2 775.1 512.4 772.1 512.7 769.1 512.9 766.1 513.1 763.1 513.4 760.2 513.6 757.2 513.8 754.2 514.1 751.2 514.3 748.2 514.5 745.2 514.8 742.2 515.0 739.2 515.2 736.2 515.5 733.2 515.7 730.2 516.0 727.2 516.2 724.2 516.4 721.2 516.7 718.2 516.9 715.2 517.2 712.2 517.4 709.2 517.7 706.2 517.9 703.2 518.1 700.2 518.4 697.2 518.6 694.3 518.9 691.3 519.1 688.3 519.4 685.3 519.6 682.3 519.9 679.3 520.1 676.3 520.4 673.3 520.6 670.3 520.9 667.3 521.1 664.3 521.4 661.3 521.7 658.3 521.9 655.3 522.2 652.3 522.4 649.3 522.7 646.4 522.9 643.4 523.2 640.4 523.4 637.4 523.7 634.4 524.0 631.4 524.2 628.4 524.5 625.4 524.7 622.4 525.0 619.4 525.3 616.4 525.5 613.4 525.8 610.5 526.1 607.5 526.3 604.5 526.6 601.5 526.8 598.5 527.1 595.5 527.4 592.5 527.6 589.5 527.9 586.5 528.2 583.5 528.4 580.5 528.7 577.6 529.0 574.6 529.3 571.6 529.5 568.6 529.8 565.6 530.1 562.6 530.3 559.6 530.6 556.6 530.9 553.6 531.1 550.7 531.4 547.7 531.7 544.7 532.0 541.7 532.2 538.7 532.5 535.7 532.8 532.7 533.1 529.7 533.3 526.8 533.6 523.8 533.9 520.8 534.2 517.8 534.4 514.8 534.7 511.8 535.0 508.8 535.3 505.9 535.5 502.9 535.8 499.9 536.1 496.9 536.4 493.9 536.7 490.9 536.9 487.9 537.2 485.0 537.5 482.0 537.8 479.0 538.0 476.0 538.3 473.0 538.6 470.0 538.9 467.1 539.2 464.1 539.5 461.1 539.7 458.1 540.0 455.1 540.3 452.1 540.6 449.2 540.9 446.2 541.2 443.2 541.4 440.2 541.7 437.2 542.0 434.2 542.3 431.3 542.6 428.3 542.9 425.3 543.2 422.3 543.5 419.3 543.7 416.3 544.0 413.4 544.3 410.4 544.6 407.4 544.9 404.4 545.2 401.4 545.5 398.4 545.8 395.5 546.1 392.5 546.4 389.5 546.7 386.5 547.0 383.5 547.3 380.5 547.6 377.6 547.9 374.6 548.2 371.6 548.5 368.6 548.8 365.6 549.2 362.6 549.5 359.7 549.8 356.7 550.1 353.7 550.4 350.7 550.7 347.7 551.1 344.7 551.4 341.7 551.7 338.7 552.0 335.8 552.3 332.8 552.7 329.8 553.0 326.8 553.3 323.8 553.7 320.8 554.0 317.8 554.3 314.8 554.7 311.8 555.0 308.8 555.4 305.9 555.7 302.9 556.0 299.9 556.4 296.9 556.7 293.9 557.1 290.9 557.5 287.9 557.8 284.9 558.2 281.9 558.5 278.9 558.9 275.9 559.3 272.9 559.6 269.9 560.0 266.9 560.4 263.9 560.7 260.9 561.1 257.9 561.5 254.9 561.9 251.9 562.3 248.9 562.7 245.9 563.0 242.9 563.4 239.9 563.8 236.9 564.2 233.9 564.6 230.9 565.0 227.9 565.5 224.8 565.9 221.8 566.3 218.8 566.7 215.8 567.2 212.8 567.6 209.8 568.1 206.8 568.5 203.9 569.0 200.9 569.5 197.9 570.0 194.9 570.5 191.9 571.0 189.0 571.5 186.0 572.1 183.0 572.6 180.1 573.2 177.1 573.8 174.2 574.4 171.2 575.0 168.3 575.6 165.4 576.3 162.5 577.0 159.6 577.7 156.7 578.4 153.8 579.1 150.9 579.8 148.0 580.6 145.1 581.4 142.3 582.2 139.4 583.0 136.6 583.9 133.8 584.7 131.0 585.6 128.2 586.6 125.4 587.5 122.6 588.5 119.8 589.5 117.1 590.5 114.3 591.6 111.6 592.7 108.9 593.8 106.3 595.1 103.7 596.5 101.2 598.0 98.8 599.7 96.5 601.6 94.4 603.8 92.5 606.2 90.8 608.9 89.3 611.4 90.8 613.7 92.5 615.8 94.4 617.7 96.5 619.5 98.7 621.2 101.0 622.8 103.4 624.3 105.9 625.7 108.4 627.0 111.0 628.3 113.6 629.6 116.3 630.8 118.9 632.1 121.6 633.2 124.4 634.4 127.1 635.5 129.9 636.5 132.6 637.6 135.4 638.6 138.2 639.6 141.1 640.6 143.9 641.5 146.8 642.5 149.6 643.4 152.5 644.3 155.4 645.1 158.3 646.0 161.2 646.8 164.1 647.6 167.1 648.5 170.0 649.3 172.9 650.0 175.9 650.8 178.8 651.6 181.8 652.3 184.7 653.1 187.7 653.9 190.6 654.6 193.6 655.4 196.5 656.1 199.5 656.8 202.4 657.6 205.3 658.4 208.3 659.1 211.2 659.9 214.1 660.6 217.0 661.4 219.9 662.2 222.8 663.0 225.7 663.8 228.5 664.6 231.4 665.5 234.2 666.3 237.1 667.2 239.9 668.1 242.7 669.0 245.5 669.9 248.3 670.9 251.1 671.9 253.9 672.9 256.6 674.0 259.4 675.0 262.2 676.1 264.9 677.3 267.6 678.5 270.4 679.7 273.1 680.9 275.8 682.2 278.5 683.5 281.2 684.9 283.9 686.3 286.6 687.8 289.3 689.3 292.0 690.9 294.7 692.5 297.3 694.1 300.0 695.8 302.6 697.6 305.2 699.4 307.7 701.3 310.2 703.2 312.7 705.1 315.1 707.1 317.4 709.2 319.6 711.3 321.8 713.5 323.9 715.7 325.9 718.0 327.7 720.3 329.5 722.7 331.2 725.1 332.7 727.6 334.1 730.1 335.4 732.7 336.5 735.3 337.5 738.0 338.3 740.8 339.0 743.6 339.5 746.4 339.9 749.3 340.2 752.2 340.3 755.1 340.4 758.1 340.3 761.1 340.1 764.1 339.8 767.1 339.5 770.1 339.0 773.2 338.5 776.3 337.9 779.3 337.3 782.4 336.6 785.4 335.8 788.5 335.0 791.5 334.2 794.5 333.3 797.5 332.4 800.5 331.5 803.5 330.6 806.4 329.7 809.3 328.8 812.2 327.8 815.1 326.9 818.0 326.0 820.8 325.0 823.6 324.0 826.4 323.1 829.2 322.1 832.0 321.1 834.8 320.2 837.5 319.2 840.3 318.2 843.1 317.2 845.8 316.3 848.5 315.3 851.3 314.3 854.0 313.3 856.8 312.4 859.5 311.4 862.3 310.4 865.0 309.5 867.8 308.5 870.6 307.6 873.4 306.6 876.1 305.7 878.9 304.8 881.8 303.9 884.6 303.0 887.4 302.1 890.3 301.2 893.2 300.3 896.1 299.4 899.0 298.6 902.0 297.8 904.9 296.9 907.9 296.1 910.9 295.4 914.0 294.6 917.0 293.9 920.1 293.2 923.1 292.5 926.2 291.9 929.3 291.3 932.3 290.8 935.4 290.3 938.5 289.8 941.6 289.4 944.6 289.1 947.7 288.8 950.7 288.6 953.8 288.5 956.8 288.4 959.8 288.3 962.8 288.4 965.7 288.5 968.7 288.8 971.6 289.0 974.4 289.4 977.3 289.9 980.1 290.5 982.9 291.1 985.6 291.9 988.3 292.7 991.0 293.7 993.6 294.7 996.2 295.8 998.8 297.0 1001.4 298.3 1003.9 299.6 1006.4 301.0 1008.8 302.5 1011.3 304.1 1013.7 305.7 1016.1 307.4 1018.5 309.1 1020.8 310.8 1023.2 312.7 1025.5 314.5 1027.8 316.4 1030.1 318.4 1032.4 320.3 1034.6 322.3 1036.9 324.4 1039.2 326.4 1041.4 328.5 1043.7 330.6 1045.9 332.7 1048.1 334.8 1050.4 336.9 1052.6 339.0 1054.8 341.1 1057.1 343.2 1059.3 345.4 1061.6 347.5 1063.8 349.6 1066.0 351.7 1068.3 353.8 1070.6 355.9 1072.8 358.0 1075.1 360.0 1077.3 362.1 1079.6 364.2 1081.9 366.2 1084.1 368.3 1086.4 370.3 1088.7 372.4 1091.0 374.4 1093.3 376.4 1095.6 378.4 1097.9 380.4 1100.2 382.4 1102.5 384.4 1104.9 386.3 1107.2 388.3 1109.5 390.2 1111.9 392.2 1114.2 394.1 1116.6 396.0 1119.0 397.9 1121.3 399.7 1123.7 401.6 1126.1 403.4 1128.5 405.3 1130.9 407.1 1133.3 408.9 1135.7 410.6 1138.2 412.4 1140.6 414.1 1143.0 415.8 1145.5 417.5 1148.0 419.2 1150.4 420.9 1152.9 422.5 1155.4 424.1 1157.9 425.7 1160.5 427.3 1163.0 428.9 1165.5 430.4 1168.1 431.9 1170.6 433.4 1173.2 434.9 1175.8 436.3 1178.4 437.7 1181.0 439.1 1183.6 440.4 1186.3 441.8 1188.9 443.1 1191.6 444.4 1194.3 445.6 1196.9 446.9 1199.6 448.0 1202.4 449.2 1205.1 450.4 1207.8 451.5 1210.6 452.5 1213.4 453.6 1216.1 454.6 1218.9 455.6 1221.8 456.6 1224.6 457.5 1227.4 458.4 1230.3 459.2 1233.2 460.0 1236.1 460.8 1239.0 461.6 1241.9 462.3 1244.8 463.0 1247.8 463.7 1250.7 464.3 1253.7 464.9 1256.6 465.5 1259.6 466.0 1262.6 466.5 1265.6 466.9 1268.6 467.3 1271.6 467.7 1274.6 468.1 1277.6 468.4 1280.6 468.7 1283.7 469.0 1286.7 469.2 1289.7 469.4 1292.8 469.5 1295.8 469.6 1298.8 469.7 1301.9 469.8 1304.9 469.8 1307.9 469.8 1311.0 469.7 1314.0 469.6 1317.0 469.5 1320.0 469.3 1323.1 469.1 1326.1 468.9 1329.1 468.7 1332.1 468.4 1335.1 468.0 1338.0 467.7 1341.0 467.3 1344.0 466.8 1347.0 466.4 1349.9 465.9 1352.9 465.4 1355.8 464.9 1358.8 464.4 1361.7 463.8 1364.6 463.3 1367.6 462.8 1370.5 462.2 1373.5 461.7 1376.4 461.2 1379.3 460.7 1382.3 460.2 1385.2 459.8 1388.2 459.3 1391.1 458.9 1394.1 458.6 1397.0 458.2 1400.0 457.9 1403.0 457.7 1405.9 457.4 1408.9 457.3 1411.9 457.2 1414.9 457.1 1417.9 457.1 1420.9 457.2 1424.0 457.3 1427.0 457.5 1430.0 457.7 1433.1 457.9 1436.1 458.2 1439.2 458.5 1442.2 458.8 1445.3 459.1 1448.3 459.4 1451.4 459.6 1454.4 459.9 1457.5 460.1 1460.5 460.3 1463.5 460.5 1466.6 460.6 1469.6 460.6 1472.6 460.7 1475.6 460.7 1478.6 460.6 1481.6 460.5 1484.6 460.4 1487.6 460.2 1490.6 460.1 1493.6 459.8 1496.6 459.6 1499.5 459.3 1502.5 459.0 1505.5 458.7 1508.4 458.3 1511.4 457.9 1514.3 457.5 1517.3 457.0 1520.2 456.6 1523.2 456.1 1526.1 455.6 1529.1 455.0 1532.0 454.5 1534.9 453.9 1537.9 453.3 1540.8 452.7 1543.7 452.1 1546.6 451.5 1549.6 450.8 1552.5 450.1 1555.4 449.5 1558.3 448.8 1561.3 448.1 1564.2 447.4 1567.1 446.7 1570.0 446.0 1572.9 445.3 1575.9 444.5 1578.8 443.8 1581.7 443.1 1584.6 442.3 1587.5 441.6 1590.4 440.9 1593.4 440.1 1596.3 439.4 1599.2 438.7 1602.1 438.0 1605.0 437.3 1608.0 436.5 1610.9 435.8 1613.8 435.2 1616.7 434.5 1619.7 433.8 1622.6 433.1 1625.5 432.4 1628.5 431.8 1631.4 431.1 1634.3 430.5 1637.3 429.8 1640.2 429.2 1643.2 428.5 1646.1 427.9 1649.0 427.3 1652.0 426.6 1654.9 426.0 1657.9 425.4 1660.8 424.8 1663.7 424.1 1666.7 423.5 1669.6 422.9 1672.6 422.3 1675.5 421.7 1678.4 421.0 1681.4 420.4 1684.3 419.8 1687.3 419.2 1690.2 418.6 1693.1 417.9 1696.1 417.3 1699.0 416.7 1701.9 416.1 1704.9 415.4 1707.8 414.8 1710.8 414.2 1713.7 413.5 1716.6 412.9 1719.5 412.3 1722.5 411.6 1725.4 411.0 1728.3 410.3 1731.3 409.6 1734.2 409.0 1737.1 408.3 1740.0 407.6 1742.9 406.9 1745.9 406.2 1748.8 405.5 1751.7 404.8 1754.6 404.1 1757.5 403.4 1760.4 402.6 1763.3 401.9 1766.2 401.1 1769.1 400.4 1772.0 399.6 1774.9 398.8 1777.8 398.1 1780.7 397.3 1783.6 396.5 1786.5 395.7 1789.4 394.9 1792.3 394.1 1795.2 393.2 1798.0 392.4 1800.9 391.6 1803.8 390.7 1806.7 389.9 1809.6 389.0 1812.4 388.2 1815.3 387.3 1818.2 386.5 1821.0 385.6 1823.9 384.7 1826.8 383.8 1829.7 382.9 1832.5 382.0 1835.4 381.1 1838.2 380.2 1841.1 379.3 1844.0 378.4 1846.8 377.5 1849.7 376.6 1852.6 375.7 1855.4 374.8 1858.3 373.8 1861.1 372.9 1864.0 372.0 1866.8 371.0 1869.7 370.1 1872.5 369.2 1875.4 368.2 1878.2 367.3 1881.1 366.3 1883.9 365.4 1886.8 364.4 1889.6 363.5 1892.5 362.5 1895.3 361.6 1898.2 360.6 1901.0 359.6 1903.9 358.7 1906.7 357.7 1909.6 356.7 1912.4 355.8 1915.3 354.8 1918.1 353.9 1921.0 352.9 1923.8 351.9 1926.6 351.0 1929.5 350.0 1932.3 349.0 1935.2 348.1 1938.0 347.1 1940.9 346.1 1943.7 345.2 1946.6 344.2 1949.4 343.3 1952.3 342.3 1955.1 341.4 1958.0 340.4 1960.8 339.4 1963.7 338.5 1966.5 337.5 1969.4 336.6 1972.2 335.6 1975.0 334.7 1977.9 333.7 1980.7 332.8 1983.6 331.8 1986.4 330.9 1989.3 329.9 1992.1 329.0 1995.0 328.0 1997.8 327.1 2000.7 326.1 2003.5 325.1 2006.4 324.2 2009.2 323.2 2012.0 322.2 2014.9 321.3 2017.7 320.3 2020.5 319.3 2023.4 318.3 2026.2 317.3 2029.0 316.4 2031.9 315.4 2034.7 314.3 2037.5 313.3 2040.4 312.3 2043.2 311.3 2046.0 310.3 2048.8 309.2 2051.6 308.2 2054.4 307.2 2057.3 306.1 2060.1 305.1 2062.9 304.0 2065.7 302.9 2068.5 301.8 2071.3 300.7 2074.1 299.6 2076.9 298.5 2079.7 297.4 2082.4 296.3 2085.2 295.1 2088.0 294.0 2088.5 297.0 2088.9 300.0 2089.3 303.0 2089.6 306.0 2090.0 309.0 2090.2 312.0 2090.5 315.0 2090.7 318.0 2090.9 321.0 2091.0 323.9 2091.1 326.9 2091.2 329.9 2091.3 332.9 2091.3 335.9 2091.3 338.8 2091.2 341.8 2091.2 344.8 2091.1 347.8 2090.9 350.7 2090.8 353.7 2090.6 356.7 2090.4 359.7 2090.2 362.6 2090.0 365.6 2089.7 368.6 2089.4 371.6 2089.1 374.5 2088.8 377.5 2088.4 380.5 2088.0 383.4 2087.7 386.4 2087.3 389.4 2086.8 392.4 2086.4 395.4 2085.9 398.3 2085.5 401.3 2085.0 404.3 2084.5 407.3 2084.0 410.3 2083.5 413.3 2083.0 416.3 2082.4 419.3 2081.9 422.2 2081.3 425.2 2080.7 428.2 2080.2 431.2 2079.6 434.2 2079.0 437.2 2078.3 440.2 2077.7 443.2 2077.0 446.2 2076.3 449.2 2075.6 452.1 2074.9 455.1 2074.1 458.0 2073.3 460.9 2072.5 463.9 2071.6 466.8 2070.7 469.6 2069.8 472.5 2068.9 475.4 2067.9 478.2 2066.8 481.0 2065.8 483.8 2064.7 486.6 2063.5 489.3 2062.3 492.0 2061.1 494.7 2059.8 497.4 2058.5 500.0 2057.1 502.7 2055.7 505.2 2054.2 507.8 2052.7 510.3 2051.1 512.8 2049.4 515.3 2047.8 517.7 2046.0 520.1 2044.3 522.4 2042.5 524.8 2040.6 527.1 2038.7 529.3 2036.8 531.6 2034.8 533.8 2032.8 536.0 2030.7 538.1 2028.6 540.2 2026.5 542.3 2024.3 544.4 2022.1 546.4 2019.9 548.4 2017.7 550.3 2015.4 552.3 2013.0 554.2 2010.7 556.0 2008.3 557.9 2005.9 559.7 2003.5 561.5 2001.0 563.2 1998.6 564.9 1996.1 566.6 1993.6 568.2 1991.0 569.9 1988.5 571.5 1985.9 573.0 1983.3 574.5 1980.7 576.1 1978.1 577.5 1975.4 579.0 1972.8 580.4 1970.1 581.8 1967.4 583.2 1964.7 584.6 1962.0 585.9 1959.3 587.2 1956.6 588.5 1953.8 589.8 1951.1 591.1 1948.3 592.3 1945.6 593.6 1942.8 594.8 1940.0 596.0 1937.2 597.2 1934.4 598.4 1931.6 599.6 1928.8 600.8 1926.0 601.9 1923.2 603.1 1920.4 604.2 1917.6 605.4 1914.8 606.5 1912.0 607.7 1909.2 608.8 1906.4 609.9 1903.6 611.1 1900.8 612.2 1898.0 613.3 1895.2 614.5 1892.4 615.6 1889.6 616.8 1886.8 617.9 1884.0 619.1 1881.3 620.3 1878.5 621.5 1875.8 622.7 1873.0 623.9 1870.3 625.1 1867.6 626.3 1864.9 627.5 1862.2 628.8 1859.5 630.0 1856.8 631.3 1854.1 632.6 1851.4 633.9 1848.8 635.2 1846.1 636.5 1843.5 637.8 1840.9 639.2 1838.2 640.5 1835.6 641.8 1833.0 643.2 1830.4 644.6 1827.8 646.0 1825.1 647.3 1822.5 648.7 1819.9 650.1 1817.3 651.5 1814.7 653.0 1812.2 654.4 1809.6 655.8 1807.0 657.3 1804.4 658.7 1801.8 660.2 1799.2 661.6 1796.6 663.1 1794.0 664.5 1791.4 666.0 1788.9 667.5 1786.3 669.0 1783.7 670.4 1781.1 671.9 1778.5 673.4 1775.9 674.9 1773.3 676.4 1770.7 677.9 1768.0 679.4 1765.4 681.0 1762.8 682.5 1760.2 684.0 1757.5 685.5 1754.9 687.0 1752.3 688.5 1749.6 690.1 1746.9 691.6 1744.3 693.1 1741.6 694.6 1738.9 696.1 1736.2 697.6 1733.5 699.2 1730.8 700.7 1728.1 702.1 1725.4 703.6 1722.7 705.1 1719.9 706.5 1717.2 708.0 1714.4 709.4 1711.7 710.8 1708.9 712.2 1706.2 713.5 1703.4 714.9 1700.6 716.2 1697.8 717.5 1695.1 718.7 1692.3 719.9 1689.5 721.1 1686.7 722.3 1683.9 723.4 1681.1 724.5 1678.3 725.5 1675.4 726.5 1672.6 727.4 1669.8 728.4 1667.0 729.2 1664.1 730.0 1661.3 730.8 1658.5 731.5 1655.6 732.2 1652.8 732.8 1649.9 733.4 1647.1 733.9 1644.2 734.3 1641.4 734.7 1638.5 735.0 1635.7 735.2 1632.8 735.4 1629.9 735.5 1627.1 735.6 1624.2 735.6 1621.4 735.5 1618.5 735.3 1615.6 735.1 1612.7 734.7 1609.9 734.4 1607.0 733.9 1604.1 733.4 1601.3 732.8 1598.4 732.1 1595.5 731.4 1592.7 730.7 1589.8 729.8 1587.0 729.0 1584.1 728.0 1581.3 727.0 1578.4 726.0 1575.6 724.9 1572.7 723.8 1569.9 722.6 1567.1 721.4 1564.3 720.2 1561.5 718.9 1558.7 717.5 1555.9 716.2 1553.1 714.8 1550.3 713.3 1547.5 711.9 1544.8 710.4 1542.0 708.9 1539.3 707.4 1536.5 705.8 1533.8 704.3 1531.1 702.7 1528.4 701.1 1525.7 699.4 1523.1 697.8 1520.4 696.2 1517.8 694.5 1515.1 692.9 1512.5 691.2 1509.9 689.6 1507.3 687.9 1504.8 686.3 1502.2 684.6 1499.7 683.0 1497.1 681.3 1494.6 679.7 1492.1 678.0 1489.6 676.4 1487.1 674.8 1484.6 673.2 1482.1 671.6 1479.6 670.0 1477.0 668.4 1474.5 666.8 1472.0 665.3 1469.5 663.7 1467.0 662.2 1464.5 660.7 1461.9 659.2 1459.4 657.7 1456.8 656.3 1454.2 654.8 1451.7 653.4 1449.1 652.0 1446.4 650.7 1443.8 649.3 1441.2 648.0 1438.5 646.7 1435.8 645.4 1433.2 644.1 1430.5 642.9 1427.8 641.6 1425.1 640.4 1422.3 639.2 1419.6 638.0 1416.9 636.8 1414.1 635.7 1411.3 634.5 1408.6 633.4 1405.8 632.3 1403.0 631.2 1400.2 630.1 1397.4 629.0 1394.6 627.9 1391.8 626.9 1389.0 625.8 1386.1 624.8 1383.3 623.8 1380.5 622.8 1377.6 621.7 1374.8 620.8 1371.9 619.8 1369.1 618.8 1366.2 617.8 1363.4 616.8 1360.5 615.9 1357.7 614.9 1354.8 614.0 1351.9 613.1 1349.1 612.1 1346.2 611.2 1343.4 610.3 1340.5 609.3 1337.6 608.4 1334.8 607.5 1331.9 606.6 1329.0 605.7 1326.2 604.8 1323.3 604.0 1320.4 603.1 1317.5 602.2 1314.7 601.4 1311.8 600.6 1308.9 599.7 1306.0 598.9 1303.1 598.1 1300.2 597.3 1297.3 596.6 1294.4 595.8 1291.5 595.1 1288.6 594.4 1285.7 593.7 1282.7 593.0 1279.8 592.3 1276.9 591.6 1273.9 591.0 1271.0 590.4 1268.0 589.8 1265.1 589.2 1262.1 588.7 1259.1 588.1 1256.2 587.6 1253.2 587.1 1250.2 586.7 1247.2 586.2 1244.2 585.8 1241.2 585.4 1238.2 585.0 1235.2 584.7 1232.2 584.3 1229.2 584.0 1226.2 583.8 1223.2 583.5 1220.2 583.3 1217.2 583.1 1214.2 582.9 1211.2 582.7 1208.1 582.6 1205.1 582.5 1202.1 582.4 1199.1 582.4 1196.1 582.4 1193.1 582.4 1190.1 582.4 1187.1 582.5 1184.1 582.6 1181.1 582.7 1178.1 582.8 1175.1 583.0 1172.1 583.2 1169.1 583.5 1166.1 583.7 1163.1 584.0 1160.1 584.4 1157.1 584.7 1154.2 585.1 1151.2 585.6 1148.2 586.0 1145.3 586.5 1142.3 587.1 1139.4 587.6 1136.4 588.2 1133.5 588.8 1130.6 589.5 1127.6 590.2 1124.7 590.9 1121.8 591.7 1118.9 592.5 1116.0 593.3 1113.1 594.2 1110.3 595.0 1107.4 596.0 1104.5 596.9 1101.7 597.9 1098.9 598.9 1096.0 599.9 1093.2 600.9 1090.4 602.0 1087.6 603.1 1084.8 604.2 1082.0 605.4 1079.2 606.6 1076.5 607.8 1073.7 609.0 1071.0 610.2 1068.2 611.5 1065.5 612.8 1062.8 614.1 1060.1 615.4 1057.4 616.7 1054.7 618.1 1052.1 619.5 1049.4 620.9 1046.8 622.3 1044.2 623.7 1041.5 625.2 1038.9 626.7 1036.4 628.1 1033.8 629.6 1031.2 631.2 1028.7 632.7 1026.1 634.2 1023.6 635.8 1021.1 637.4 1018.6 639.0 1016.1 640.6 1013.6 642.3 1011.1 643.9 1008.7 645.6 1006.2 647.3 1003.8 649.0 1001.3 650.7 998.9 652.5 996.5 654.2 994.1 656.0 991.7 657.8 989.3 659.6 987.0 661.4 984.6 663.3 982.2 665.2 979.9 667.1 977.6 669.0 975.2 670.9 972.9 672.8 970.6 674.8 968.3 676.8 966.0 678.8 963.7 680.8 961.4 682.8 959.1 684.9 956.9 687.0 954.6 689.0 952.3 691.1 950.1 693.2 947.8 695.3 945.5 697.4 943.3 699.5 941.0 701.6 938.7 703.7 936.5 705.7 934.2 707.8 931.9 709.9 929.6 711.9 927.3 713.9 925.0 715.9 922.7 717.9 920.4 719.9 918.1 721.9 915.7 723.8 913.4 725.7 911.0 727.5 908.7 729.4 906.3 731.2 903.9 732.9 901.5 734.7 899.0 736.3 896.6 738.0 894.1 739.6 891.6 741.1 889.1 742.6 886.6 744.0 884.0 745.4 881.4 746.8 878.8 748.1 876.2 749.3 873.5 750.4 870.9 751.5 868.2 752.5 865.4 753.5 862.7 754.4 859.9 755.3 857.1 756.1 854.3 756.9 851.5 757.6 848.6 758.3 845.7 758.9 842.8 759.5 839.9 760.0 837.0 760.6 834.1 761.0 831.1 761.5 828.2 761.9 825.2 762.4 822.2 762.7 819.2 763.1 816.2 763.5 813.2 763.8 810.2 764.1 807.1 764.5 804.1 764.8 801.1 765.1 798.0 765.4 795.0 765.7 791.9 766.0 788.9 766.3 785.9 766.6 782.8 767.0 779.8 767.3 776.7 767.7 773.7 768.1 770.7 768.5 767.6 768.9 764.6 769.4 761.6 769.9 758.6 770.4 755.6 770.9 752.6 771.5 749.6 772.1 746.7 772.8 743.7 773.5 740.8 774.2 737.9 775.0 735.0 775.8 732.1 776.6 729.2 777.5 726.3 778.4 723.4 779.4 720.6 780.4 717.8 781.4 715.0 782.5 712.2 783.6 709.4 784.7 706.7 785.9 703.9 787.1 701.2 788.4 698.5 789.6 695.8 791.0 693.2 792.3 690.5 793.7 687.9 795.1 685.3 796.6 682.7 798.1 680.2 799.6 677.7 801.2 675.2 802.8 672.7 804.4 670.2 806.1 667.8 807.8 665.4 809.6 663.0 811.3 660.7 813.2 658.3 815.0 656.0 816.9 653.7 818.8 651.5 820.7 649.3 822.7 647.1 824.7 644.9 826.8 642.8 828.8 640.7 831.0 638.6 833.1 636.6 835.3 634.6 837.5 632.6 839.7 630.6 842.0 628.7 844.3 626.8 846.6 624.9 848.9 623.1 851.3 621.3 853.7 619.5 856.1 617.7 858.5 616.0 861.0 614.2 863.5 612.5 866.0 610.9 868.5 609.2 871.0 607.6 873.6 606.0 876.1 604.4 878.7 602.8 881.3 601.3 883.9 599.8 886.6 598.3 889.2 596.8 891.9 595.4 894.5 593.9 897.2 592.5 899.9 591.1 902.6 589.8 905.3 588.4 908.0 587.1 910.7 585.8 913.4 584.5 916.2 583.2 918.9 581.9 921.6 580.7 924.4 579.4 927.1 578.2 929.9 577.0 932.7 575.8 935.4 574.6 938.2 573.5 941.0 572.3 943.7 571.2 946.5 570.1 949.3 569.0 952.1 567.9 954.9 566.8 957.7 565.8 960.5 564.7 963.3 563.7 966.1 562.6 968.9 561.6 971.7 560.6 974.5 559.6 977.4 558.6 980.2 557.6 983.0 556.6 985.8 555.7 988.7 554.7 991.5 553.8 994.4 552.8 997.2 551.9 1000.0 551.0 1002.9 550.0 1005.7 549.1 1008.6 548.2 1011.5 547.3 1014.3 546.4 1017.2 545.5 1020.0 544.6 1022.9 543.7 1025.7 542.9 1028.6 542.0 1031.5 541.1 1034.3 540.2 1037.2 539.4 1040.1 538.5 1043.0 537.6 1045.8 536.8 1048.7 535.9 1051.6 535.0 1054.4 534.2 1057.3 533.3 1060.2 532.4 1063.1 531.6 1065.9 530.7 1068.8 529.8 1071.7 529.0 1074.6 528.1 1077.4 527.2 1080.3 526.3 1083.2 525.4 1086.1 524.6 1088.9 523.7 1091.8 522.8 1094.7 521.9 1097.5 521.0 1100.4 520.1 1103.3 519.2 1106.1 518.3 1109.0 517.3 1111.9 516.4 1114.7 515.5 1117.6 514.6 1120.5 513.7 1123.3 512.8 1126.2 511.9 1129.1 511.0 1132.0 510.0 1134.8 509.1 1137.7 508.2 1140.6 507.3 1143.4 506.5 1146.3 505.6 1149.2 504.7 1152.1 503.8 1154.9 502.9 1157.8 502.1 1160.7 501.2 1163.6 500.4 1166.4 499.5 1169.3 498.7 1172.2 497.9 1175.1 497.0 1178.0 496.2 1180.9 495.4 1183.8 494.7 1186.7 493.9 1189.6 493.1 1192.5 492.4 1195.4 491.6 1198.3 490.9 1201.2 490.2 1204.1 489.5 1207.0" fill="none" stroke="#000000" stroke-width="10.2" stroke-linejoin="round" stroke-linecap="round"/>
<path d="M521.5 789.0L519.0 791.2 517.0 792.6 515.3 793.3 513.9 793.3 512.8 792.7 512.0 791.5 511.5 789.9 511.1 787.8 510.9 785.3 510.9 782.5 511.0 779.5 511.1 776.3 511.3 773.0 511.6 769.6 511.8 766.3 512.0 762.9 512.2 759.6 512.4 756.3 512.5 753.1 512.7 749.9 512.8 746.7 512.9 743.5 513.0 740.4 513.1 737.3 513.1 734.2 513.2 731.1 513.3 728.0 513.3 725.0 513.4 721.9 513.5 718.9 513.5 715.9 513.6 712.9 513.7 709.9 513.7 706.9 513.8 703.9 513.9 700.9 514.0 698.0 514.1 695.0 514.2 692.0 514.4 689.0 514.5 686.1 514.7 683.1 514.9 680.1 515.0 677.1 515.2 674.2 515.4 671.2 515.6 668.2 515.9 665.3 516.1 662.3 516.3 659.3 516.6 656.4 516.9 653.4 517.1 650.5 517.4 647.5 517.7 644.5 518.0 641.6 518.3 638.6 518.6 635.6 518.9 632.7 519.3 629.7 519.6 626.8 520.0 623.8 520.3 620.8 520.7 617.9 521.1 614.9 521.4 612.0 521.8 609.0 522.2 606.0 522.6 603.1 523.0 600.1 523.4 597.1 523.9 594.2 524.3 591.2 524.7 588.2 525.2 585.3 525.6 582.3 526.1 579.3 526.6 576.4 527.0 573.4 527.5 570.4 528.0 567.5 528.5 564.5 528.9 561.5 529.4 558.5 529.9 555.6 530.4 552.6 531.0 549.6 531.5 546.6 532.0 543.6 532.6 540.7 533.1 537.7 533.7 534.7 534.3 531.7 534.9 528.8 535.5 525.8 536.2 522.9 536.9 519.9 537.6 517.0 538.3 514.1 539.1 511.2 539.9 508.3 540.7 505.4 541.6 502.5 542.5 499.7 543.5 496.8 544.5 494.0 545.5 491.2 546.6 488.4 547.7 485.6 548.9 482.9 550.1 480.2 551.4 477.5 552.8 474.8 554.2 472.1 555.6 469.5 557.1 466.9 558.7 464.3 560.4 461.7 562.1 459.2 563.9 456.8 565.7 454.4 567.6 452.1 569.6 449.8 571.6 447.7 573.8 445.6 575.9 443.6 578.2 441.7 580.5 439.9 583.0 438.3 585.5 436.8 588.0 435.4 590.7 434.1 593.4 433.0 596.2 431.9 599.0 431.0 601.9 430.2 604.8 429.5 607.8 428.9 610.8 428.3 613.8 427.8 616.8 427.4 619.8 427.0 622.9 426.6 625.9 426.3 628.9 426.0 631.9 425.7 635.0 425.4 638.0 425.2 641.0 425.0 644.0 424.8 647.0 424.6 650.0 424.4 653.0 424.3 656.0 424.2 659.0 424.0 662.0 423.9 665.0 423.8 668.0 423.7 671.0 423.6 674.0 423.6 677.0 423.5 680.0 423.4 683.0 423.3 686.0 423.2 689.0 423.1 692.0 423.0 695.1 422.9 698.1 422.8 701.1 422.7 704.1 422.6 707.1 422.4 710.1 422.2 713.2 422.1 716.2 421.8 719.2 421.6 722.2 421.3 725.2 421.1 728.2 420.7 731.2 420.4 734.1 420.0 737.1 419.5 740.1 419.1 743.0 418.5 745.9 418.0 748.9 417.3 751.8 416.6 754.6 415.9 757.5 415.1 760.4 414.3 763.2 413.4 766.0 412.4 768.8 411.3 771.5 410.3 774.3 409.1 777.0 407.9 779.8 406.7 782.5 405.5 785.2 404.2 787.9 402.8 790.6 401.5 793.3 400.1 796.0 398.7 798.6 397.3 801.3 395.8 804.0 394.4 806.7 393.0 809.3 391.5 812.0 390.0 814.7 388.6 817.4 387.2 820.1 385.7 822.8 384.3 825.5 382.9 828.2 381.5 831.0 380.2 833.7 378.9 836.5 377.6 839.3 376.3 842.1 375.1 844.9 373.9 847.7 372.8 850.6 371.7 853.4 370.7 856.3 369.8 859.3 368.9 862.2 368.0 865.2 367.3 868.2 366.6 871.2 366.0 874.2 365.6 877.2 365.3 880.1 365.2 883.0 365.2 885.8 365.5 888.5 366.0 891.2 366.7 893.9 367.5 896.5 368.5 899.0 369.7 901.5 371.0 904.0 372.5 906.4 374.1 908.9 375.7 911.2 377.5 913.6 379.4 915.9 381.4 918.2 383.4 920.5 385.5 922.8 387.6 925.1 389.8 927.3 391.9 929.6 394.2 931.9 396.4 934.2 398.6 936.4 400.8 938.7 402.9 941.0 405.0 943.4 407.1 945.7 409.1 948.1 411.0 950.5 412.9 952.9 414.6 955.4 416.3 957.9 417.9 960.4 419.3 963.0 420.7 965.6 421.9 968.2 423.1 970.8 424.2 973.5 425.2 976.2 426.2 979.0 427.1 981.8 427.9 984.5 428.6 987.4 429.3 990.2 430.0 993.1 430.6 995.9 431.1 998.8 431.6 1001.8 432.1 1004.7 432.6 1007.6 433.0 1010.6 433.4 1013.6 433.7 1016.6 434.1 1019.6 434.4 1022.6 434.8 1025.7 435.1 1028.7 435.5 1031.8 435.8 1034.8 436.2 1037.8 436.6 1040.9 437.0 1043.9 437.5 1046.9 438.1 1049.8 438.7 1052.8 439.3 1055.7 440.1 1058.6 440.9 1061.4 441.8 1064.2 442.8 1067.0 443.9 1069.7 445.1 1072.4 446.4 1075.0 447.8 1077.7 449.2 1080.2 450.7 1082.8 452.3 1085.4 453.9 1087.9 455.5 1090.4 457.2 1092.9 458.9 1095.4 460.6 1097.9 462.4 1100.4 464.1 1102.9 465.8 1105.4 467.5 1107.9 469.2 1110.4 470.9 1113.0 472.5 1115.5 474.1 1118.1 475.6 1120.7 477.1 1123.4 478.5 1126.1 479.9 1128.7 481.2 1131.5 482.4 1134.2 483.6 1136.9 484.7 1139.7 485.8 1142.5 486.8 1145.3 487.8 1148.1 488.7 1150.9 489.6 1153.8 490.4 1156.7 491.1 1159.5 491.8 1162.4 492.5 1165.3 493.1 1168.2 493.6 1171.1 494.1 1174.1 494.6 1177.0 495.0 1180.0 495.4 1182.9 495.7 1185.9 496.0 1188.9 496.3 1191.9 496.5 1194.8 496.7 1197.8 496.9 1200.8 497.0 1203.8 497.1 1206.9 497.2 1209.9 497.3 1212.9 497.3 1215.9 497.3 1219.0 497.3 1222.0 497.3 1225.0 497.3 1228.1 497.2 1231.1 497.1 1234.1 497.1 1237.2 497.0 1240.2 496.9 1243.3 496.8 1246.3 496.7 1249.3 496.6 1252.4 496.5 1255.4 496.4 1258.4 496.3 1261.5 496.2 1264.5 496.1 1267.5 496.0 1270.5 495.9 1273.5 495.8 1276.5 495.8 1279.5 495.7 1282.5 495.6 1285.5 495.5 1288.5 495.5 1291.5 495.4 1294.5 495.4 1297.5 495.3 1300.5 495.2 1303.5 495.1 1306.5 495.1 1309.5 495.0 1312.5 494.9 1315.5 494.8 1318.5 494.7 1321.4 494.6 1324.4 494.5 1327.4 494.4 1330.4 494.2 1333.4 494.1 1336.4 494.0 1339.4 493.8 1342.4 493.7 1345.3 493.5 1348.3 493.3 1351.3 493.2 1354.3 493.0 1357.3 492.8 1360.3 492.6 1363.3 492.4 1366.2 492.2 1369.2 492.0 1372.2 491.8 1375.2 491.6 1378.2 491.3 1381.2 491.1 1384.1 490.8 1387.1 490.6 1390.1 490.3 1393.1 490.1 1396.1 489.8 1399.1 489.6 1402.0 489.3 1405.0 489.0 1408.0 488.7 1411.0 488.4 1414.0 488.1 1416.9 487.8 1419.9 487.5 1422.9 487.2 1425.9 486.9 1428.9 486.6 1431.9 486.2 1434.8 485.9 1437.8 485.6 1440.8 485.2 1443.8 484.9 1446.8 484.5 1449.7 484.2 1452.7 483.8 1455.7 483.5 1458.7 483.1 1461.6 482.7 1464.6 482.4 1467.6 482.0 1470.6 481.6 1473.6 481.2 1476.5 480.8 1479.5 480.4 1482.5 480.0 1485.5 479.6 1488.4 479.2 1491.4 478.8 1494.4 478.4 1497.4 478.0 1500.3 477.6 1503.3 477.1 1506.3 476.7 1509.2 476.3 1512.2 475.8 1515.2 475.4 1518.2 475.0 1521.1 474.5 1524.1 474.1 1527.1 473.6 1530.1 473.2 1533.0 472.7 1536.0 472.3 1539.0 471.8 1541.9 471.4 1544.9 470.9 1547.9 470.4 1550.8 470.0 1553.8 469.5 1556.8 469.0 1559.7 468.5 1562.7 468.1 1565.7 467.6 1568.6 467.1 1571.6 466.6 1574.6 466.1 1577.5 465.7 1580.5 465.2 1583.5 464.7 1586.4 464.2 1589.4 463.7 1592.4 463.2 1595.3 462.7 1598.3 462.2 1601.3 461.7 1604.2 461.2 1607.2 460.7 1610.1 460.2 1613.1 459.7 1616.1 459.2 1619.0 458.7 1622.0 458.2 1624.9 457.7 1627.9 457.1 1630.8 456.6 1633.8 456.1 1636.7 455.5 1639.7 454.9 1642.6 454.3 1645.5 453.7 1648.5 453.1 1651.4 452.5 1654.3 451.9 1657.2 451.2 1660.1 450.5 1663.0 449.8 1665.9 449.1 1668.8 448.3 1671.7 447.6 1674.5 446.8 1677.4 445.9 1680.2 445.1 1683.1 444.2 1685.9 443.3 1688.8 442.3 1691.6 441.4 1694.4 440.4 1697.2 439.3 1700.0 438.2 1702.7 437.1 1705.5 436.0 1708.2 434.8 1711.0 433.6 1713.7 432.3 1716.4 431.0 1719.1 429.7 1721.8 428.3 1724.5 427.0 1727.2 425.6 1729.9 424.2 1732.6 422.8 1735.3 421.3 1737.9 419.9 1740.6 418.5 1743.3 417.0 1745.9 415.6 1748.6 414.2 1751.3 412.7 1754.0 411.3 1756.7 409.9 1759.3 408.5 1762.0 407.2 1764.7 405.8 1767.4 404.5 1770.1 403.2 1772.9 402.0 1775.6 400.7 1778.3 399.5 1781.1 398.4 1783.9 397.3 1786.6 396.2 1789.4 395.2 1792.2 394.2 1795.0 393.3 1797.9 392.4 1800.7 391.5 1803.5 390.7 1806.4 389.9 1809.2 389.1 1812.1 388.3 1815.0 387.6 1817.9 387.0 1820.8 386.3 1823.7 385.7 1826.6 385.1 1829.5 384.5 1832.5 384.0 1835.4 383.5 1838.3 383.0 1841.3 382.5 1844.2 382.0 1847.2 381.6 1850.2 381.2 1853.1 380.8 1856.1 380.4 1859.1 380.0 1862.1 379.7 1865.1 379.3 1868.1 379.0 1871.0 378.7 1874.0 378.4 1877.1 378.1 1880.1 377.8 1883.1 377.5 1886.1 377.3 1889.1 377.0 1892.1 376.7 1895.1 376.5 1898.1 376.2 1901.1 375.9 1904.2 375.7 1907.2 375.4 1910.2 375.1 1913.2 374.9 1916.2 374.6 1919.2 374.3 1922.2 374.0 1925.3 373.7 1928.3 373.4 1931.3 373.1 1934.3 372.8 1937.3 372.5 1940.3 372.1 1943.3 371.8 1946.2 371.4 1949.2 371.0 1952.2 370.6 1955.2 370.2 1958.2 369.7 1961.1 369.3 1964.1 368.8 1967.1 368.3 1970.0 367.8 1973.0 367.2 1975.9 366.7 1978.8 366.1 1981.8 365.5 1984.7 365.0 1987.6 364.4 1990.6 363.8 1993.5 363.1 1996.4 362.5 1999.4 361.9 2002.3 361.2 2005.2 360.6 2008.1 359.9 2011.0 359.3 2013.9 358.6 2016.9 357.9 2019.8 357.3 2022.7 356.6 2025.6 355.9 2028.5 355.2 2031.4 354.6 2034.3 353.9 2037.3 353.2 2040.2 352.5 2043.1 351.9 2046.0 351.2 2048.9 350.6 2051.8 349.9 2054.8 349.3 2057.7 348.6 2060.6 348.0 2063.6 347.4 2066.5 346.8 2069.4 346.2 2072.4 345.6 2075.3 345.1 2078.3 344.5 2081.2 344.0 2084.2 343.4 2087.1 342.9 2090.1 342.4 2093.1 341.9 2096.0 341.5 2099.0 341.0 2102.0 340.6 2105.0 340.2 2108.0 339.9 2111.0 339.5 2111.2 342.5 2111.5 345.5 2111.7 348.6 2111.9 351.6 2112.1 354.6 2112.3 357.6 2112.4 360.6 2112.6 363.6 2112.7 366.6 2112.8 369.6 2112.9 372.6 2113.0 375.6 2113.0 378.6 2113.1 381.6 2113.1 384.6 2113.1 387.6 2113.1 390.5 2113.0 393.5 2113.0 396.5 2112.9 399.5 2112.8 402.5 2112.6 405.5 2112.5 408.4 2112.3 411.4 2112.1 414.4 2111.9 417.3 2111.6 420.3 2111.4 423.3 2111.0 426.2 2110.7 429.2 2110.4 432.2 2110.0 435.1 2109.5 438.1 2109.1 441.0 2108.6 444.0 2108.1 446.9 2107.6 449.9 2107.0 452.8 2106.4 455.8 2105.8 458.7 2105.1 461.7 2104.4 464.6 2103.7 467.6 2102.9 470.5 2102.1 473.4 2101.3 476.4 2100.4 479.3 2099.5 482.2 2098.6 485.1 2097.6 488.1 2096.6 491.0 2095.5 493.8 2094.4 496.7 2093.3 499.6 2092.1 502.4 2090.9 505.2 2089.7 508.0 2088.4 510.8 2087.1 513.6 2085.7 516.3 2084.3 519.0 2082.9 521.7 2081.4 524.4 2079.9 527.0 2078.4 529.6 2076.8 532.1 2075.1 534.6 2073.5 537.1 2071.8 539.6 2070.0 542.0 2068.2 544.3 2066.4 546.6 2064.5 548.9 2062.6 551.1 2060.6 553.3 2058.6 555.4 2056.5 557.5 2054.4 559.5 2052.3 561.4 2050.1 563.4 2047.9 565.2 2045.6 567.0 2043.3 568.8 2041.0 570.5 2038.6 572.2 2036.2 573.8 2033.8 575.4 2031.3 576.9 2028.8 578.4 2026.3 579.9 2023.7 581.3 2021.1 582.7 2018.5 584.1 2015.9 585.4 2013.2 586.7 2010.5 588.0 2007.8 589.2 2005.0 590.5 2002.3 591.6 1999.5 592.8 1996.7 593.9 1993.9 595.1 1991.1 596.2 1988.2 597.3 1985.4 598.3 1982.5 599.4 1979.6 600.4 1976.7 601.4 1973.8 602.4 1970.9 603.4 1968.0 604.4 1965.1 605.4 1962.1 606.4 1959.2 607.3 1956.3 608.3 1953.3 609.3 1950.4 610.2 1947.5 611.2 1944.5 612.2 1941.6 613.1 1938.7 614.1 1935.8 615.1 1932.8 616.1 1929.9 617.1 1927.0 618.1 1924.1 619.1 1921.2 620.1 1918.3 621.1 1915.5 622.2 1912.6 623.2 1909.7 624.2 1906.8 625.3 1904.0 626.3 1901.1 627.3 1898.2 628.4 1895.4 629.4 1892.5 630.4 1889.7 631.4 1886.8 632.5 1884.0 633.5 1881.2 634.5 1878.3 635.5 1875.5 636.5 1872.6 637.5 1869.8 638.5 1867.0 639.5 1864.1 640.5 1861.3 641.4 1858.5 642.4 1855.6 643.3 1852.8 644.2 1850.0 645.2 1847.1 646.1 1844.3 647.0 1841.4 647.8 1838.6 648.7 1835.7 649.5 1832.9 650.3 1830.0 651.2 1827.2 651.9 1824.3 652.7 1821.5 653.5 1818.6 654.2 1815.7 654.9 1812.9 655.6 1810.0 656.2 1807.1 656.9 1804.2 657.5 1801.3 658.1 1798.4 658.6 1795.5 659.2 1792.6 659.7 1789.7 660.1 1786.8 660.6 1783.9 661.0 1780.9 661.4 1778.0 661.8 1775.0 662.1 1772.1 662.4 1769.1 662.7 1766.2 662.9 1763.2 663.1 1760.2 663.3 1757.2 663.4 1754.2 663.6 1751.2 663.7 1748.2 663.7 1745.2 663.8 1742.2 663.8 1739.2 663.8 1736.2 663.8 1733.2 663.7 1730.2 663.7 1727.2 663.6 1724.2 663.5 1721.2 663.3 1718.1 663.2 1715.1 663.0 1712.1 662.8 1709.1 662.6 1706.1 662.3 1703.1 662.1 1700.1 661.8 1697.1 661.5 1694.1 661.2 1691.0 660.9 1688.0 660.6 1685.0 660.2 1682.1 659.8 1679.1 659.5 1676.1 659.1 1673.1 658.6 1670.1 658.2 1667.1 657.8 1664.1 657.3 1661.2 656.9 1658.2 656.4 1655.2 655.9 1652.2 655.4 1649.3 654.9 1646.3 654.4 1643.4 653.8 1640.4 653.3 1637.4 652.8 1634.5 652.2 1631.5 651.6 1628.6 651.1 1625.6 650.5 1622.7 649.9 1619.7 649.3 1616.8 648.7 1613.8 648.1 1610.9 647.5 1607.9 646.8 1605.0 646.2 1602.0 645.6 1599.1 644.9 1596.2 644.3 1593.2 643.7 1590.3 643.0 1587.3 642.4 1584.4 641.7 1581.5 641.1 1578.5 640.4 1575.6 639.7 1572.7 639.1 1569.7 638.4 1566.8 637.8 1563.9 637.1 1560.9 636.4 1558.0 635.8 1555.1 635.1 1552.1 634.5 1549.2 633.8 1546.3 633.1 1543.3 632.5 1540.4 631.8 1537.5 631.2 1534.5 630.6 1531.6 629.9 1528.7 629.3 1525.7 628.7 1522.8 628.0 1519.9 627.4 1516.9 626.8 1514.0 626.2 1511.0 625.6 1508.1 625.0 1505.2 624.4 1502.2 623.9 1499.3 623.3 1496.3 622.7 1493.4 622.2 1490.4 621.7 1487.5 621.1 1484.6 620.6 1481.6 620.1 1478.7 619.6 1475.7 619.1 1472.7 618.6 1469.8 618.2 1466.8 617.7 1463.9 617.3 1460.9 616.9 1457.9 616.4 1455.0 616.0 1452.0 615.6 1449.0 615.2 1446.1 614.9 1443.1 614.5 1440.1 614.1 1437.2 613.8 1434.2 613.4 1431.2 613.1 1428.2 612.7 1425.3 612.4 1422.3 612.1 1419.3 611.8 1416.3 611.5 1413.3 611.2 1410.4 610.9 1407.4 610.6 1404.4 610.3 1401.4 610.0 1398.4 609.7 1395.4 609.4 1392.4 609.1 1389.4 608.8 1386.4 608.5 1383.5 608.3 1380.5 608.0 1377.5 607.7 1374.5 607.4 1371.5 607.2 1368.5 606.9 1365.5 606.6 1362.5 606.3 1359.5 606.0 1356.5 605.7 1353.5 605.5 1350.5 605.2 1347.5 604.9 1344.5 604.6 1341.5 604.3 1338.5 604.0 1335.5 603.7 1332.5 603.3 1329.5 603.0 1326.5 602.7 1323.5 602.4 1320.5 602.1 1317.5 601.8 1314.5 601.5 1311.5 601.2 1308.5 600.9 1305.5 600.5 1302.5 600.2 1299.5 599.9 1296.5 599.6 1293.5 599.3 1290.4 599.0 1287.4 598.7 1284.4 598.5 1281.4 598.2 1278.4 597.9 1275.4 597.6 1272.4 597.4 1269.4 597.1 1266.4 596.8 1263.4 596.6 1260.4 596.3 1257.4 596.1 1254.4 595.9 1251.4 595.7 1248.4 595.4 1245.4 595.2 1242.4 595.1 1239.4 594.9 1236.4 594.7 1233.4 594.5 1230.4 594.4 1227.4 594.2 1224.4 594.1 1221.4 594.0 1218.4 593.9 1215.4 593.8 1212.4 593.7 1209.4 593.7 1206.4 593.6 1203.5 593.6 1200.5 593.6 1197.5 593.5 1194.5 593.6 1191.5 593.6 1188.5 593.6 1185.5 593.7 1182.5 593.7 1179.5 593.8 1176.6 593.9 1173.6 594.1 1170.6 594.2 1167.6 594.4 1164.6 594.6 1161.7 594.8 1158.7 595.0 1155.7 595.2 1152.7 595.5 1149.7 595.8 1146.8 596.1 1143.8 596.4 1140.8 596.7 1137.9 597.1 1134.9 597.5 1131.9 597.9 1129.0 598.4 1126.0 598.8 1123.0 599.3 1120.1 599.8 1117.1 600.3 1114.2 600.9 1111.2 601.4 1108.2 602.0 1105.3 602.6 1102.3 603.2 1099.4 603.8 1096.5 604.5 1093.5 605.1 1090.6 605.8 1087.6 606.5 1084.7 607.2 1081.8 607.9 1078.8 608.6 1075.9 609.3 1073.0 610.1 1070.1 610.8 1067.2 611.6 1064.2 612.3 1061.3 613.1 1058.4 613.9 1055.5 614.7 1052.6 615.5 1049.7 616.3 1046.8 617.1 1043.9 617.9 1041.0 618.7 1038.2 619.5 1035.3 620.4 1032.4 621.2 1029.5 622.0 1026.6 622.8 1023.7 623.5 1020.8 624.3 1017.9 625.0 1015.0 625.8 1012.1 626.5 1009.2 627.1 1006.2 627.8 1003.3 628.4 1000.3 629.0 997.4 629.6 994.4 630.2 991.4 630.7 988.5 631.3 985.5 631.8 982.5 632.4 979.5 632.9 976.6 633.4 973.6 634.0 970.6 634.5 967.7 635.1 964.7 635.7 961.8 636.3 958.8 636.9 955.9 637.5 953.0 638.2 950.1 638.9 947.2 639.6 944.3 640.4 941.4 641.2 938.6 642.0 935.8 642.9 933.0 643.8 930.2 644.8 927.4 645.8 924.7 646.9 921.9 648.0 919.2 649.2 916.5 650.4 913.9 651.7 911.2 653.0 908.6 654.3 905.9 655.7 903.3 657.1 900.7 658.5 898.1 660.0 895.5 661.5 892.9 663.0 890.4 664.5 887.8 666.0 885.2 667.6 882.6 669.2 880.1 670.8 877.5 672.3 874.9 673.9 872.3 675.5 869.7 677.1 867.1 678.7 864.5 680.3 861.9 681.9 859.3 683.5 856.7 685.0 854.1 686.6 851.4 688.1 848.7 689.6 846.1 691.1 843.4 692.6 840.7 694.0 838.0 695.4 835.2 696.8 832.5 698.1 829.8 699.3 827.0 700.6 824.2 701.7 821.5 702.8 818.7 703.9 815.8 704.9 813.0 705.8 810.2 706.7 807.3 707.5 804.5 708.2 801.6 708.8 798.7 709.4 795.8 709.8 792.9 710.2 790.0 710.5 787.1 710.7 784.1 710.9 781.2 710.9 778.2 710.9 775.3 710.8 772.3 710.7 769.3 710.5 766.3 710.3 763.3 710.0 760.3 709.7 757.3 709.4 754.3 709.0 751.3 708.6 748.3 708.2 745.3 707.8 742.3 707.3 739.3 706.9 736.3 706.4 733.3 706.0 730.3 705.5 727.3 705.1 724.3 704.7 721.4 704.3 718.4 703.9 715.4 703.5 712.4 703.2 709.5 702.9 706.5 702.6 703.5 702.4 700.6 702.2 697.6 702.0 694.7 701.9 691.7 701.8 688.8 701.7 685.9 701.7 682.9 701.7 680.0 701.8 677.1 701.9 674.1 702.1 671.2 702.4 668.3 702.7 665.4 703.1 662.5 703.5 659.5 704.0 656.6 704.5 653.7 705.1 650.8 705.7 647.9 706.4 645.0 707.2 642.1 708.0 639.3 708.8 636.4 709.7 633.5 710.6 630.6 711.6 627.8 712.6 624.9 713.6 622.0 714.7 619.2 715.8 616.3 716.9 613.5 718.1 610.7 719.3 607.8 720.5 605.0 721.7 602.2 723.0 599.4 724.3 596.6 725.6 593.8 726.9 591.0 728.3 588.2 729.7 585.4 731.0 582.7 732.4 579.9 733.8 577.2 735.2 574.4 736.6 571.7 738.1 568.9 739.5 566.2 740.9 563.5 742.3 560.8 743.8 558.1 745.2 555.4 746.6 552.8 748.1 550.2 749.6 547.6 751.1 545.1 752.6 542.6 754.2 540.1 755.8 537.8 757.4 535.4 759.1 533.2 760.9 531.0 762.8 528.9 764.7 526.9 766.6 525.0 768.7 523.2 770.8 521.4 773.1 519.8 775.4 518.3 777.9 516.9 780.4 515.7 783.1 514.6 785.9 513.6 788.8 512.7 791.8 512.0 795.0" fill="none" stroke="#00ffff" stroke-width="10.2" stroke-linejoin="round" stroke-linecap="round"/>
<g stroke="#000" stroke-width="5.6" stroke-linecap="round" fill="none">
<rect x="301.0" y="23.5" width="1861.0" height="1226.5" stroke-linecap="square" stroke-linejoin="miter"/>
<line x1="287.0" y1="1216.9" x2="301.0" y2="1216.9"/>
<line x1="274.0" y1="1120.2" x2="301.0" y2="1120.2"/>
<line x1="287.0" y1="1023.4" x2="301.0" y2="1023.4"/>
<line x1="274.0" y1="926.6" x2="301.0" y2="926.6"/>
<line x1="287.0" y1="829.8" x2="301.0" y2="829.8"/>
<line x1="274.0" y1="733.0" x2="301.0" y2="733.0"/>
<line x1="287.0" y1="636.3" x2="301.0" y2="636.3"/>
<line x1="274.0" y1="539.5" x2="301.0" y2="539.5"/>
<line x1="287.0" y1="442.7" x2="301.0" y2="442.7"/>
<line x1="274.0" y1="345.9" x2="301.0" y2="345.9"/>
<line x1="287.0" y1="249.2" x2="301.0" y2="249.2"/>
<line x1="274.0" y1="152.4" x2="301.0" y2="152.4"/>
<line x1="287.0" y1="55.6" x2="301.0" y2="55.6"/>
<line x1="301.0" y1="1250.0" x2="301.0" y2="1275.0"/>
<line x1="470.2" y1="1250.0" x2="470.2" y2="1262.0"/>
<line x1="639.4" y1="1250.0" x2="639.4" y2="1275.0"/>
<line x1="808.6" y1="1250.0" x2="808.6" y2="1262.0"/>
<line x1="977.8" y1="1250.0" x2="977.8" y2="1275.0"/>
<line x1="1147.0" y1="1250.0" x2="1147.0" y2="1262.0"/>
<line x1="1316.2" y1="1250.0" x2="1316.2" y2="1275.0"/>
<line x1="1485.4" y1="1250.0" x2="1485.4" y2="1262.0"/>
<line x1="1654.6" y1="1250.0" x2="1654.6" y2="1275.0"/>
<line x1="1823.8" y1="1250.0" x2="1823.8" y2="1262.0"/>
<line x1="1993.0" y1="1250.0" x2="1993.0" y2="1275.0"/>
<line x1="2162.2" y1="1250.0" x2="2162.2" y2="1262.0"/>
</g>
<g font-family="'Liberation Serif','Times New Roman',serif" fill="#000">
<text transform="translate(253.5,175.4) scale(1.080,1)" font-size="78" text-anchor="end">300</text>
<text transform="translate(253.5,368.9) scale(1.045,1)" font-size="78" text-anchor="end">150</text>
<text transform="translate(253.5,562.5) scale(1.076,1)" font-size="78" text-anchor="end">0</text>
<text transform="translate(253.5,756.0) scale(1.074,1)" font-size="78" text-anchor="end">-150</text>
<text transform="translate(253.5,949.6) scale(1.074,1)" font-size="78" text-anchor="end">-300</text>
<text transform="translate(253.5,1143.2) scale(1.074,1)" font-size="78" text-anchor="end">-450</text>
<text transform="translate(300.0,1349.0) scale(1.068,1)" font-size="78" text-anchor="middle">-1.0</text>
<text transform="translate(638.4,1349.0) scale(1.068,1)" font-size="78" text-anchor="middle">-0.8</text>
<text transform="translate(976.8,1349.0) scale(1.068,1)" font-size="78" text-anchor="middle">-0.6</text>
<text transform="translate(1315.2,1349.0) scale(1.068,1)" font-size="78" text-anchor="middle">-0.4</text>
<text transform="translate(1653.6,1349.0) scale(1.068,1)" font-size="78" text-anchor="middle">-0.2</text>
<text transform="translate(1992.0,1349.0) scale(1.068,1)" font-size="78" text-anchor="middle">0.0</text>
<text transform="translate(1243.5,1449.0) scale(1.099,1)" font-size="77" text-anchor="middle">Potential / V vs. Hg/HgO/OH<tspan dy="-30" font-size="50">-</tspan><tspan dy="30"> (0.1M)</tspan></text>
<text transform="translate(75,636) rotate(-90) scale(0.991,1)" font-size="77" text-anchor="middle">Current / μA</text>
<text transform="translate(778.0,108.7) scale(1.053,1)" font-size="76" text-anchor="start">P1</text>
<text transform="translate(1082.0,189.7) scale(1.060,1)" font-size="76" text-anchor="start">P2</text>
<text transform="translate(1459.0,289.9) scale(1.069,1)" font-size="76" text-anchor="start">P3</text>
<text transform="translate(2005.0,736.7) scale(1.090,1)" font-size="76" text-anchor="start">P4</text>
</g>
<line x1="960" y1="782.7" x2="1105" y2="782.7" stroke="#ff0000" stroke-width="10.2" stroke-linecap="round"/>
<g font-family="'Liberation Serif','Times New Roman',serif" fill="#000"><text transform="translate(1121.0,801.8) scale(1.140,1)" font-size="57" text-anchor="start">PdNi/C 90:10</text></g>
<line x1="960" y1="853.4" x2="1105" y2="853.4" stroke="#00ff00" stroke-width="10.2" stroke-linecap="round"/>
<g font-family="'Liberation Serif','Times New Roman',serif" fill="#000"><text transform="translate(1121.0,872.5) scale(1.140,1)" font-size="57" text-anchor="start">PdNi/C 80:20</text></g>
<line x1="960" y1="924.0" x2="1105" y2="924.0" stroke="#0000ff" stroke-width="10.2" stroke-linecap="round"/>
<g font-family="'Liberation Serif','Times New Roman',serif" fill="#000"><text transform="translate(1121.0,943.1) scale(1.140,1)" font-size="57" text-anchor="start">PdNi/C 70:30</text></g>
<line x1="960" y1="994.7" x2="1105" y2="994.7" stroke="#ff00ff" stroke-width="10.2" stroke-linecap="round"/>
<g font-family="'Liberation Serif','Times New Roman',serif" fill="#000"><text transform="translate(1121.0,1013.8) scale(1.140,1)" font-size="57" text-anchor="start">PdNi/C 60:40</text></g>
<line x1="960" y1="1065.4" x2="1105" y2="1065.4" stroke="#960000" stroke-width="10.2" stroke-linecap="round"/>
<g font-family="'Liberation Serif','Times New Roman',serif" fill="#000"><text transform="translate(1121.0,1084.5) scale(1.140,1)" font-size="57" text-anchor="start">PdNi/C 50:50</text></g>
<line x1="960" y1="1136.1" x2="1105" y2="1136.1" stroke="#000000" stroke-width="10.2" stroke-linecap="round"/>
<g font-family="'Liberation Serif','Times New Roman',serif" fill="#000"><text transform="translate(1121.0,1155.2) scale(1.140,1)" font-size="57" text-anchor="start">Pd/C</text></g>
<line x1="960" y1="1206.7" x2="1105" y2="1206.7" stroke="#00ffff" stroke-width="10.2" stroke-linecap="round"/>
<g font-family="'Liberation Serif','Times New Roman',serif" fill="#000"><text transform="translate(1121.0,1225.8) scale(1.140,1)" font-size="57" text-anchor="start">Pt/C</text></g>
<line x1="630.6" y1="104.0" x2="742.4" y2="86.9" stroke="#000" stroke-width="3.0"/><polygon points="776.0,81.8 741.7,95.6 739.1,78.8" fill="#000"/>
<line x1="997.6" y1="284.8" x2="1061.6" y2="219.7" stroke="#000" stroke-width="3.0"/><polygon points="1085.4,195.4 1066.2,227.0 1054.1,215.1" fill="#000"/>
<line x1="1484.6" y1="455.0" x2="1484.6" y2="331.2" stroke="#000" stroke-width="3.0"/><polygon points="1484.6,302.2 1494.1,333.2 1475.1,333.2" fill="#000"/>
<line x1="1721.9" y1="712.9" x2="1927.9" y2="713.2" stroke="#000" stroke-width="3.0"/><polygon points="1962.9,713.3 1925.9,722.0 1925.9,704.5" fill="#000"/>
</svg></body></html>
